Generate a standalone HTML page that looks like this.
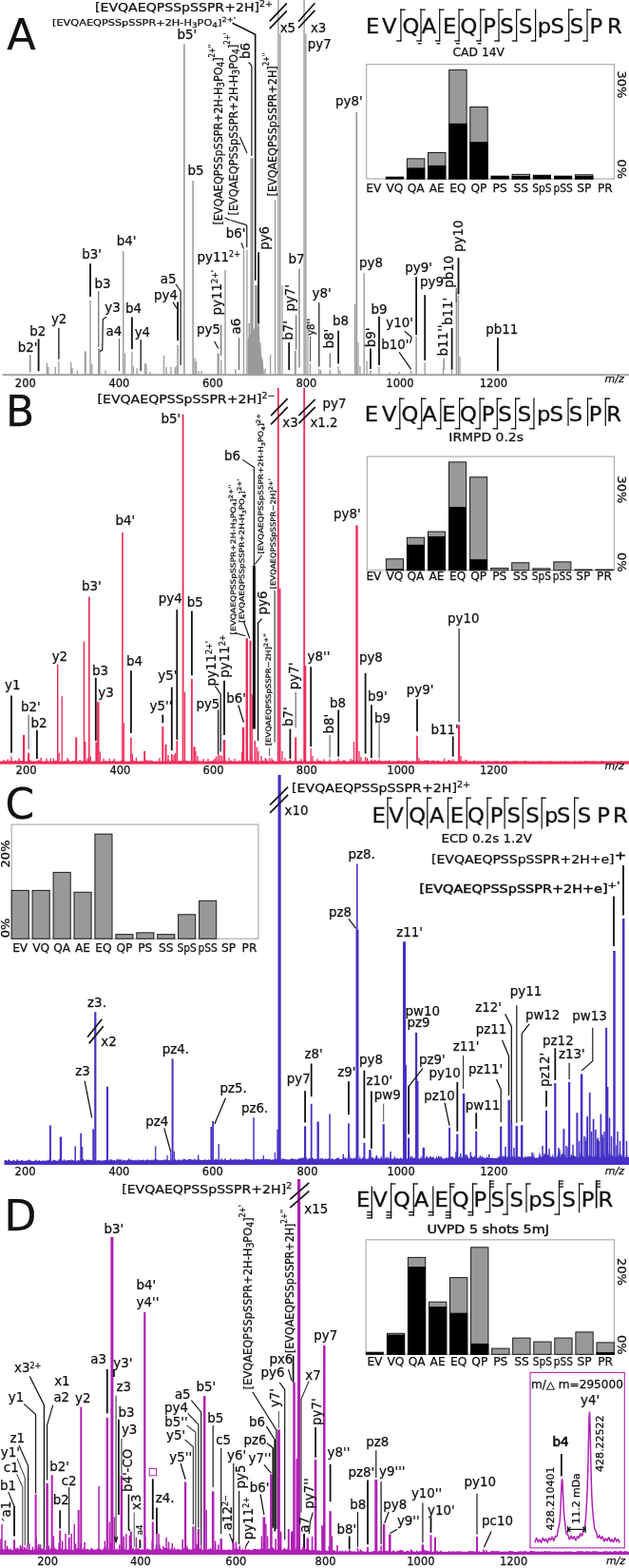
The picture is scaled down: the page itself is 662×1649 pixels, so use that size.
<!DOCTYPE html>
<html><head><meta charset="utf-8"><title>Figure</title>
<style>
html,body{margin:0;padding:0;background:#fff;}
svg{display:block;font-family:"DejaVu Sans","Liberation Sans",sans-serif;}
</style></head><body>
<svg width="662" height="1649" viewBox="0 0 662 1649">
<rect x="0" y="0" width="662" height="1649" fill="#fff"/>
<line x1="49.4" y1="394.2" x2="49.4" y2="381.6" stroke="#9a9a9a" stroke-width="1.3"/>
<line x1="50.9" y1="394.2" x2="50.9" y2="386" stroke="#9a9a9a" stroke-width="1.3"/>
<line x1="58.4" y1="394.2" x2="58.4" y2="385.8" stroke="#9a9a9a" stroke-width="1.3"/>
<line x1="61.9" y1="394.2" x2="61.9" y2="380.3" stroke="#9a9a9a" stroke-width="1.3"/>
<line x1="74.7" y1="394.2" x2="74.7" y2="381" stroke="#9a9a9a" stroke-width="1.3"/>
<line x1="76" y1="394.2" x2="76" y2="387" stroke="#9a9a9a" stroke-width="1.3"/>
<line x1="81.5" y1="394.2" x2="81.5" y2="389.5" stroke="#9a9a9a" stroke-width="1.3"/>
<line x1="96.8" y1="394.2" x2="96.8" y2="382.8" stroke="#9a9a9a" stroke-width="1.3"/>
<line x1="111" y1="394.2" x2="111" y2="389.5" stroke="#9a9a9a" stroke-width="1.3"/>
<line x1="131.4" y1="394.2" x2="131.4" y2="371.5" stroke="#9a9a9a" stroke-width="1.3"/>
<line x1="138.9" y1="394.2" x2="138.9" y2="369.8" stroke="#9a9a9a" stroke-width="1.3"/>
<line x1="140.4" y1="394.2" x2="140.4" y2="385" stroke="#9a9a9a" stroke-width="1.3"/>
<line x1="144.2" y1="394.2" x2="144.2" y2="387.3" stroke="#9a9a9a" stroke-width="1.3"/>
<line x1="152.7" y1="394.2" x2="152.7" y2="382" stroke="#9a9a9a" stroke-width="1.3"/>
<line x1="154" y1="394.2" x2="154" y2="383" stroke="#9a9a9a" stroke-width="1.3"/>
<line x1="158" y1="394.2" x2="158" y2="391" stroke="#9a9a9a" stroke-width="1.3"/>
<line x1="89.8" y1="394.2" x2="89.8" y2="369.5" stroke="#9a9a9a" stroke-width="2.0"/>
<line x1="95" y1="394.2" x2="95" y2="315.9" stroke="#9a9a9a" stroke-width="1.4"/>
<line x1="104.3" y1="394.2" x2="104.3" y2="366.5" stroke="#9a9a9a" stroke-width="2.6"/>
<line x1="129.7" y1="394.2" x2="129.7" y2="263.9" stroke="#9a9a9a" stroke-width="1.4"/>
<line x1="172.5" y1="394.2" x2="172.5" y2="374" stroke="#9a9a9a" stroke-width="1.3"/>
<line x1="175" y1="394.2" x2="175" y2="386" stroke="#9a9a9a" stroke-width="1.3"/>
<line x1="180" y1="394.2" x2="180" y2="386" stroke="#9a9a9a" stroke-width="1.3"/>
<line x1="184.3" y1="394.2" x2="184.3" y2="386" stroke="#9a9a9a" stroke-width="1.3"/>
<line x1="186" y1="394.2" x2="186" y2="384.5" stroke="#9a9a9a" stroke-width="1.3"/>
<line x1="205" y1="394.2" x2="205" y2="376.5" stroke="#9a9a9a" stroke-width="1.3"/>
<line x1="206.5" y1="394.2" x2="206.5" y2="380" stroke="#9a9a9a" stroke-width="1.3"/>
<line x1="209" y1="394.2" x2="209" y2="390" stroke="#9a9a9a" stroke-width="1.3"/>
<line x1="212" y1="394.2" x2="212" y2="390" stroke="#9a9a9a" stroke-width="1.3"/>
<line x1="232.7" y1="394.2" x2="232.7" y2="379" stroke="#9a9a9a" stroke-width="1.3"/>
<line x1="247.8" y1="394.2" x2="247.8" y2="388" stroke="#9a9a9a" stroke-width="1.3"/>
<line x1="279" y1="394.2" x2="279" y2="388" stroke="#9a9a9a" stroke-width="1.3"/>
<line x1="284.6" y1="394.2" x2="284.6" y2="372.8" stroke="#9a9a9a" stroke-width="1.3"/>
<line x1="187.1" y1="394.2" x2="187.1" y2="362.7" stroke="#9a9a9a" stroke-width="1.6"/>
<line x1="193.9" y1="394.2" x2="193.9" y2="46.2" stroke="#9a9a9a" stroke-width="1.6"/>
<line x1="203.1" y1="394.2" x2="203.1" y2="190.1" stroke="#9a9a9a" stroke-width="1.5"/>
<line x1="229.7" y1="394.2" x2="229.7" y2="371.5" stroke="#9a9a9a" stroke-width="2.2"/>
<line x1="237" y1="394.2" x2="237" y2="284" stroke="#9a9a9a" stroke-width="1.4"/>
<line x1="256.5" y1="394.2" x2="256.5" y2="262.8" stroke="#9a9a9a" stroke-width="1.3"/>
<line x1="259.9" y1="394.2" x2="259.9" y2="262.8" stroke="#9a9a9a" stroke-width="1.3"/>
<line x1="262.3" y1="394.2" x2="262.3" y2="340" stroke="#9a9a9a" stroke-width="1.6"/>
<line x1="265.1" y1="394.2" x2="265.1" y2="166.3" stroke="#9a9a9a" stroke-width="3.3"/>
<line x1="268.9" y1="394.2" x2="268.9" y2="300" stroke="#9a9a9a" stroke-width="1.8"/>
<line x1="270.3" y1="394.2" x2="270.3" y2="300" stroke="#9a9a9a" stroke-width="1.3"/>
<line x1="272.1" y1="394.2" x2="272.1" y2="340.2" stroke="#9a9a9a" stroke-width="1.6"/>
<line x1="274" y1="394.2" x2="274" y2="360" stroke="#9a9a9a" stroke-width="1.3"/>
<line x1="276" y1="394.2" x2="276" y2="378" stroke="#9a9a9a" stroke-width="1.3"/>
<path d="M260.6,394 L260.6,358 L262.5,352 L263.6,352 L266.3,348 L267.8,345 L270.5,343 L272.8,343 L273.6,362 L275,372 L276.5,380 L277.5,388 L278,394 Z" fill="#9a9a9a"/>
<line x1="289.6" y1="394.2" x2="289.6" y2="210" stroke="#9a9a9a" stroke-width="1.2"/>
<line x1="292.9" y1="394.2" x2="292.9" y2="0" stroke="#9a9a9a" stroke-width="1.4"/>
<line x1="294.8" y1="394.2" x2="294.8" y2="35.5" stroke="#9a9a9a" stroke-width="1.4"/>
<line x1="297" y1="394.2" x2="297" y2="300" stroke="#9a9a9a" stroke-width="1.2"/>
<line x1="310.8" y1="394.2" x2="310.8" y2="369" stroke="#9a9a9a" stroke-width="2.0"/>
<line x1="320.1" y1="394.2" x2="320.1" y2="0" stroke="#9a9a9a" stroke-width="1.4"/>
<line x1="321.9" y1="394.2" x2="321.9" y2="35.5" stroke="#9a9a9a" stroke-width="1.4"/>
<line x1="324" y1="394.2" x2="324" y2="340" stroke="#9a9a9a" stroke-width="1.2"/>
<line x1="326.5" y1="394.2" x2="326.5" y2="382.4" stroke="#9a9a9a" stroke-width="1.3"/>
<line x1="335.8" y1="394.2" x2="335.8" y2="388" stroke="#9a9a9a" stroke-width="1.3"/>
<line x1="337.5" y1="394.2" x2="337.5" y2="389" stroke="#9a9a9a" stroke-width="1.3"/>
<line x1="347.3" y1="394.2" x2="347.3" y2="389" stroke="#9a9a9a" stroke-width="1.3"/>
<line x1="356.1" y1="394.2" x2="356.1" y2="385.4" stroke="#9a9a9a" stroke-width="1.3"/>
<line x1="358" y1="394.2" x2="358" y2="390" stroke="#9a9a9a" stroke-width="1.3"/>
<line x1="390" y1="394.2" x2="390" y2="389.5" stroke="#9a9a9a" stroke-width="1.3"/>
<line x1="399" y1="394.2" x2="399" y2="386" stroke="#9a9a9a" stroke-width="1.3"/>
<line x1="432.6" y1="394.2" x2="432.6" y2="390" stroke="#9a9a9a" stroke-width="1.3"/>
<line x1="447.2" y1="394.2" x2="447.2" y2="381.6" stroke="#9a9a9a" stroke-width="1.3"/>
<line x1="466.5" y1="394.2" x2="466.5" y2="388" stroke="#9a9a9a" stroke-width="1.3"/>
<line x1="475.5" y1="394.2" x2="475.5" y2="389.5" stroke="#9a9a9a" stroke-width="1.3"/>
<line x1="386" y1="394.2" x2="386" y2="380" stroke="#9a9a9a" stroke-width="1.3"/>
<line x1="379" y1="394.2" x2="379" y2="385" stroke="#9a9a9a" stroke-width="1.3"/>
<line x1="420" y1="394.2" x2="420" y2="391" stroke="#9a9a9a" stroke-width="1.3"/>
<line x1="410" y1="394.2" x2="410" y2="391.5" stroke="#9a9a9a" stroke-width="1.3"/>
<line x1="373.6" y1="394.2" x2="373.6" y2="320" stroke="#9a9a9a" stroke-width="1.3"/>
<line x1="375.3" y1="394.2" x2="375.3" y2="118" stroke="#9a9a9a" stroke-width="1.8"/>
<line x1="377" y1="394.2" x2="377" y2="360" stroke="#9a9a9a" stroke-width="1.2"/>
<line x1="383.2" y1="394.2" x2="383.2" y2="287" stroke="#9a9a9a" stroke-width="1.4"/>
<line x1="438.1" y1="394.2" x2="438.1" y2="354" stroke="#9a9a9a" stroke-width="1.6"/>
<line x1="480.4" y1="394.2" x2="480.4" y2="307" stroke="#9a9a9a" stroke-width="1.5"/>
<line x1="482.4" y1="394.2" x2="482.4" y2="311" stroke="#9a9a9a" stroke-width="1.4"/>
<line x1="484" y1="394.2" x2="484" y2="375" stroke="#9a9a9a" stroke-width="1.2"/>
<line x1="2.5" y1="394.2" x2="662" y2="394.2" stroke="#a0a0a0" stroke-width="2.0"/>
<text x="26.8" y="407.0" font-size="11.5" text-anchor="middle" font-weight="normal" font-style="normal" fill="#111" stroke="#111" stroke-width="0.25">200</text>
<text x="125.4" y="407.0" font-size="11.5" text-anchor="middle" font-weight="normal" font-style="normal" fill="#111" stroke="#111" stroke-width="0.25">400</text>
<text x="223.9" y="407.0" font-size="11.5" text-anchor="middle" font-weight="normal" font-style="normal" fill="#111" stroke="#111" stroke-width="0.25">600</text>
<text x="322.4" y="407.0" font-size="11.5" text-anchor="middle" font-weight="normal" font-style="normal" fill="#111" stroke="#111" stroke-width="0.25">800</text>
<text x="421" y="407.0" font-size="11.5" text-anchor="middle" font-weight="normal" font-style="normal" fill="#111" stroke="#111" stroke-width="0.25">1000</text>
<text x="519.4" y="407.0" font-size="11.5" text-anchor="middle" font-weight="normal" font-style="normal" fill="#111" stroke="#111" stroke-width="0.25">1200</text>
<text x="636.5" y="402.0" font-size="11" text-anchor="start" font-weight="normal" font-style="italic" fill="#111" stroke="#111" stroke-width="0.25">m/z</text>
<line x1="31.8" y1="373.3" x2="31.8" y2="391.6" stroke="#555" stroke-width="1.05"/>
<line x1="40.6" y1="356.5" x2="40.6" y2="390.3" stroke="#111" stroke-width="1.8"/>
<line x1="61.9" y1="344.7" x2="61.9" y2="377.8" stroke="#111" stroke-width="1.3"/>
<line x1="95" y1="277.2" x2="95" y2="312" stroke="#111" stroke-width="1.8"/>
<line x1="103.8" y1="306.3" x2="103.8" y2="365" stroke="#555" stroke-width="1.05"/>
<polyline points="112.1,333.2 108.3,335.7 107.8,367.8 105.3,369.8" fill="none" stroke="#111" stroke-width="1.15"/>
<line x1="125.6" y1="356" x2="125.6" y2="390.3" stroke="#555" stroke-width="1.05"/>
<line x1="138.9" y1="333.4" x2="138.9" y2="367.3" stroke="#111" stroke-width="1.8"/>
<line x1="148.2" y1="357.2" x2="148.2" y2="390.3" stroke="#111" stroke-width="1.3"/>
<polyline points="185,298.8 190.1,306.3 190.1,384" fill="none" stroke="#111" stroke-width="1.15"/>
<line x1="182" y1="317.6" x2="186.3" y2="324.6" stroke="#111" stroke-width="1.15"/>
<line x1="187.1" y1="317.6" x2="187.1" y2="358.2" stroke="#111" stroke-width="1.8"/>
<line x1="225.7" y1="359" x2="229.7" y2="366.5" stroke="#111" stroke-width="1.15"/>
<line x1="232.7" y1="341.4" x2="232.7" y2="374" stroke="#555" stroke-width="1.05"/>
<line x1="251.5" y1="355.2" x2="251.5" y2="389" stroke="#555" stroke-width="1.05"/>
<line x1="272.1" y1="265.3" x2="272.1" y2="340.2" stroke="#111" stroke-width="1.8"/>
<line x1="304.2" y1="360.2" x2="304.2" y2="389" stroke="#111" stroke-width="1.8"/>
<line x1="311.7" y1="331.4" x2="311.7" y2="367.8" stroke="#555" stroke-width="1.05"/>
<line x1="315" y1="282.5" x2="315" y2="386.6" stroke="#555" stroke-width="1.05"/>
<line x1="326.5" y1="354" x2="326.5" y2="380.4" stroke="#555" stroke-width="1.05"/>
<line x1="335.8" y1="318.2" x2="335.8" y2="385.4" stroke="#111" stroke-width="1.15"/>
<line x1="347.3" y1="371.6" x2="347.3" y2="386.6" stroke="#555" stroke-width="1.05"/>
<line x1="356.1" y1="347.8" x2="356.1" y2="382.4" stroke="#111" stroke-width="1.8"/>
<line x1="390" y1="366.6" x2="390" y2="387.9" stroke="#111" stroke-width="1.8"/>
<line x1="399" y1="332.7" x2="399" y2="384" stroke="#111" stroke-width="1.8"/>
<line x1="420.1" y1="370.3" x2="432.6" y2="388.4" stroke="#111" stroke-width="1.15"/>
<line x1="425.8" y1="348.3" x2="433.4" y2="354.8" stroke="#111" stroke-width="1.15"/>
<line x1="433.4" y1="354.8" x2="431.5" y2="361" stroke="#111" stroke-width="1.15"/>
<line x1="438.1" y1="291.3" x2="438.1" y2="352.3" stroke="#111" stroke-width="1.8"/>
<line x1="447.2" y1="310.2" x2="447.2" y2="379.1" stroke="#111" stroke-width="1.8"/>
<line x1="467.1" y1="376.7" x2="467.1" y2="388.8" stroke="#555" stroke-width="1.05"/>
<line x1="475.6" y1="345" x2="475.6" y2="388.8" stroke="#111" stroke-width="1.8"/>
<line x1="480.2" y1="303" x2="480.2" y2="318" stroke="#555" stroke-width="1.05"/>
<line x1="482.5" y1="271" x2="482.5" y2="309.4" stroke="#111" stroke-width="1.8"/>
<line x1="523.9" y1="355" x2="523.9" y2="390.3" stroke="#111" stroke-width="1.8"/>
<polyline points="244.5,24.2 268.7,36.3 268.7,295" fill="none" stroke="#111" stroke-width="1.6"/>
<polyline points="261.5,65.8 263.6,67.2 264.9,70.2 264.9,164" fill="none" stroke="#111" stroke-width="1.15"/>
<line x1="252.5" y1="144" x2="260" y2="161" stroke="#111" stroke-width="1.15"/>
<line x1="236.5" y1="229" x2="242" y2="231.5" stroke="#111" stroke-width="1.15"/>
<polyline points="242.7,231.5 259,236.5 259.8,238 259.8,260.3" fill="none" stroke="#111" stroke-width="1.15"/>
<line x1="254" y1="255.3" x2="256.5" y2="261.6" stroke="#111" stroke-width="1.15"/>
<line x1="283.8" y1="22.4" x2="301.9" y2="3.3" stroke="#111" stroke-width="1.7"/>
<line x1="283.8" y1="30.2" x2="301.9" y2="11.3" stroke="#111" stroke-width="1.7"/>
<line x1="314" y1="22.7" x2="331.4" y2="3.3" stroke="#111" stroke-width="1.7"/>
<line x1="314" y1="29.5" x2="331.4" y2="10.9" stroke="#111" stroke-width="1.7"/>
<text x="7.3" y="52" font-size="44.5" text-anchor="start" font-weight="normal" font-style="normal" fill="#111" stroke="#111" stroke-width="0.25">A</text>
<text x="18.8" y="369.8" font-size="13.4" text-anchor="start" font-weight="normal" font-style="normal" fill="#111" stroke="#111" stroke-width="0.25">b2'</text>
<text x="31.3" y="352.7" font-size="13.4" text-anchor="start" font-weight="normal" font-style="normal" fill="#111" stroke="#111" stroke-width="0.25">b2</text>
<text x="53.9" y="340.2" font-size="13.4" text-anchor="start" font-weight="normal" font-style="normal" fill="#111" stroke="#111" stroke-width="0.25">y2</text>
<text x="86.3" y="272.2" font-size="13.4" text-anchor="start" font-weight="normal" font-style="normal" fill="#111" stroke="#111" stroke-width="0.25">b3'</text>
<text x="99.5" y="303" font-size="13.4" text-anchor="start" font-weight="normal" font-style="normal" fill="#111" stroke="#111" stroke-width="0.25">b3</text>
<text x="110.3" y="328.1" font-size="13.4" text-anchor="start" font-weight="normal" font-style="normal" fill="#111" stroke="#111" stroke-width="0.25">y3</text>
<text x="111.6" y="352.7" font-size="13.4" text-anchor="start" font-weight="normal" font-style="normal" fill="#111" stroke="#111" stroke-width="0.25">a4</text>
<text x="132.1" y="328.9" font-size="13.4" text-anchor="start" font-weight="normal" font-style="normal" fill="#111" stroke="#111" stroke-width="0.25">b4</text>
<text x="141.7" y="354" font-size="13.4" text-anchor="start" font-weight="normal" font-style="normal" fill="#111" stroke="#111" stroke-width="0.25">y4</text>
<text x="122.7" y="257.7" font-size="13.4" text-anchor="start" font-weight="normal" font-style="normal" fill="#111" stroke="#111" stroke-width="0.25">b4'</text>
<text x="168.8" y="297.6" font-size="13.4" text-anchor="start" font-weight="normal" font-style="normal" fill="#111" stroke="#111" stroke-width="0.25">a5</text>
<text x="162" y="315.1" font-size="13.4" text-anchor="start" font-weight="normal" font-style="normal" fill="#111" stroke="#111" stroke-width="0.25">py4</text>
<text x="207.1" y="351" font-size="13.4" text-anchor="start" font-weight="normal" font-style="normal" fill="#111" stroke="#111" stroke-width="0.25">py5</text>
<text x="197.6" y="183.9" font-size="13.4" text-anchor="start" font-weight="normal" font-style="normal" fill="#111" stroke="#111" stroke-width="0.25">b5</text>
<text x="186.4" y="41.4" font-size="13.4" text-anchor="start" font-weight="normal" font-style="normal" fill="#111" stroke="#111" stroke-width="0.25">b5'</text>
<text x="207.6" y="275.4" font-size="13.4" text-anchor="start" font-weight="normal" font-style="normal" fill="#111" stroke="#111" stroke-width="0.25">py11<tspan font-size="8" dy="-5">2+</tspan></text>
<text x="237.7" y="249.8" font-size="13.4" text-anchor="start" font-weight="normal" font-style="normal" fill="#111" stroke="#111" stroke-width="0.25">b6'</text>
<text x="303.4" y="276.6" font-size="13.4" text-anchor="start" font-weight="normal" font-style="normal" fill="#111" stroke="#111" stroke-width="0.25">b7</text>
<text x="233.5" y="331.4" font-size="13.4" text-anchor="start" font-weight="normal" font-style="normal" fill="#111" stroke="#111" stroke-width="0.25" transform="rotate(-90 233.5 331.4)">py11<tspan font-size="8" dy="-4">2+'</tspan></text>
<text x="252.8" y="351.5" font-size="13.4" text-anchor="start" font-weight="normal" font-style="normal" fill="#111" stroke="#111" stroke-width="0.25" transform="rotate(-90 252.8 351.5)">a6</text>
<text x="308" y="357.7" font-size="13.4" text-anchor="start" font-weight="normal" font-style="normal" fill="#111" stroke="#111" stroke-width="0.25" transform="rotate(-90 308 357.7)">b7'</text>
<text x="310.3" y="327.6" font-size="13.4" text-anchor="start" font-weight="normal" font-style="normal" fill="#111" stroke="#111" stroke-width="0.25" transform="rotate(-90 310.3 327.6)">py7'</text>
<text x="282.9" y="262.8" font-size="13.4" text-anchor="start" font-weight="normal" font-style="normal" fill="#111" stroke="#111" stroke-width="0.25" transform="rotate(-90 282.9 262.8)">py6</text>
<text x="263.4" y="62" font-size="13.4" text-anchor="start" font-weight="normal" font-style="normal" fill="#111" stroke="#111" stroke-width="0.25" transform="rotate(-90 263.4 62)">b6</text>
<text x="294.7" y="33.5" font-size="13.4" text-anchor="start" font-weight="normal" font-style="normal" fill="#111" stroke="#111" stroke-width="0.25">x5</text>
<text x="326.9" y="33.5" font-size="13.4" text-anchor="start" font-weight="normal" font-style="normal" fill="#111" stroke="#111" stroke-width="0.25">x3</text>
<text x="323.8" y="50.6" font-size="13.4" text-anchor="start" font-weight="normal" font-style="normal" fill="#111" stroke="#111" stroke-width="0.25">py7</text>
<text x="100" y="12" font-size="12.6" text-anchor="start" font-weight="normal" font-style="normal" fill="#111" stroke="#111" stroke-width="0.25" textLength="187" lengthAdjust="spacingAndGlyphs">[EVQAEQPSSpSSPR+2H]<tspan font-size="8.5" dy="-5">2+</tspan></text>
<text x="55" y="26.6" font-size="9.5" text-anchor="start" font-weight="normal" font-style="normal" fill="#111" stroke="#111" stroke-width="0.25" textLength="193" lengthAdjust="spacingAndGlyphs">[EVQAEQPSSpSSPR+2H-H<tspan font-size="7.5" dy="2">3</tspan><tspan dy="-2">PO</tspan><tspan font-size="7.5" dy="2">4</tspan><tspan dy="-2">]</tspan><tspan font-size="7" dy="-4">2+'</tspan></text>
<text x="233.6" y="236.5" font-size="13" text-anchor="start" font-weight="normal" font-style="normal" fill="#111" stroke="#111" stroke-width="0.25" transform="rotate(-90 233.6 236.5)" textLength="190" lengthAdjust="spacingAndGlyphs">[EVQAEQPSSpSSPR+2H-H<tspan font-size="10.5" dy="2">3</tspan><tspan dy="-2">PO</tspan><tspan font-size="10.5" dy="2">4</tspan><tspan dy="-2">]</tspan><tspan font-size="8" dy="-8">2+''</tspan></text>
<text x="250.2" y="226.5" font-size="13" text-anchor="start" font-weight="normal" font-style="normal" fill="#111" stroke="#111" stroke-width="0.25" transform="rotate(-90 250.2 226.5)" textLength="192" lengthAdjust="spacingAndGlyphs">[EVQAEQPSSpSSPR+2H-H<tspan font-size="10.5" dy="2">3</tspan><tspan dy="-2">PO</tspan><tspan font-size="10.5" dy="2">4</tspan><tspan dy="-2">]</tspan><tspan font-size="8" dy="-8">2+'</tspan></text>
<text x="290.6" y="206.4" font-size="13" text-anchor="start" font-weight="normal" font-style="normal" fill="#111" stroke="#111" stroke-width="0.25" transform="rotate(-90 290.6 206.4)" textLength="151" lengthAdjust="spacingAndGlyphs">[EVQAEQPSSpSSPR+2H]<tspan font-size="8" dy="-8">2+''</tspan></text>
<text x="378" y="281.3" font-size="13.4" text-anchor="start" font-weight="normal" font-style="normal" fill="#111" stroke="#111" stroke-width="0.25">py8</text>
<text x="328.5" y="313.2" font-size="13.4" text-anchor="start" font-weight="normal" font-style="normal" fill="#111" stroke="#111" stroke-width="0.25">y8'</text>
<text x="331.5" y="352.8" font-size="10" text-anchor="start" font-weight="normal" font-style="normal" fill="#111" stroke="#111" stroke-width="0.25" transform="rotate(-90 331.5 352.8)">y8''</text>
<text x="351.1" y="366.6" font-size="13.4" text-anchor="start" font-weight="normal" font-style="normal" fill="#111" stroke="#111" stroke-width="0.25" transform="rotate(-90 351.1 366.6)">b8'</text>
<text x="349.9" y="341.5" font-size="13.4" text-anchor="start" font-weight="normal" font-style="normal" fill="#111" stroke="#111" stroke-width="0.25">b8</text>
<text x="390.5" y="330.2" font-size="13.4" text-anchor="start" font-weight="normal" font-style="normal" fill="#111" stroke="#111" stroke-width="0.25">b9</text>
<text x="395" y="365.3" font-size="13.4" text-anchor="start" font-weight="normal" font-style="normal" fill="#111" stroke="#111" stroke-width="0.25" transform="rotate(-90 395 365.3)">b9'</text>
<text x="406.3" y="344" font-size="13.4" text-anchor="start" font-weight="normal" font-style="normal" fill="#111" stroke="#111" stroke-width="0.25">y10'</text>
<text x="401.3" y="366.6" font-size="13.4" text-anchor="start" font-weight="normal" font-style="normal" fill="#111" stroke="#111" stroke-width="0.25">b10'</text>
<text x="426.3" y="286.3" font-size="13.4" text-anchor="start" font-weight="normal" font-style="normal" fill="#111" stroke="#111" stroke-width="0.25">py9'</text>
<text x="442.1" y="301.4" font-size="13.4" text-anchor="start" font-weight="normal" font-style="normal" fill="#111" stroke="#111" stroke-width="0.25">py9</text>
<text x="471" y="374.5" font-size="13.4" text-anchor="start" font-weight="normal" font-style="normal" fill="#111" stroke="#111" stroke-width="0.25" transform="rotate(-90 471 374.5)">b11''</text>
<text x="476.4" y="342" font-size="13.4" text-anchor="start" font-weight="normal" font-style="normal" fill="#111" stroke="#111" stroke-width="0.25" transform="rotate(-90 476.4 342)">b11'</text>
<text x="477.1" y="302.7" font-size="13.4" text-anchor="start" font-weight="normal" font-style="normal" fill="#111" stroke="#111" stroke-width="0.25" transform="rotate(-90 477.1 302.7)">pb10</text>
<text x="486.8" y="265" font-size="13.4" text-anchor="start" font-weight="normal" font-style="normal" fill="#111" stroke="#111" stroke-width="0.25" transform="rotate(-90 486.8 265)">py10</text>
<text x="511.2" y="351" font-size="13.4" text-anchor="start" font-weight="normal" font-style="normal" fill="#111" stroke="#111" stroke-width="0.25">pb11</text>
<text x="353" y="110.6" font-size="13.4" text-anchor="start" font-weight="normal" font-style="normal" fill="#111" stroke="#111" stroke-width="0.25">py8'</text>
<text transform="translate(384.9,35.2) scale(1.08,1)" font-size="21" fill="#111" stroke="#111" stroke-width="0.3">E</text>
<text transform="translate(401.9,35.2) scale(1.08,1)" font-size="21" fill="#111" stroke="#111" stroke-width="0.3">V</text>
<text transform="translate(423.4,35.2) scale(1.08,1)" font-size="21" fill="#111" stroke="#111" stroke-width="0.3">Q</text>
<text transform="translate(443.8,35.2) scale(1.08,1)" font-size="21" fill="#111" stroke="#111" stroke-width="0.3">A</text>
<text transform="translate(466.0,35.2) scale(1.08,1)" font-size="21" fill="#111" stroke="#111" stroke-width="0.3">E</text>
<text transform="translate(484.6,35.2) scale(1.08,1)" font-size="21" fill="#111" stroke="#111" stroke-width="0.3">Q</text>
<text transform="translate(508.3,35.2) scale(1.08,1)" font-size="21" fill="#111" stroke="#111" stroke-width="0.3">P</text>
<text transform="translate(526.2,35.2) scale(1.08,1)" font-size="21" fill="#111" stroke="#111" stroke-width="0.3">S</text>
<text transform="translate(546.0,35.2) scale(1.08,1)" font-size="21" fill="#111" stroke="#111" stroke-width="0.3">S</text>
<text transform="translate(565.8,35.2) scale(1.08,1)" font-size="21" fill="#111" stroke="#111" stroke-width="0.3">p</text>
<text transform="translate(579.4,35.2) scale(1.08,1)" font-size="21" fill="#111" stroke="#111" stroke-width="0.3">S</text>
<text transform="translate(599.7,35.2) scale(1.08,1)" font-size="21" fill="#111" stroke="#111" stroke-width="0.3">S</text>
<text transform="translate(620.5,35.2) scale(1.08,1)" font-size="21" fill="#111" stroke="#111" stroke-width="0.3">P</text>
<text transform="translate(639.1,35.2) scale(1.08,1)" font-size="21" fill="#111" stroke="#111" stroke-width="0.3">R</text>
<line x1="421.9" y1="9.6" x2="421.9" y2="43.6" stroke="#111" stroke-width="1.25"/>
<line x1="421.29999999999995" y1="10.2" x2="426.7" y2="10.2" stroke="#111" stroke-width="1.35"/>
<line x1="422.5" y1="43" x2="417.09999999999997" y2="43" stroke="#111" stroke-width="1.35"/>
<line x1="443" y1="9.6" x2="443" y2="43.6" stroke="#111" stroke-width="1.25"/>
<line x1="442.4" y1="10.2" x2="447.8" y2="10.2" stroke="#111" stroke-width="1.35"/>
<line x1="443.6" y1="43" x2="438.2" y2="43" stroke="#111" stroke-width="1.35"/>
<line x1="443.6" y1="45.8" x2="439.8" y2="45.8" stroke="#111" stroke-width="1.35"/>
<line x1="462.7" y1="9.6" x2="462.7" y2="43.6" stroke="#111" stroke-width="1.25"/>
<line x1="462.09999999999997" y1="10.2" x2="467.5" y2="10.2" stroke="#111" stroke-width="1.35"/>
<line x1="463.3" y1="43" x2="457.9" y2="43" stroke="#111" stroke-width="1.35"/>
<line x1="463.3" y1="45.8" x2="459.5" y2="45.8" stroke="#111" stroke-width="1.35"/>
<line x1="483.1" y1="9.6" x2="483.1" y2="43.6" stroke="#111" stroke-width="1.25"/>
<line x1="482.5" y1="10.2" x2="487.90000000000003" y2="10.2" stroke="#111" stroke-width="1.35"/>
<line x1="483.70000000000005" y1="43" x2="478.3" y2="43" stroke="#111" stroke-width="1.35"/>
<line x1="483.70000000000005" y1="45.8" x2="479.90000000000003" y2="45.8" stroke="#111" stroke-width="1.35"/>
<line x1="505.8" y1="9.6" x2="505.8" y2="43.6" stroke="#111" stroke-width="1.25"/>
<line x1="505.2" y1="10.2" x2="510.6" y2="10.2" stroke="#111" stroke-width="1.35"/>
<line x1="506.40000000000003" y1="43" x2="501.0" y2="43" stroke="#111" stroke-width="1.35"/>
<line x1="506.40000000000003" y1="45.8" x2="502.6" y2="45.8" stroke="#111" stroke-width="1.35"/>
<line x1="525" y1="9.6" x2="525" y2="43.6" stroke="#111" stroke-width="1.25"/>
<line x1="524.4" y1="10.2" x2="529.8" y2="10.2" stroke="#111" stroke-width="1.35"/>
<line x1="525.6" y1="43" x2="520.2" y2="43" stroke="#111" stroke-width="1.35"/>
<line x1="543.6" y1="9.6" x2="543.6" y2="43.6" stroke="#111" stroke-width="1.25"/>
<line x1="543.0" y1="10.2" x2="548.4" y2="10.2" stroke="#111" stroke-width="1.35"/>
<line x1="544.2" y1="43" x2="538.8000000000001" y2="43" stroke="#111" stroke-width="1.35"/>
<line x1="563.6" y1="9.6" x2="563.6" y2="43.6" stroke="#111" stroke-width="1.25"/>
<line x1="564.2" y1="43" x2="558.8000000000001" y2="43" stroke="#111" stroke-width="1.35"/>
<line x1="598.7" y1="9.6" x2="598.7" y2="43.6" stroke="#111" stroke-width="1.25"/>
<line x1="598.1" y1="10.2" x2="603.5" y2="10.2" stroke="#111" stroke-width="1.35"/>
<line x1="599.3000000000001" y1="43" x2="593.9000000000001" y2="43" stroke="#111" stroke-width="1.35"/>
<line x1="618" y1="9.6" x2="618" y2="43.6" stroke="#111" stroke-width="1.25"/>
<line x1="617.4" y1="10.2" x2="622.8" y2="10.2" stroke="#111" stroke-width="1.35"/>
<line x1="618.6" y1="43" x2="613.2" y2="43" stroke="#111" stroke-width="1.35"/>
<text x="476.5" y="58.6" font-size="12.3" text-anchor="start" font-weight="normal" font-style="normal" fill="#111" stroke="#111" stroke-width="0.25">CAD 14V</text>
<rect x="385.7" y="67.7" width="260.8" height="120.39999999999999" fill="#fff" stroke="#adadad" stroke-width="1.2"/>
<rect x="406.2" y="186.1" width="18.4" height="2" fill="#000" stroke="#000" stroke-width="0.8"/>
<rect x="428.4" y="166.9" width="18.4" height="21.2" fill="#999" stroke="#1a1a1a" stroke-width="1.0"/>
<rect x="428.4" y="176.9" width="18.4" height="11.2" fill="#000" stroke="#000" stroke-width="0.8"/>
<rect x="450.5" y="160.5" width="18.4" height="27.6" fill="#999" stroke="#1a1a1a" stroke-width="1.0"/>
<rect x="450.5" y="174.3" width="18.4" height="13.8" fill="#000" stroke="#000" stroke-width="0.8"/>
<rect x="472.7" y="73.6" width="18.4" height="114.5" fill="#999" stroke="#1a1a1a" stroke-width="1.0"/>
<rect x="472.7" y="130.2" width="18.4" height="57.9" fill="#000" stroke="#000" stroke-width="0.8"/>
<rect x="494.8" y="112.5" width="18.4" height="75.6" fill="#999" stroke="#1a1a1a" stroke-width="1.0"/>
<rect x="494.8" y="149.7" width="18.4" height="38.4" fill="#000" stroke="#000" stroke-width="0.8"/>
<rect x="516.9" y="185.1" width="18.4" height="3" fill="#000" stroke="#000" stroke-width="0.8"/>
<rect x="539.1" y="183.4" width="18.4" height="4.7" fill="#999" stroke="#1a1a1a" stroke-width="1.0"/>
<rect x="539.1" y="185.5" width="18.4" height="2.6" fill="#000" stroke="#000" stroke-width="0.8"/>
<rect x="561.2" y="184.2" width="18.4" height="3.9" fill="#000" stroke="#000" stroke-width="0.8"/>
<rect x="583.4" y="185.1" width="18.4" height="3" fill="#000" stroke="#000" stroke-width="0.8"/>
<rect x="605.5" y="183.8" width="18.4" height="4.3" fill="#999" stroke="#1a1a1a" stroke-width="1.0"/>
<rect x="605.5" y="185.5" width="18.4" height="2.6" fill="#000" stroke="#000" stroke-width="0.8"/>
<text x="393.3" y="201.9" font-size="12.2" text-anchor="middle" font-weight="normal" font-style="normal" fill="#111" stroke="#111" stroke-width="0.25">EV</text>
<text x="415.4" y="201.9" font-size="12.2" text-anchor="middle" font-weight="normal" font-style="normal" fill="#111" stroke="#111" stroke-width="0.25">VQ</text>
<text x="437.6" y="201.9" font-size="12.2" text-anchor="middle" font-weight="normal" font-style="normal" fill="#111" stroke="#111" stroke-width="0.25">QA</text>
<text x="459.7" y="201.9" font-size="12.2" text-anchor="middle" font-weight="normal" font-style="normal" fill="#111" stroke="#111" stroke-width="0.25">AE</text>
<text x="481.9" y="201.9" font-size="12.2" text-anchor="middle" font-weight="normal" font-style="normal" fill="#111" stroke="#111" stroke-width="0.25">EQ</text>
<text x="504.0" y="201.9" font-size="12.2" text-anchor="middle" font-weight="normal" font-style="normal" fill="#111" stroke="#111" stroke-width="0.25">QP</text>
<text x="526.1" y="201.9" font-size="12.2" text-anchor="middle" font-weight="normal" font-style="normal" fill="#111" stroke="#111" stroke-width="0.25">PS</text>
<text x="548.3" y="201.9" font-size="12.2" text-anchor="middle" font-weight="normal" font-style="normal" fill="#111" stroke="#111" stroke-width="0.25">SS</text>
<text x="570.4" y="201.9" font-size="12.2" text-anchor="middle" font-weight="normal" font-style="normal" fill="#111" stroke="#111" stroke-width="0.25" textLength="20.3" lengthAdjust="spacingAndGlyphs">SpS</text>
<text x="592.6" y="201.9" font-size="12.2" text-anchor="middle" font-weight="normal" font-style="normal" fill="#111" stroke="#111" stroke-width="0.25" textLength="20.3" lengthAdjust="spacingAndGlyphs">pSS</text>
<text x="614.7" y="201.9" font-size="12.2" text-anchor="middle" font-weight="normal" font-style="normal" fill="#111" stroke="#111" stroke-width="0.25">SP</text>
<text x="636.8" y="201.9" font-size="12.2" text-anchor="middle" font-weight="normal" font-style="normal" fill="#111" stroke="#111" stroke-width="0.25">PR</text>
<text x="649.5" y="74.5" font-size="13" text-anchor="start" font-weight="normal" font-style="normal" fill="#111" stroke="#111" stroke-width="0.25" transform="rotate(90 649.5 74.5)">30%</text>
<text x="649.5" y="167.5" font-size="13" text-anchor="start" font-weight="normal" font-style="normal" fill="#111" stroke="#111" stroke-width="0.25" transform="rotate(90 649.5 167.5)">0%</text>
<path d="M0,803.35 L0,800.9 L0,800.8 L0.9,800.8 L2.3,800.8 L3.2,800.8 L4.6,800.8 L5.9,800.4 L6.9,800.6 L8.0,800.7 L9.6,800.8 L10.4,799.5 L11.6,800.8 L12.7,800.8 L14.2,800.8 L15.2,800.5 L16.4,799.5 L17.9,800.8 L18.8,799.9 L20.4,800.8 L21.8,799.8 L23.1,800.8 L24.5,800.2 L25.5,800.4 L26.5,800.8 L27.5,800.8 L28.7,800.4 L30.1,799.4 L31.7,799.3 L33.1,800.8 L34.0,800.5 L35.3,800.4 L36.2,800.8 L37.7,800.5 L39.0,800.8 L40.1,799.6 L41.5,799.3 L42.4,800.7 L43.8,800.7 L45.3,800.6 L46.2,800.8 L47.7,800.8 L48.7,800.8 L50.1,799.9 L51.2,800.7 L52.7,800.8 L53.8,800.5 L55.1,800.8 L56.0,800.8 L57.3,800.3 L58.9,800.1 L59.9,800.1 L61.5,800.8 L62.3,800.8 L63.3,800.8 L64.2,800.8 L65.7,800.8 L67.0,800.8 L67.9,800.0 L69.0,800.8 L70.2,800.3 L71.4,799.8 L72.5,800.6 L73.9,800.7 L75.2,800.7 L76.2,800.8 L77.6,800.2 L79.1,800.3 L80.3,800.8 L81.8,800.8 L82.9,800.8 L84.1,800.8 L85.2,800.3 L86.4,800.8 L87.8,800.2 L89.3,800.8 L90.6,799.7 L91.6,800.8 L93.0,800.8 L94.1,800.0 L95.2,800.8 L96.2,800.8 L97.6,800.8 L99.0,800.8 L100.0,800.5 L101.2,800.7 L102.7,800.8 L103.7,800.8 L104.9,800.8 L106.0,800.8 L106.9,800.8 L108.3,800.8 L109.8,800.5 L110.9,800.1 L111.9,800.5 L113.3,800.6 L114.4,800.8 L115.7,800.8 L116.8,800.6 L118.3,800.4 L119.5,799.8 L120.6,800.8 L121.9,800.6 L122.9,800.7 L124.3,800.8 L125.7,800.8 L127.2,800.3 L128.3,799.3 L129.7,800.8 L130.7,800.7 L132.3,800.8 L133.1,800.8 L134.0,800.7 L135.2,800.7 L136.2,800.8 L137.6,800.7 L138.8,800.7 L140.1,799.7 L141.6,800.2 L142.6,800.8 L143.6,799.8 L144.4,800.6 L145.9,800.8 L147.0,800.7 L148.6,800.3 L150.0,800.8 L151.4,800.7 L152.5,800.0 L153.9,799.6 L155.2,799.6 L156.4,800.6 L157.8,800.7 L158.7,800.5 L160.2,799.8 L161.1,800.8 L162.1,800.8 L163.7,800.7 L164.7,800.8 L165.9,800.4 L167.0,800.8 L168.0,800.8 L169.5,800.8 L170.9,800.8 L172.3,800.8 L173.7,800.7 L174.6,800.8 L176.0,800.6 L177.2,800.8 L178.5,800.7 L179.4,800.5 L180.5,799.9 L181.7,800.1 L182.6,800.3 L183.9,799.9 L185.4,800.6 L186.6,800.1 L187.7,800.6 L189.1,800.5 L190.3,799.8 L191.9,800.8 L192.7,800.5 L193.7,799.4 L194.9,800.6 L196.3,799.8 L197.2,800.7 L198.2,800.7 L199.2,799.8 L200.2,800.8 L201.7,800.0 L202.8,800.7 L204.1,800.8 L205.1,799.8 L206.0,800.3 L207.4,800.5 L208.5,799.8 L209.9,800.8 L211.4,800.4 L212.4,800.8 L213.3,800.0 L214.8,800.8 L215.8,800.8 L216.9,800.8 L217.8,800.8 L219.2,800.8 L220.3,800.6 L221.3,800.8 L222.2,800.8 L223.7,799.8 L225.1,799.7 L226.1,800.8 L227.6,800.5 L229.1,800.8 L230.3,800.3 L231.7,800.8 L232.8,800.8 L234.0,799.6 L235.3,800.8 L236.6,800.4 L237.5,799.6 L238.8,800.7 L239.9,800.8 L241.1,800.8 L242.1,800.4 L243.4,799.5 L244.9,800.7 L246.3,800.8 L247.5,800.6 L249.0,800.8 L250.2,800.8 L251.6,799.5 L252.8,800.8 L254.0,800.5 L255.4,800.1 L256.5,800.6 L257.9,800.8 L259.0,800.3 L260.5,799.5 L261.5,799.4 L262.6,800.7 L263.5,800.5 L264.7,800.3 L266.2,800.8 L267.5,800.5 L268.5,800.8 L270.1,800.3 L271.3,800.8 L272.8,800.7 L274.0,800.6 L275.2,799.5 L276.3,800.4 L277.7,799.6 L278.7,800.8 L280.2,800.5 L281.3,799.8 L282.3,800.8 L283.2,800.4 L284.3,800.8 L285.5,800.8 L286.8,800.1 L288.0,799.8 L288.8,800.6 L289.8,800.8 L291.0,800.8 L291.9,800.8 L293.0,799.9 L294.1,800.8 L295.5,800.0 L297.0,800.8 L298.0,800.7 L299.5,800.6 L301.0,800.8 L302.2,800.3 L303.2,800.6 L304.6,800.0 L306.0,799.9 L307.5,800.5 L308.6,800.8 L309.4,799.6 L310.7,800.5 L312.2,800.3 L313.3,800.5 L314.2,800.8 L315.3,800.0 L316.6,800.5 L317.7,800.8 L318.8,800.8 L319.9,799.6 L321.3,800.8 L322.5,800.2 L323.5,800.8 L324.8,800.8 L326.3,800.8 L327.8,800.4 L328.9,800.8 L330.4,800.3 L331.3,800.8 L332.3,800.5 L333.4,800.8 L334.7,800.8 L335.7,800.0 L337.2,800.0 L338.4,800.3 L339.9,800.8 L340.9,800.8 L342.3,800.8 L343.7,800.8 L345.2,800.7 L346.5,800.5 L347.9,800.6 L348.9,800.7 L350.1,800.8 L351.6,800.8 L353.1,800.8 L354.6,800.2 L355.7,800.3 L356.6,800.8 L357.8,800.8 L359.0,800.3 L360.1,800.5 L361.5,799.9 L362.4,799.9 L363.8,800.8 L364.7,800.8 L365.6,800.6 L367.2,800.7 L368.2,800.8 L369.7,800.6 L370.8,799.6 L371.9,799.3 L373.1,800.8 L374.1,800.8 L375.5,800.8 L376.9,799.9 L378.0,800.6 L379.4,800.4 L380.5,800.8 L381.5,800.8 L382.8,800.4 L384.2,800.7 L385.6,800.6 L387.0,800.6 L388.3,800.5 L389.3,800.8 L390.8,800.3 L392.0,799.6 L392.9,800.2 L394.1,800.8 L395.1,800.8 L396.1,800.1 L397.2,800.8 L398.4,799.4 L399.8,800.8 L401.0,800.8 L402.0,800.4 L402.9,800.7 L404.4,800.2 L405.7,799.9 L407.2,800.8 L408.8,799.7 L410.0,800.8 L411.2,800.7 L412.7,800.8 L414.1,800.2 L415.4,800.8 L416.9,800.8 L418.3,799.7 L419.5,800.8 L420.6,800.8 L421.5,800.8 L422.8,800.0 L423.7,800.2 L424.6,800.3 L425.4,800.8 L426.9,799.8 L427.8,800.8 L429.3,800.8 L430.5,800.8 L431.5,800.7 L432.5,800.8 L434.0,800.1 L435.3,800.8 L436.2,800.5 L437.5,800.8 L439.1,800.8 L440.1,800.4 L441.6,800.8 L442.8,800.8 L444.0,799.7 L445.5,800.8 L446.9,799.3 L448.0,799.8 L449.0,799.4 L450.5,799.4 L451.7,800.3 L453.0,800.5 L453.9,800.4 L455.3,800.4 L456.8,799.4 L458.1,800.8 L459.3,800.8 L460.3,799.3 L461.5,800.7 L462.9,800.0 L463.8,800.7 L465.0,800.8 L466.4,800.5 L467.9,800.8 L468.9,800.8 L470.1,800.8 L471.3,800.8 L472.2,799.9 L473.4,799.7 L474.6,799.8 L475.9,800.7 L477.4,800.8 L478.9,800.5 L480.5,800.8 L481.7,800.8 L483.1,799.6 L484.6,800.8 L485.5,799.4 L486.5,799.9 L487.7,800.2 L489.1,800.8 L490.2,800.8 L491.5,800.3 L493.1,800.6 L494.2,800.8 L495.3,800.5 L496.7,800.8 L497.7,800.4 L499.1,799.5 L500.0,800.5 L501.2,800.7 L502.5,800.8 L503.8,800.1 L504.6,800.7 L506.2,800.3 L507.2,800.5 L508.7,800.8 L510.0,800.8 L511.5,800.8 L512.9,800.1 L514.4,800.4 L515.6,800.2 L517.0,800.8 L518.1,800.8 L519.2,800.7 L520.3,800.1 L521.2,800.7 L522.3,800.1 L523.9,800.6 L525.2,800.8 L526.6,800.8 L528.0,800.7 L529.0,800.8 L530.1,800.8 L531.5,800.8 L532.3,800.8 L533.5,800.1 L535.0,800.7 L536.5,800.8 L537.5,800.8 L538.5,800.8 L539.8,800.3 L540.9,800.8 L542.0,800.2 L543.3,800.1 L544.3,800.7 L545.6,800.6 L547.0,800.8 L548.0,800.8 L549.4,800.8 L550.6,800.8 L552.0,800.1 L552.9,800.1 L554.1,800.8 L554.9,800.6 L556.4,800.8 L557.8,800.8 L559.3,800.8 L560.3,800.8 L561.3,800.3 L562.5,800.8 L564.0,800.8 L565.0,800.8 L566.3,800.2 L567.8,800.8 L568.9,800.6 L570.1,800.5 L571.6,800.8 L573.0,800.8 L574.3,800.8 L575.2,800.4 L576.5,800.6 L577.7,800.8 L578.6,800.2 L580.0,800.5 L580.9,800.8 L582.0,800.8 L583.3,800.8 L584.7,800.8 L585.9,800.8 L586.9,800.8 L587.9,800.8 L589.1,800.8 L590.4,800.3 L591.6,800.8 L592.8,800.8 L594.2,800.8 L595.3,800.2 L596.5,800.8 L597.4,800.8 L598.8,800.8 L600.2,800.8 L601.6,800.8 L602.5,800.8 L604.0,800.8 L605.2,800.3 L606.5,800.8 L607.9,800.8 L608.9,800.8 L609.8,800.7 L611.2,800.3 L612.5,800.8 L614.0,800.8 L615.5,800.1 L616.7,800.5 L618.0,800.6 L619.3,800.6 L620.6,800.8 L621.6,800.8 L622.7,800.6 L623.6,800.6 L624.8,800.2 L625.9,800.5 L626.9,800.8 L628.3,800.4 L629.4,800.8 L630.8,800.8 L632.1,800.6 L633.6,800.1 L635.0,800.8 L636.4,800.8 L637.5,800.4 L638.7,800.8 L640.1,800.4 L641.2,800.4 L642.8,800.6 L643.8,800.7 L645.0,800.8 L646.4,800.8 L647.3,800.2 L648.4,800.8 L649.8,800.4 L651.0,800.8 L651.8,800.8 L653.3,800.2 L654.7,800.6 L655.8,800.8 L657.2,800.5 L658.1,800.8 L659.0,800.6 L660.1,800.8 L661.3,800.2 L662,800.9 L662,803.35Z" fill="#ee2b58" stroke="none"/>
<path d="M2,802.1V800.7M8.2,802.1V798.6M12.5,802.1V800.1M20.0,802.1V797.4M23.9,802.1V800.1M30.0,802.1V801.1M37.9,802.1V801.0M43.1,802.1V796.9M53.8,802.1V801.1M57.1,802.1V800.5M71.0,802.1V797.2M76.8,802.1V799.9M92.3,802.1V797.6M129.5,802.1V799.3M152.0,802.1V800.1M157.3,802.1V801.2M162.1,802.1V800.9M172.4,802.1V801.2M177.3,802.1V798.9M180.8,802.1V797.9M183.9,802.1V800.9M196.5,802.1V799.7M200.4,802.1V801.1M209.9,802.1V800.5M216.5,802.1V801.3M221.6,802.1V801.1M225.9,802.1V797.8M233.7,802.1V801.2M253.9,802.1V800.4M258.4,802.1V800.3M265.2,802.1V796.6M279.4,802.1V797.2M286.7,802.1V799.3M292.7,802.1V801.1M299.9,802.1V800.3M315.9,802.1V800.7M335.3,802.1V800.3M341.1,802.1V798.6M362.8,802.1V800.1M369.6,802.1V800.3M387.1,802.1V800.5M394.5,802.1V798.9M401.2,802.1V799.9M411.6,802.1V801.1M441.6,802.1V800.1M482.4,802.1V800.6M490.3,802.1V798.8" fill="none" stroke="#ee2b58" stroke-width="1.5"/>
<line x1="12" y1="802.1" x2="12" y2="795.4" stroke="#ee2b58" stroke-width="1.3"/>
<line x1="48.9" y1="802.1" x2="48.9" y2="797.5" stroke="#ee2b58" stroke-width="1.3"/>
<line x1="53.4" y1="802.1" x2="53.4" y2="797.5" stroke="#ee2b58" stroke-width="1.3"/>
<line x1="56.4" y1="802.1" x2="56.4" y2="797.5" stroke="#ee2b58" stroke-width="1.3"/>
<line x1="62.2" y1="802.1" x2="62.2" y2="791.7" stroke="#ee2b58" stroke-width="1.3"/>
<line x1="65.2" y1="802.1" x2="65.2" y2="732.2" stroke="#ee2b58" stroke-width="1.3"/>
<line x1="89.8" y1="802.1" x2="89.8" y2="780" stroke="#ee2b58" stroke-width="1.3"/>
<line x1="95.3" y1="802.1" x2="95.3" y2="795.4" stroke="#ee2b58" stroke-width="1.3"/>
<line x1="105.3" y1="802.1" x2="105.3" y2="790.4" stroke="#ee2b58" stroke-width="1.3"/>
<line x1="109" y1="802.1" x2="109" y2="797.8" stroke="#ee2b58" stroke-width="1.3"/>
<line x1="115.3" y1="802.1" x2="115.3" y2="797.8" stroke="#ee2b58" stroke-width="1.3"/>
<line x1="120.4" y1="802.1" x2="120.4" y2="797.8" stroke="#ee2b58" stroke-width="1.3"/>
<line x1="130.4" y1="802.1" x2="130.4" y2="760.3" stroke="#ee2b58" stroke-width="1.3"/>
<line x1="139.4" y1="802.1" x2="139.4" y2="792.9" stroke="#ee2b58" stroke-width="1.3"/>
<line x1="143.4" y1="802.1" x2="143.4" y2="796.6" stroke="#ee2b58" stroke-width="1.3"/>
<line x1="158" y1="802.1" x2="158" y2="799" stroke="#ee2b58" stroke-width="1.3"/>
<line x1="4" y1="802.1" x2="4" y2="799" stroke="#ee2b58" stroke-width="1.3"/>
<line x1="72" y1="802.1" x2="72" y2="799" stroke="#ee2b58" stroke-width="1.3"/>
<line x1="84" y1="802.1" x2="84" y2="799" stroke="#ee2b58" stroke-width="1.3"/>
<line x1="25.1" y1="802.1" x2="25.1" y2="772.9" stroke="#ee2b58" stroke-width="2.2"/>
<line x1="30.1" y1="802.1" x2="30.1" y2="791.7" stroke="#ee2b58" stroke-width="2.0"/>
<line x1="60.7" y1="802.1" x2="60.7" y2="698.9" stroke="#ee2b58" stroke-width="1.5"/>
<line x1="80.2" y1="802.1" x2="80.2" y2="775.4" stroke="#ee2b58" stroke-width="2.0"/>
<line x1="88.5" y1="802.1" x2="88.5" y2="674.6" stroke="#ee2b58" stroke-width="1.5"/>
<line x1="93.8" y1="802.1" x2="93.8" y2="627.5" stroke="#ee2b58" stroke-width="1.6"/>
<line x1="101.3" y1="802.1" x2="101.3" y2="780.4" stroke="#ee2b58" stroke-width="1.8"/>
<line x1="103.3" y1="802.1" x2="103.3" y2="738.3" stroke="#ee2b58" stroke-width="2.4"/>
<line x1="128.9" y1="802.1" x2="128.9" y2="560" stroke="#ee2b58" stroke-width="1.6"/>
<line x1="137.9" y1="802.1" x2="137.9" y2="775.4" stroke="#ee2b58" stroke-width="1.6"/>
<line x1="152.2" y1="802.1" x2="152.2" y2="789.9" stroke="#ee2b58" stroke-width="2.0"/>
<line x1="168" y1="802.1" x2="168" y2="797" stroke="#ee2b58" stroke-width="1.3"/>
<line x1="177" y1="802.1" x2="177" y2="794" stroke="#ee2b58" stroke-width="1.3"/>
<line x1="183" y1="802.1" x2="183" y2="794" stroke="#ee2b58" stroke-width="1.3"/>
<line x1="184.5" y1="802.1" x2="184.5" y2="792" stroke="#ee2b58" stroke-width="1.3"/>
<line x1="194.5" y1="802.1" x2="194.5" y2="727.7" stroke="#ee2b58" stroke-width="1.3"/>
<line x1="206" y1="802.1" x2="206" y2="790" stroke="#ee2b58" stroke-width="1.3"/>
<line x1="208" y1="802.1" x2="208" y2="795" stroke="#ee2b58" stroke-width="1.3"/>
<line x1="214" y1="802.1" x2="214" y2="798" stroke="#ee2b58" stroke-width="1.3"/>
<line x1="219" y1="802.1" x2="219" y2="798" stroke="#ee2b58" stroke-width="1.3"/>
<line x1="227.7" y1="802.1" x2="227.7" y2="795.4" stroke="#ee2b58" stroke-width="1.3"/>
<line x1="229.7" y1="802.1" x2="229.7" y2="793" stroke="#ee2b58" stroke-width="1.3"/>
<line x1="231.5" y1="802.1" x2="231.5" y2="794" stroke="#ee2b58" stroke-width="1.3"/>
<line x1="233.5" y1="802.1" x2="233.5" y2="795" stroke="#ee2b58" stroke-width="1.3"/>
<line x1="241" y1="802.1" x2="241" y2="797" stroke="#ee2b58" stroke-width="1.3"/>
<line x1="247" y1="802.1" x2="247" y2="798" stroke="#ee2b58" stroke-width="1.3"/>
<line x1="254.8" y1="802.1" x2="254.8" y2="790.4" stroke="#ee2b58" stroke-width="1.3"/>
<line x1="265.3" y1="802.1" x2="265.3" y2="730.2" stroke="#ee2b58" stroke-width="1.3"/>
<line x1="270.3" y1="802.1" x2="270.3" y2="785.4" stroke="#ee2b58" stroke-width="1.3"/>
<line x1="272" y1="802.1" x2="272" y2="790" stroke="#ee2b58" stroke-width="1.3"/>
<line x1="275" y1="802.1" x2="275" y2="795" stroke="#ee2b58" stroke-width="1.3"/>
<line x1="280" y1="802.1" x2="280" y2="798" stroke="#ee2b58" stroke-width="1.3"/>
<line x1="283.6" y1="802.1" x2="283.6" y2="797" stroke="#ee2b58" stroke-width="1.3"/>
<line x1="286" y1="802.1" x2="286" y2="797.5" stroke="#ee2b58" stroke-width="1.3"/>
<line x1="297" y1="802.1" x2="297" y2="790" stroke="#ee2b58" stroke-width="1.3"/>
<line x1="300" y1="802.1" x2="300" y2="797" stroke="#ee2b58" stroke-width="1.3"/>
<line x1="305.4" y1="802.1" x2="305.4" y2="799" stroke="#ee2b58" stroke-width="1.3"/>
<line x1="317" y1="802.1" x2="317" y2="798" stroke="#ee2b58" stroke-width="1.3"/>
<line x1="171.3" y1="802.1" x2="171.3" y2="764.1" stroke="#ee2b58" stroke-width="2.0"/>
<line x1="174.5" y1="802.1" x2="174.5" y2="782.9" stroke="#ee2b58" stroke-width="2.0"/>
<line x1="180.8" y1="802.1" x2="180.8" y2="793" stroke="#ee2b58" stroke-width="1.6"/>
<line x1="186.3" y1="802.1" x2="186.3" y2="779" stroke="#ee2b58" stroke-width="1.8"/>
<line x1="192.6" y1="802.1" x2="192.6" y2="435.8" stroke="#ee2b58" stroke-width="1.8"/>
<line x1="201.9" y1="802.1" x2="201.9" y2="713.9" stroke="#ee2b58" stroke-width="1.8"/>
<line x1="204.5" y1="802.1" x2="204.5" y2="785.4" stroke="#ee2b58" stroke-width="2.2"/>
<line x1="236" y1="802.1" x2="236" y2="777.9" stroke="#ee2b58" stroke-width="2.4"/>
<line x1="256" y1="802.1" x2="256" y2="764.8" stroke="#ee2b58" stroke-width="2.4"/>
<line x1="259.8" y1="802.1" x2="259.8" y2="671.3" stroke="#ee2b58" stroke-width="2.4"/>
<line x1="263.6" y1="802.1" x2="263.6" y2="673.8" stroke="#ee2b58" stroke-width="2.0"/>
<line x1="268.3" y1="802.1" x2="268.3" y2="779.1" stroke="#ee2b58" stroke-width="1.6"/>
<line x1="292.8" y1="802.1" x2="292.8" y2="408" stroke="#ee2b58" stroke-width="1.8"/>
<line x1="294.6" y1="802.1" x2="294.6" y2="619" stroke="#ee2b58" stroke-width="1.8"/>
<line x1="311.2" y1="802.1" x2="311.2" y2="775.4" stroke="#ee2b58" stroke-width="2.0"/>
<line x1="320.2" y1="802.1" x2="320.2" y2="408" stroke="#ee2b58" stroke-width="1.8"/>
<line x1="321.5" y1="802.1" x2="321.5" y2="700" stroke="#ee2b58" stroke-width="1.6"/>
<line x1="327.2" y1="802.1" x2="327.2" y2="787.1" stroke="#ee2b58" stroke-width="1.3"/>
<line x1="329" y1="802.1" x2="329" y2="795" stroke="#ee2b58" stroke-width="1.3"/>
<line x1="334" y1="802.1" x2="334" y2="798" stroke="#ee2b58" stroke-width="1.3"/>
<line x1="347.1" y1="802.1" x2="347.1" y2="798.5" stroke="#ee2b58" stroke-width="1.3"/>
<line x1="356.2" y1="802.1" x2="356.2" y2="797.5" stroke="#ee2b58" stroke-width="1.3"/>
<line x1="362" y1="802.1" x2="362" y2="799" stroke="#ee2b58" stroke-width="1.3"/>
<line x1="369" y1="802.1" x2="369" y2="798" stroke="#ee2b58" stroke-width="1.3"/>
<line x1="372.5" y1="802.1" x2="372.5" y2="780" stroke="#ee2b58" stroke-width="1.3"/>
<line x1="378" y1="802.1" x2="378" y2="790" stroke="#ee2b58" stroke-width="1.3"/>
<line x1="380" y1="802.1" x2="380" y2="796" stroke="#ee2b58" stroke-width="1.3"/>
<line x1="384.6" y1="802.1" x2="384.6" y2="796" stroke="#ee2b58" stroke-width="1.3"/>
<line x1="386.5" y1="802.1" x2="386.5" y2="797" stroke="#ee2b58" stroke-width="1.3"/>
<line x1="390.9" y1="802.1" x2="390.9" y2="798.5" stroke="#ee2b58" stroke-width="1.3"/>
<line x1="399.1" y1="802.1" x2="399.1" y2="798.5" stroke="#ee2b58" stroke-width="1.3"/>
<line x1="410" y1="802.1" x2="410" y2="799.5" stroke="#ee2b58" stroke-width="1.3"/>
<line x1="420" y1="802.1" x2="420" y2="799.5" stroke="#ee2b58" stroke-width="1.3"/>
<line x1="428" y1="802.1" x2="428" y2="799.5" stroke="#ee2b58" stroke-width="1.3"/>
<line x1="441" y1="802.1" x2="441" y2="797" stroke="#ee2b58" stroke-width="1.3"/>
<line x1="455" y1="802.1" x2="455" y2="799.5" stroke="#ee2b58" stroke-width="1.3"/>
<line x1="467.7" y1="802.1" x2="467.7" y2="797.5" stroke="#ee2b58" stroke-width="1.3"/>
<line x1="472" y1="802.1" x2="472" y2="799" stroke="#ee2b58" stroke-width="1.3"/>
<line x1="476.7" y1="802.1" x2="476.7" y2="798.5" stroke="#ee2b58" stroke-width="1.3"/>
<line x1="485" y1="802.1" x2="485" y2="795" stroke="#ee2b58" stroke-width="1.3"/>
<line x1="375.5" y1="802.1" x2="375.5" y2="552.5" stroke="#ee2b58" stroke-width="2.4"/>
<line x1="439" y1="802.1" x2="439" y2="773.8" stroke="#ee2b58" stroke-width="1.8"/>
<line x1="483.1" y1="802.1" x2="483.1" y2="762.4" stroke="#ee2b58" stroke-width="2.2"/>
<line x1="0" y1="802.1" x2="662" y2="802.1" stroke="#ee2b58" stroke-width="2.6"/>
<text x="27.6" y="814.4" font-size="11.5" text-anchor="middle" font-weight="normal" font-style="normal" fill="#111" stroke="#111" stroke-width="0.25">200</text>
<text x="126.4" y="814.4" font-size="11.5" text-anchor="middle" font-weight="normal" font-style="normal" fill="#111" stroke="#111" stroke-width="0.25">400</text>
<text x="224.6" y="814.4" font-size="11.5" text-anchor="middle" font-weight="normal" font-style="normal" fill="#111" stroke="#111" stroke-width="0.25">600</text>
<text x="322.8" y="814.4" font-size="11.5" text-anchor="middle" font-weight="normal" font-style="normal" fill="#111" stroke="#111" stroke-width="0.25">800</text>
<text x="422" y="814.4" font-size="11.5" text-anchor="middle" font-weight="normal" font-style="normal" fill="#111" stroke="#111" stroke-width="0.25">1000</text>
<text x="519.6" y="814.4" font-size="11.5" text-anchor="middle" font-weight="normal" font-style="normal" fill="#111" stroke="#111" stroke-width="0.25">1200</text>
<text x="636.5" y="809.4" font-size="11" text-anchor="start" font-weight="normal" font-style="italic" fill="#111" stroke="#111" stroke-width="0.25">m/z</text>
<line x1="12" y1="731.5" x2="12" y2="791.7" stroke="#111" stroke-width="1.8"/>
<line x1="30.1" y1="751.6" x2="30.1" y2="787.9" stroke="#555" stroke-width="1.05"/>
<line x1="38.9" y1="767.9" x2="38.9" y2="797.9" stroke="#111" stroke-width="1.8"/>
<line x1="100.8" y1="712.7" x2="100.8" y2="779.1" stroke="#111" stroke-width="1.8"/>
<line x1="137.9" y1="705.2" x2="137.9" y2="770.9" stroke="#111" stroke-width="1.8"/>
<line x1="171.3" y1="751.6" x2="171.3" y2="760.3" stroke="#111" stroke-width="1.8"/>
<line x1="180.8" y1="722.7" x2="180.8" y2="789.2" stroke="#111" stroke-width="1.8"/>
<line x1="186.3" y1="641.1" x2="186.3" y2="777.9" stroke="#111" stroke-width="1.8"/>
<line x1="201.9" y1="642.5" x2="201.9" y2="710.2" stroke="#111" stroke-width="1.8"/>
<line x1="229.7" y1="746.5" x2="229.7" y2="793" stroke="#111" stroke-width="1.25"/>
<polyline points="226.4,721.5 232.2,730.2 232.2,790.4" fill="none" stroke="#111" stroke-width="1.25"/>
<line x1="236" y1="715.7" x2="236" y2="772.9" stroke="#111" stroke-width="1.8"/>
<line x1="250.8" y1="741.5" x2="256.5" y2="759.8" stroke="#111" stroke-width="1.25"/>
<polyline points="255.2,483.4 267.4,491.6 267.4,596" fill="none" stroke="#111" stroke-width="1.1"/>
<line x1="267.4" y1="594.9" x2="267.4" y2="766.6" stroke="#111" stroke-width="3.0"/>
<polyline points="275.6,650.6 271.6,655 271.6,779.1" fill="none" stroke="#111" stroke-width="1.3"/>
<line x1="275.6" y1="584" x2="268.2" y2="593.5" stroke="#111" stroke-width="1.15"/>
<line x1="247.3" y1="665.5" x2="258.3" y2="668.8" stroke="#111" stroke-width="1.15"/>
<line x1="256.5" y1="653.8" x2="262.8" y2="671.3" stroke="#111" stroke-width="1.15"/>
<line x1="289.1" y1="620.7" x2="289.1" y2="780.4" stroke="#333" stroke-width="1.1"/>
<line x1="283.6" y1="786.7" x2="283.6" y2="794.9" stroke="#555" stroke-width="1.05"/>
<line x1="305.4" y1="766.6" x2="305.4" y2="797.9" stroke="#111" stroke-width="1.8"/>
<line x1="311.2" y1="727.7" x2="311.2" y2="765.3" stroke="#555" stroke-width="1.05"/>
<line x1="327.2" y1="701.3" x2="327.2" y2="785" stroke="#111" stroke-width="1.8"/>
<line x1="347.1" y1="772.9" x2="347.1" y2="796.5" stroke="#555" stroke-width="1.05"/>
<line x1="356.2" y1="746.6" x2="356.2" y2="795.6" stroke="#111" stroke-width="1.8"/>
<line x1="384.6" y1="708" x2="384.6" y2="792.6" stroke="#111" stroke-width="1.8"/>
<line x1="390.9" y1="741.2" x2="390.9" y2="797" stroke="#111" stroke-width="1.8"/>
<line x1="399.1" y1="760.8" x2="399.1" y2="797" stroke="#555" stroke-width="1.05"/>
<line x1="439" y1="735.2" x2="439" y2="769.3" stroke="#111" stroke-width="1.8"/>
<line x1="476.7" y1="774.4" x2="476.7" y2="795.6" stroke="#111" stroke-width="1.8"/>
<line x1="483.1" y1="661.1" x2="483.1" y2="759.3" stroke="#111" stroke-width="1.15"/>
<line x1="285.1" y1="437.2" x2="302.7" y2="419.1" stroke="#111" stroke-width="1.7"/>
<line x1="285.1" y1="446.3" x2="302.7" y2="428.1" stroke="#111" stroke-width="1.7"/>
<line x1="314.4" y1="437.2" x2="331.7" y2="420" stroke="#111" stroke-width="1.7"/>
<line x1="314.4" y1="445.3" x2="331.7" y2="428.1" stroke="#111" stroke-width="1.7"/>
<text x="6" y="448" font-size="44" text-anchor="start" font-weight="normal" font-style="normal" fill="#111" stroke="#111" stroke-width="0.25">B</text>
<text x="5" y="725.2" font-size="13.4" text-anchor="start" font-weight="normal" font-style="normal" fill="#111" stroke="#111" stroke-width="0.25">y1</text>
<text x="22.1" y="747.8" font-size="13.4" text-anchor="start" font-weight="normal" font-style="normal" fill="#111" stroke="#111" stroke-width="0.25">b2'</text>
<text x="32.6" y="764.8" font-size="13.4" text-anchor="start" font-weight="normal" font-style="normal" fill="#111" stroke="#111" stroke-width="0.25">b2</text>
<text x="54.7" y="695.1" font-size="13.4" text-anchor="start" font-weight="normal" font-style="normal" fill="#111" stroke="#111" stroke-width="0.25">y2</text>
<text x="97" y="709.7" font-size="13.4" text-anchor="start" font-weight="normal" font-style="normal" fill="#111" stroke="#111" stroke-width="0.25">b3</text>
<text x="103.3" y="732.7" font-size="13.4" text-anchor="start" font-weight="normal" font-style="normal" fill="#111" stroke="#111" stroke-width="0.25">y3</text>
<text x="132.9" y="699.6" font-size="13.4" text-anchor="start" font-weight="normal" font-style="normal" fill="#111" stroke="#111" stroke-width="0.25">b4</text>
<text x="121.5" y="551.5" font-size="13.4" text-anchor="start" font-weight="normal" font-style="normal" fill="#111" stroke="#111" stroke-width="0.25">b4'</text>
<text x="86" y="621" font-size="13.4" text-anchor="start" font-weight="normal" font-style="normal" fill="#111" stroke="#111" stroke-width="0.25">b3'</text>
<text x="169.5" y="445.3" font-size="13.4" text-anchor="start" font-weight="normal" font-style="normal" fill="#111" stroke="#111" stroke-width="0.25">b5'</text>
<text x="166.8" y="634.3" font-size="13.4" text-anchor="start" font-weight="normal" font-style="normal" fill="#111" stroke="#111" stroke-width="0.25">py4</text>
<text x="196.7" y="638.4" font-size="13.4" text-anchor="start" font-weight="normal" font-style="normal" fill="#111" stroke="#111" stroke-width="0.25">b5</text>
<text x="166.3" y="714.7" font-size="13.4" text-anchor="start" font-weight="normal" font-style="normal" fill="#111" stroke="#111" stroke-width="0.25">y5'</text>
<text x="157.5" y="746.5" font-size="13.4" text-anchor="start" font-weight="normal" font-style="normal" fill="#111" stroke="#111" stroke-width="0.25">y5''</text>
<text x="206.4" y="745.3" font-size="13.4" text-anchor="start" font-weight="normal" font-style="normal" fill="#111" stroke="#111" stroke-width="0.25">py5</text>
<text x="238.2" y="739" font-size="13.4" text-anchor="start" font-weight="normal" font-style="normal" fill="#111" stroke="#111" stroke-width="0.25">b6'</text>
<text x="236.1" y="484" font-size="13.4" text-anchor="start" font-weight="normal" font-style="normal" fill="#111" stroke="#111" stroke-width="0.25">b6</text>
<text x="227.2" y="721.5" font-size="13.4" text-anchor="start" font-weight="normal" font-style="normal" fill="#111" stroke="#111" stroke-width="0.25" transform="rotate(-90 227.2 721.5)">py11<tspan font-size="8" dy="-4">2+'</tspan></text>
<text x="240.7" y="712.7" font-size="13.4" text-anchor="start" font-weight="normal" font-style="normal" fill="#111" stroke="#111" stroke-width="0.25" transform="rotate(-90 240.7 712.7)">py11<tspan font-size="8" dy="-4">2+</tspan></text>
<text x="308" y="764.1" font-size="13.4" text-anchor="start" font-weight="normal" font-style="normal" fill="#111" stroke="#111" stroke-width="0.25" transform="rotate(-90 308 764.1)">b7'</text>
<text x="314.2" y="725.2" font-size="13.4" text-anchor="start" font-weight="normal" font-style="normal" fill="#111" stroke="#111" stroke-width="0.25" transform="rotate(-90 314.2 725.2)">py7'</text>
<text x="281" y="646.5" font-size="13.4" text-anchor="start" font-weight="normal" font-style="normal" fill="#111" stroke="#111" stroke-width="0.25" transform="rotate(-90 281 646.5)">py6</text>
<text x="102.5" y="423.8" font-size="12.6" text-anchor="start" font-weight="normal" font-style="normal" fill="#111" stroke="#111" stroke-width="0.25" textLength="187" lengthAdjust="spacingAndGlyphs">[EVQAEQPSSpSSPR+2H]<tspan font-size="8.5" dy="-5">2−</tspan></text>
<text x="297.3" y="448.9" font-size="13.4" text-anchor="start" font-weight="normal" font-style="normal" fill="#111" stroke="#111" stroke-width="0.25">x3</text>
<text x="326.4" y="448.9" font-size="13.4" text-anchor="start" font-weight="normal" font-style="normal" fill="#111" stroke="#111" stroke-width="0.25">x1.2</text>
<text x="339.5" y="429" font-size="13.4" text-anchor="start" font-weight="normal" font-style="normal" fill="#111" stroke="#111" stroke-width="0.25">py7</text>
<text x="247.5" y="667.5" font-size="7.3" text-anchor="start" font-weight="normal" font-style="normal" fill="#111" stroke="#111" stroke-width="0.25" transform="rotate(-90 247.5 667.5)" textLength="158" lengthAdjust="spacingAndGlyphs">[EVQAEQPSSpSSPR+2H-H<tspan font-size="5.5" dy="1.5">3</tspan><tspan dy="-1.5">PO</tspan><tspan font-size="5.5" dy="1.5">4</tspan><tspan dy="-1.5">]</tspan><tspan font-size="6" dy="-3">2+''</tspan></text>
<text x="257.3" y="654.7" font-size="7.3" text-anchor="start" font-weight="normal" font-style="normal" fill="#111" stroke="#111" stroke-width="0.25" transform="rotate(-90 257.3 654.7)" textLength="151" lengthAdjust="spacingAndGlyphs">[EVQAEQPSSpSSPR+2H-H<tspan font-size="5.5" dy="1.5">3</tspan><tspan dy="-1.5">PO</tspan><tspan font-size="5.5" dy="1.5">4</tspan><tspan dy="-1.5">]</tspan><tspan font-size="6" dy="-3">2+'</tspan></text>
<text x="277.5" y="582.6" font-size="7.3" text-anchor="start" font-weight="normal" font-style="normal" fill="#111" stroke="#111" stroke-width="0.25" transform="rotate(-90 277.5 582.6)" textLength="148" lengthAdjust="spacingAndGlyphs">[EVQAEQPSSpSSPR+2H-H<tspan font-size="5.5" dy="1.5">3</tspan><tspan dy="-1.5">PO</tspan><tspan font-size="5.5" dy="1.5">4</tspan><tspan dy="-1.5">]</tspan><tspan font-size="6" dy="-3">2+</tspan></text>
<text x="290" y="619.4" font-size="7.3" text-anchor="start" font-weight="normal" font-style="normal" fill="#111" stroke="#111" stroke-width="0.25" transform="rotate(-90 290 619.4)" textLength="116" lengthAdjust="spacingAndGlyphs">[EVQAEQPSSpSSPR−2H]<tspan font-size="6" dy="-3">2+'</tspan></text>
<text x="285.4" y="784.2" font-size="7.3" text-anchor="start" font-weight="normal" font-style="normal" fill="#111" stroke="#111" stroke-width="0.25" transform="rotate(-90 285.4 784.2)" textLength="118" lengthAdjust="spacingAndGlyphs">[EVQAEQPSSpSSPR−2H]<tspan font-size="6" dy="-3">2+''</tspan></text>
<text x="323.6" y="695.3" font-size="13.4" text-anchor="start" font-weight="normal" font-style="normal" fill="#111" stroke="#111" stroke-width="0.25">y8''</text>
<text x="350.7" y="771.4" font-size="13.4" text-anchor="start" font-weight="normal" font-style="normal" fill="#111" stroke="#111" stroke-width="0.25" transform="rotate(-90 350.7 771.4)">b8'</text>
<text x="347.1" y="743.6" font-size="13.4" text-anchor="start" font-weight="normal" font-style="normal" fill="#111" stroke="#111" stroke-width="0.25">b8</text>
<text x="377.9" y="695.9" font-size="13.4" text-anchor="start" font-weight="normal" font-style="normal" fill="#111" stroke="#111" stroke-width="0.25">py8</text>
<text x="387" y="736.7" font-size="13.4" text-anchor="start" font-weight="normal" font-style="normal" fill="#111" stroke="#111" stroke-width="0.25">b9'</text>
<text x="393.9" y="759.9" font-size="13.4" text-anchor="start" font-weight="normal" font-style="normal" fill="#111" stroke="#111" stroke-width="0.25">b9</text>
<text x="427.8" y="729.7" font-size="13.4" text-anchor="start" font-weight="normal" font-style="normal" fill="#111" stroke="#111" stroke-width="0.25">py9'</text>
<text x="453.5" y="772.3" font-size="13.4" text-anchor="start" font-weight="normal" font-style="normal" fill="#111" stroke="#111" stroke-width="0.25">b11'</text>
<text x="471" y="655.1" font-size="13.4" text-anchor="start" font-weight="normal" font-style="normal" fill="#111" stroke="#111" stroke-width="0.25">py10</text>
<text x="351" y="545" font-size="13.4" text-anchor="start" font-weight="normal" font-style="normal" fill="#111" stroke="#111" stroke-width="0.25">py8'</text>
<text transform="translate(383.8,443.1) scale(1.08,1)" font-size="21" fill="#111" stroke="#111" stroke-width="0.3">E</text>
<text transform="translate(401.9,443.1) scale(1.08,1)" font-size="21" fill="#111" stroke="#111" stroke-width="0.3">V</text>
<text transform="translate(422.5,443.1) scale(1.08,1)" font-size="21" fill="#111" stroke="#111" stroke-width="0.3">Q</text>
<text transform="translate(444.2,443.1) scale(1.08,1)" font-size="21" fill="#111" stroke="#111" stroke-width="0.3">A</text>
<text transform="translate(465.3,443.1) scale(1.08,1)" font-size="21" fill="#111" stroke="#111" stroke-width="0.3">E</text>
<text transform="translate(484.1,443.1) scale(1.08,1)" font-size="21" fill="#111" stroke="#111" stroke-width="0.3">Q</text>
<text transform="translate(506.7,443.1) scale(1.08,1)" font-size="21" fill="#111" stroke="#111" stroke-width="0.3">P</text>
<text transform="translate(524.3,443.1) scale(1.08,1)" font-size="21" fill="#111" stroke="#111" stroke-width="0.3">S</text>
<text transform="translate(544.8,443.1) scale(1.08,1)" font-size="21" fill="#111" stroke="#111" stroke-width="0.3">S</text>
<text transform="translate(564.9,443.1) scale(1.08,1)" font-size="21" fill="#111" stroke="#111" stroke-width="0.3">p</text>
<text transform="translate(578.6,443.1) scale(1.08,1)" font-size="21" fill="#111" stroke="#111" stroke-width="0.3">S</text>
<text transform="translate(598.7,443.1) scale(1.08,1)" font-size="21" fill="#111" stroke="#111" stroke-width="0.3">S</text>
<text transform="translate(619.7,443.1) scale(1.08,1)" font-size="21" fill="#111" stroke="#111" stroke-width="0.3">P</text>
<text transform="translate(638.3,443.1) scale(1.08,1)" font-size="21" fill="#111" stroke="#111" stroke-width="0.3">R</text>
<line x1="420.8" y1="418.59999999999997" x2="420.8" y2="451.40000000000003" stroke="#111" stroke-width="1.25"/>
<line x1="420.2" y1="419.2" x2="425.6" y2="419.2" stroke="#111" stroke-width="1.35"/>
<line x1="421.40000000000003" y1="450.8" x2="416.0" y2="450.8" stroke="#111" stroke-width="1.35"/>
<line x1="443.7" y1="418.59999999999997" x2="443.7" y2="451.40000000000003" stroke="#111" stroke-width="1.25"/>
<line x1="443.09999999999997" y1="419.2" x2="448.5" y2="419.2" stroke="#111" stroke-width="1.35"/>
<line x1="444.3" y1="450.8" x2="438.9" y2="450.8" stroke="#111" stroke-width="1.35"/>
<line x1="463.8" y1="418.59999999999997" x2="463.8" y2="451.40000000000003" stroke="#111" stroke-width="1.25"/>
<line x1="463.2" y1="419.2" x2="468.6" y2="419.2" stroke="#111" stroke-width="1.35"/>
<line x1="464.40000000000003" y1="450.8" x2="459.0" y2="450.8" stroke="#111" stroke-width="1.35"/>
<line x1="483.6" y1="418.59999999999997" x2="483.6" y2="451.40000000000003" stroke="#111" stroke-width="1.25"/>
<line x1="483.0" y1="419.2" x2="488.40000000000003" y2="419.2" stroke="#111" stroke-width="1.35"/>
<line x1="484.20000000000005" y1="450.8" x2="478.8" y2="450.8" stroke="#111" stroke-width="1.35"/>
<line x1="505.1" y1="418.59999999999997" x2="505.1" y2="451.40000000000003" stroke="#111" stroke-width="1.25"/>
<line x1="504.5" y1="419.2" x2="509.90000000000003" y2="419.2" stroke="#111" stroke-width="1.35"/>
<line x1="505.70000000000005" y1="450.8" x2="500.3" y2="450.8" stroke="#111" stroke-width="1.35"/>
<line x1="523.3" y1="418.59999999999997" x2="523.3" y2="451.40000000000003" stroke="#111" stroke-width="1.25"/>
<line x1="522.6999999999999" y1="419.2" x2="528.0999999999999" y2="419.2" stroke="#111" stroke-width="1.35"/>
<line x1="523.9" y1="450.8" x2="518.5" y2="450.8" stroke="#111" stroke-width="1.35"/>
<line x1="542.6" y1="418.59999999999997" x2="542.6" y2="451.40000000000003" stroke="#111" stroke-width="1.25"/>
<line x1="542.0" y1="419.2" x2="547.4" y2="419.2" stroke="#111" stroke-width="1.35"/>
<line x1="543.2" y1="450.8" x2="537.8000000000001" y2="450.8" stroke="#111" stroke-width="1.35"/>
<line x1="561.9" y1="418.59999999999997" x2="561.9" y2="451.40000000000003" stroke="#111" stroke-width="1.25"/>
<line x1="562.5" y1="450.8" x2="557.1" y2="450.8" stroke="#111" stroke-width="1.35"/>
<line x1="598" y1="418.59999999999997" x2="598" y2="448.1" stroke="#111" stroke-width="1.25"/>
<line x1="597.4" y1="419.2" x2="602.8" y2="419.2" stroke="#111" stroke-width="1.35"/>
<line x1="618.5" y1="418.59999999999997" x2="618.5" y2="448.1" stroke="#111" stroke-width="1.25"/>
<line x1="617.9" y1="419.2" x2="623.3" y2="419.2" stroke="#111" stroke-width="1.35"/>
<line x1="637.3" y1="418.59999999999997" x2="637.3" y2="448.1" stroke="#111" stroke-width="1.25"/>
<line x1="636.6999999999999" y1="419.2" x2="642.0999999999999" y2="419.2" stroke="#111" stroke-width="1.35"/>
<text x="472.3" y="464" font-size="12.6" text-anchor="start" font-weight="normal" font-style="normal" fill="#111" stroke="#111" stroke-width="0.25" textLength="78.6" lengthAdjust="spacingAndGlyphs">IRMPD 0.2s</text>
<rect x="386.3" y="480.1" width="260.2" height="119.60000000000002" fill="#fff" stroke="#adadad" stroke-width="1.2"/>
<rect x="406.4" y="587.8" width="18.1" height="11.9" fill="#999" stroke="#1a1a1a" stroke-width="1.0"/>
<rect x="406.4" y="598.7" width="18.1" height="1" fill="#000" stroke="#000" stroke-width="0.8"/>
<rect x="428.4" y="565.3" width="18.1" height="34.4" fill="#999" stroke="#1a1a1a" stroke-width="1.0"/>
<rect x="428.4" y="573.2" width="18.1" height="26.5" fill="#000" stroke="#000" stroke-width="0.8"/>
<rect x="450.5" y="559.1" width="18.1" height="40.6" fill="#999" stroke="#1a1a1a" stroke-width="1.0"/>
<rect x="450.5" y="564.4" width="18.1" height="35.3" fill="#000" stroke="#000" stroke-width="0.8"/>
<rect x="472.5" y="485.9" width="18.1" height="113.8" fill="#999" stroke="#1a1a1a" stroke-width="1.0"/>
<rect x="472.5" y="533.5" width="18.1" height="66.2" fill="#000" stroke="#000" stroke-width="0.8"/>
<rect x="494.6" y="501.8" width="18.1" height="97.9" fill="#999" stroke="#1a1a1a" stroke-width="1.0"/>
<rect x="494.6" y="588.7" width="18.1" height="11" fill="#000" stroke="#000" stroke-width="0.8"/>
<rect x="516.7" y="597.5" width="18.1" height="2.2" fill="#999" stroke="#1a1a1a" stroke-width="1.0"/>
<rect x="538.7" y="591.8" width="18.1" height="7.9" fill="#999" stroke="#1a1a1a" stroke-width="1.0"/>
<rect x="560.8" y="597.9" width="18.1" height="1.8" fill="#999" stroke="#1a1a1a" stroke-width="1.0"/>
<rect x="582.8" y="590.9" width="18.1" height="8.8" fill="#999" stroke="#1a1a1a" stroke-width="1.0"/>
<rect x="604.9" y="599.0" width="18.1" height="0.7" fill="#999" stroke="#1a1a1a" stroke-width="1.0"/>
<rect x="627.0" y="599.0" width="18.1" height="0.7" fill="#999" stroke="#1a1a1a" stroke-width="1.0"/>
<text x="393.4" y="610.2" font-size="12.2" text-anchor="middle" font-weight="normal" font-style="normal" fill="#111" stroke="#111" stroke-width="0.25">EV</text>
<text x="415.4" y="610.2" font-size="12.2" text-anchor="middle" font-weight="normal" font-style="normal" fill="#111" stroke="#111" stroke-width="0.25">VQ</text>
<text x="437.5" y="610.2" font-size="12.2" text-anchor="middle" font-weight="normal" font-style="normal" fill="#111" stroke="#111" stroke-width="0.25">QA</text>
<text x="459.5" y="610.2" font-size="12.2" text-anchor="middle" font-weight="normal" font-style="normal" fill="#111" stroke="#111" stroke-width="0.25">AE</text>
<text x="481.6" y="610.2" font-size="12.2" text-anchor="middle" font-weight="normal" font-style="normal" fill="#111" stroke="#111" stroke-width="0.25">EQ</text>
<text x="503.7" y="610.2" font-size="12.2" text-anchor="middle" font-weight="normal" font-style="normal" fill="#111" stroke="#111" stroke-width="0.25">QP</text>
<text x="525.7" y="610.2" font-size="12.2" text-anchor="middle" font-weight="normal" font-style="normal" fill="#111" stroke="#111" stroke-width="0.25">PS</text>
<text x="547.8" y="610.2" font-size="12.2" text-anchor="middle" font-weight="normal" font-style="normal" fill="#111" stroke="#111" stroke-width="0.25">SS</text>
<text x="569.8" y="610.2" font-size="12.2" text-anchor="middle" font-weight="normal" font-style="normal" fill="#111" stroke="#111" stroke-width="0.25" textLength="20.3" lengthAdjust="spacingAndGlyphs">SpS</text>
<text x="591.9" y="610.2" font-size="12.2" text-anchor="middle" font-weight="normal" font-style="normal" fill="#111" stroke="#111" stroke-width="0.25" textLength="20.3" lengthAdjust="spacingAndGlyphs">pSS</text>
<text x="613.9" y="610.2" font-size="12.2" text-anchor="middle" font-weight="normal" font-style="normal" fill="#111" stroke="#111" stroke-width="0.25">SP</text>
<text x="636.0" y="610.2" font-size="12.2" text-anchor="middle" font-weight="normal" font-style="normal" fill="#111" stroke="#111" stroke-width="0.25">PR</text>
<text x="649.5" y="500.5" font-size="13" text-anchor="start" font-weight="normal" font-style="normal" fill="#111" stroke="#111" stroke-width="0.25" transform="rotate(90 649.5 500.5)">30%</text>
<text x="649.5" y="581" font-size="13" text-anchor="start" font-weight="normal" font-style="normal" fill="#111" stroke="#111" stroke-width="0.25" transform="rotate(90 649.5 581)">0%</text>
<path d="M4.5,1224.9 L4.5,1221.0 L4.5,1220.4 L5.5,1219.9 L6.7,1220.0 L7.8,1221.0 L8.7,1219.3 L9.7,1219.4 L10.4,1220.7 L11.1,1220.5 L12.1,1221.0 L12.8,1220.9 L13.9,1219.9 L14.6,1219.8 L15.3,1220.4 L16.0,1221.0 L17.1,1220.9 L17.9,1219.1 L19.0,1220.9 L20.1,1220.5 L21.1,1220.9 L22.3,1220.2 L23.4,1219.4 L24.2,1220.8 L24.9,1220.9 L25.6,1220.8 L26.6,1220.9 L27.6,1220.8 L28.4,1219.7 L29.2,1220.8 L30.1,1220.1 L30.8,1219.0 L31.4,1220.0 L32.5,1220.9 L33.6,1220.8 L34.5,1220.9 L35.2,1220.9 L36.3,1220.9 L37.4,1219.2 L38.5,1220.8 L39.3,1220.5 L40.4,1220.9 L41.4,1219.8 L42.5,1220.9 L43.6,1220.9 L44.5,1220.3 L45.6,1220.7 L46.7,1220.4 L47.5,1220.8 L48.2,1220.9 L48.9,1220.1 L50.1,1220.8 L50.8,1218.9 L51.7,1220.6 L52.4,1220.3 L53.5,1220.6 L54.4,1220.8 L55.5,1220.8 L56.4,1219.5 L57.1,1219.9 L58.2,1220.2 L59.3,1220.8 L60.2,1220.8 L61.2,1220.7 L62.1,1218.8 L63.2,1218.9 L64.1,1220.5 L65.1,1220.5 L65.9,1220.6 L66.6,1220.6 L67.8,1219.0 L68.7,1220.4 L69.6,1220.8 L70.3,1219.7 L71.4,1220.6 L72.5,1219.7 L73.5,1220.1 L74.5,1220.6 L75.5,1220.7 L76.4,1219.7 L77.4,1220.7 L78.6,1220.1 L79.5,1220.7 L80.4,1220.7 L81.4,1220.4 L82.5,1220.1 L83.6,1220.6 L84.5,1219.8 L85.6,1220.6 L86.7,1219.3 L87.7,1218.8 L88.9,1220.3 L89.8,1220.7 L90.9,1219.0 L91.7,1219.9 L92.8,1219.8 L93.5,1219.6 L94.4,1220.0 L95.3,1220.1 L96.3,1220.0 L97.4,1220.7 L98.1,1220.4 L99.0,1220.6 L100.0,1220.0 L100.7,1220.3 L101.5,1220.6 L102.2,1220.5 L102.9,1220.6 L103.5,1220.3 L104.4,1220.1 L105.3,1220.6 L106.4,1220.6 L107.3,1220.5 L108.1,1220.6 L109.2,1220.4 L109.9,1220.0 L110.5,1220.2 L111.4,1220.1 L112.5,1219.4 L113.4,1219.4 L114.3,1220.4 L115.0,1220.0 L116.0,1218.8 L117.1,1220.0 L118.0,1219.1 L118.6,1220.6 L119.5,1220.0 L120.2,1219.9 L121.3,1220.4 L122.2,1220.5 L123.0,1218.7 L123.8,1218.7 L124.9,1220.0 L125.7,1218.6 L126.6,1220.3 L127.4,1218.6 L128.3,1220.4 L129.2,1220.5 L130.2,1220.3 L131.0,1219.4 L132.0,1220.5 L132.9,1220.4 L134.1,1219.4 L134.8,1220.4 L135.6,1218.5 L136.3,1219.9 L137.2,1219.8 L138.2,1219.5 L138.9,1219.5 L139.7,1220.1 L140.5,1220.4 L141.4,1220.2 L142.2,1219.5 L143.2,1220.5 L143.9,1220.2 L145.1,1219.0 L146.0,1220.4 L147.0,1220.2 L148.0,1219.6 L149.0,1220.1 L150.1,1220.2 L150.9,1219.1 L151.7,1220.3 L152.7,1220.4 L153.8,1219.6 L154.7,1220.3 L155.7,1218.8 L156.4,1220.1 L157.4,1220.0 L158.2,1220.4 L159.1,1219.2 L159.8,1220.3 L160.9,1219.2 L161.8,1220.4 L162.9,1218.5 L164.0,1219.5 L164.7,1219.0 L165.4,1219.7 L166.6,1219.5 L167.3,1220.2 L168.4,1220.3 L169.4,1220.1 L170.1,1219.7 L170.7,1220.3 L171.6,1220.3 L172.2,1219.8 L173.3,1218.9 L174.0,1220.1 L174.8,1219.7 L175.7,1218.6 L176.5,1220.3 L177.5,1220.3 L178.5,1219.9 L179.6,1219.8 L180.6,1220.2 L181.5,1220.2 L182.5,1219.9 L183.2,1220.2 L184.1,1219.3 L184.8,1219.4 L185.8,1220.2 L186.8,1220.2 L187.5,1219.7 L188.2,1218.8 L189.1,1220.1 L190.2,1220.2 L191.2,1220.2 L191.9,1218.4 L192.9,1220.1 L193.6,1218.3 L194.6,1219.0 L195.3,1219.6 L196.1,1220.1 L196.9,1219.6 L197.7,1220.0 L198.4,1218.9 L199.4,1219.0 L200.3,1218.8 L201.2,1219.6 L202.1,1219.2 L203.0,1220.1 L203.6,1220.1 L204.3,1218.6 L205.2,1219.1 L205.8,1219.8 L206.9,1219.5 L207.8,1219.8 L208.4,1220.1 L209.2,1219.9 L210.0,1218.6 L210.7,1220.0 L211.5,1220.1 L212.3,1220.0 L213.2,1220.1 L214.3,1219.9 L215.4,1219.3 L216.4,1219.8 L217.6,1220.0 L218.6,1220.0 L219.6,1219.1 L220.3,1220.0 L220.9,1220.0 L221.6,1219.8 L222.7,1219.9 L223.5,1219.7 L224.3,1219.1 L225.3,1220.0 L226.1,1219.3 L227.2,1219.3 L228.1,1218.1 L228.7,1220.0 L229.8,1219.8 L230.4,1219.5 L231.6,1219.6 L232.4,1220.0 L233.1,1218.4 L234.0,1218.3 L234.6,1219.9 L235.3,1219.8 L236.0,1219.9 L236.8,1219.8 L237.5,1219.9 L238.6,1219.9 L239.5,1219.7 L240.5,1219.9 L241.3,1219.9 L242.2,1218.3 L243.1,1218.6 L243.9,1219.9 L244.8,1219.6 L245.7,1219.7 L246.7,1219.0 L247.8,1219.8 L248.7,1218.6 L249.4,1219.9 L250.2,1219.9 L251.3,1218.6 L252.1,1219.8 L252.8,1219.8 L253.4,1219.6 L254.4,1219.8 L255.0,1219.0 L255.7,1219.8 L256.5,1219.7 L257.2,1219.6 L258.0,1218.8 L258.9,1218.3 L259.9,1218.8 L260.8,1219.5 L261.9,1219.1 L263.0,1218.9 L264.0,1219.7 L265.1,1219.6 L265.8,1219.8 L266.5,1219.7 L267.5,1219.7 L268.2,1218.7 L269.1,1219.8 L269.8,1219.7 L270.6,1218.4 L271.8,1219.2 L272.5,1219.5 L273.3,1219.6 L274.0,1219.2 L275.0,1218.8 L275.7,1219.3 L276.4,1218.9 L277.3,1218.0 L278.4,1219.7 L279.2,1218.1 L280.1,1219.4 L280.9,1218.7 L282.1,1219.3 L283.2,1219.1 L283.9,1218.5 L284.8,1219.7 L285.9,1219.7 L286.9,1219.3 L288.0,1219.5 L288.7,1219.6 L289.5,1219.2 L290.3,1218.7 L291.0,1219.5 L291.8,1217.7 L292.9,1218.3 L293.8,1219.4 L294.6,1218.3 L295.4,1219.6 L296.2,1219.6 L297.2,1218.1 L297.9,1218.4 L298.7,1218.8 L299.8,1219.0 L300.9,1219.3 L301.5,1219.1 L302.5,1219.5 L303.3,1219.4 L304.0,1219.4 L304.8,1219.1 L305.8,1219.3 L307.0,1218.0 L308.1,1218.5 L309.1,1219.0 L310.1,1219.3 L311.1,1218.5 L312.0,1219.4 L312.7,1219.5 L313.5,1218.8 L314.5,1218.4 L315.3,1217.4 L316.1,1218.4 L316.8,1218.2 L317.8,1217.2 L318.9,1218.5 L320.0,1218.3 L320.9,1219.4 L321.8,1217.5 L322.6,1217.1 L323.5,1219.2 L324.2,1219.2 L324.9,1218.6 L326.0,1217.4 L327.0,1219.2 L327.6,1218.4 L328.6,1218.3 L329.4,1217.5 L330.2,1219.3 L330.9,1218.6 L332.0,1219.3 L333.0,1218.1 L333.8,1219.4 L334.7,1217.8 L335.8,1218.2 L336.7,1219.0 L337.6,1217.4 L338.4,1219.2 L339.3,1217.0 L340.1,1219.3 L340.7,1218.7 L341.7,1219.3 L342.4,1218.6 L343.4,1218.3 L344.4,1219.3 L345.3,1217.7 L346.5,1219.1 L347.6,1218.4 L348.7,1219.2 L349.7,1217.6 L350.6,1219.2 L351.3,1219.2 L352.0,1219.2 L353.0,1219.2 L354.0,1218.1 L355.1,1217.8 L356.1,1217.2 L357.2,1218.4 L358.4,1219.2 L359.1,1219.2 L359.8,1219.0 L360.7,1217.7 L361.7,1219.2 L362.6,1218.3 L363.4,1219.1 L364.4,1218.8 L365.4,1218.5 L366.5,1215.7 L367.2,1217.1 L368.2,1218.9 L368.9,1218.5 L369.7,1217.3 L370.8,1218.8 L371.6,1218.4 L372.6,1216.9 L373.6,1218.9 L374.4,1216.4 L375.3,1219.1 L376.2,1219.0 L377.1,1219.1 L377.9,1219.1 L378.8,1215.2 L379.7,1218.7 L380.9,1219.0 L381.7,1216.7 L382.3,1217.0 L383.1,1219.0 L383.9,1218.5 L384.7,1218.3 L385.4,1218.9 L386.6,1218.5 L387.4,1219.0 L388.2,1215.4 L389.2,1218.3 L389.9,1218.6 L390.9,1218.5 L391.9,1215.9 L392.9,1217.7 L393.5,1219.0 L394.6,1218.5 L395.7,1216.5 L396.8,1218.6 L398.0,1216.9 L399.1,1218.9 L400.1,1218.5 L401.3,1215.0 L402.0,1218.4 L402.8,1218.3 L403.6,1217.4 L404.3,1218.8 L405.2,1218.9 L406.0,1215.8 L407.1,1218.8 L407.7,1216.4 L408.9,1217.8 L409.6,1218.7 L410.7,1215.4 L411.4,1218.8 L412.2,1218.7 L413.3,1218.5 L414.3,1218.8 L415.2,1215.1 L416.2,1218.8 L416.9,1217.5 L417.8,1218.5 L418.6,1217.8 L419.8,1218.7 L420.7,1218.6 L421.7,1216.9 L422.4,1218.1 L423.4,1218.8 L424.4,1218.3 L425.3,1217.6 L426.4,1218.7 L427.3,1218.7 L428.1,1218.4 L428.8,1218.5 L429.6,1217.3 L430.8,1218.4 L431.7,1217.0 L432.8,1215.2 L434.0,1218.5 L434.7,1215.3 L435.4,1218.1 L436.4,1217.9 L437.2,1215.4 L438.0,1217.8 L439.1,1218.6 L439.9,1218.0 L440.9,1218.6 L441.7,1218.6 L442.4,1218.4 L443.1,1214.9 L443.9,1218.5 L444.9,1216.7 L445.7,1216.1 L446.7,1218.2 L447.7,1218.5 L448.4,1215.7 L449.3,1215.5 L450.0,1218.6 L450.7,1216.7 L451.6,1218.6 L452.3,1216.1 L453.2,1215.7 L453.8,1217.5 L454.5,1216.8 L455.5,1217.4 L456.2,1215.0 L456.9,1218.5 L457.9,1218.5 L458.6,1217.9 L459.5,1215.5 L460.6,1218.5 L461.5,1215.9 L462.2,1216.5 L463.0,1218.3 L463.6,1216.5 L464.5,1215.4 L465.4,1218.4 L466.2,1218.3 L467.3,1218.4 L468.0,1218.2 L468.7,1218.0 L469.6,1217.1 L470.4,1218.4 L471.3,1216.9 L472.1,1217.4 L473.2,1218.4 L474.0,1217.7 L474.9,1215.3 L475.9,1217.0 L476.7,1216.2 L477.8,1218.2 L478.5,1218.2 L479.3,1215.4 L480.1,1217.1 L481.1,1214.8 L481.8,1216.3 L482.6,1218.3 L483.5,1215.7 L484.5,1218.3 L485.6,1218.0 L486.6,1216.5 L487.4,1217.9 L488.2,1218.3 L488.9,1216.6 L489.7,1215.5 L490.4,1218.1 L491.1,1214.8 L492.2,1215.2 L493.1,1218.3 L493.9,1218.2 L494.6,1217.3 L495.4,1218.2 L496.3,1214.9 L497.4,1217.6 L498.1,1216.2 L498.8,1217.4 L499.5,1214.4 L500.4,1217.7 L501.2,1217.3 L502.3,1217.7 L503.1,1217.4 L504.2,1217.8 L505.1,1214.9 L506.0,1215.8 L506.9,1218.1 L507.5,1214.8 L508.4,1217.6 L509.5,1217.2 L510.4,1218.0 L511.5,1218.0 L512.4,1216.1 L513.3,1218.1 L514.0,1216.5 L515.1,1218.1 L516.2,1218.1 L517.0,1218.1 L517.8,1216.9 L518.9,1218.0 L519.9,1218.1 L520.9,1217.9 L521.7,1218.1 L522.7,1218.0 L523.8,1217.8 L524.7,1216.7 L525.6,1215.2 L526.7,1217.9 L527.5,1215.1 L528.2,1217.6 L529.1,1214.2 L529.8,1216.6 L530.8,1216.2 L531.5,1214.5 L532.3,1215.3 L533.3,1217.5 L534.3,1216.5 L535.1,1216.1 L536.0,1216.3 L537.0,1215.7 L537.7,1217.3 L538.4,1215.7 L539.4,1215.4 L540.1,1217.1 L540.9,1217.9 L541.7,1214.2 L542.8,1217.8 L543.9,1216.5 L544.7,1216.6 L545.4,1217.7 L546.1,1216.5 L547.0,1216.0 L547.9,1217.4 L548.7,1216.0 L549.6,1216.8 L550.6,1217.3 L551.6,1217.8 L552.4,1215.2 L553.1,1217.8 L553.7,1215.8 L554.4,1217.3 L555.3,1215.5 L556.2,1217.0 L556.8,1215.5 L557.8,1216.6 L558.9,1216.6 L559.9,1215.1 L560.9,1217.8 L562.0,1210.9 L562.7,1217.8 L563.6,1217.7 L564.4,1217.7 L565.1,1217.7 L566.0,1217.4 L567.0,1217.1 L567.7,1211.5 L568.9,1215.0 L569.6,1217.0 L570.5,1217.0 L571.1,1216.7 L572.2,1214.9 L573.3,1215.0 L574.3,1212.7 L575.4,1213.7 L576.3,1215.2 L577.3,1212.5 L578.3,1216.7 L579.0,1217.2 L579.8,1214.9 L580.8,1217.5 L581.7,1213.1 L582.6,1217.6 L583.5,1217.1 L584.2,1217.3 L584.9,1217.5 L585.7,1217.6 L586.4,1216.0 L587.5,1213.1 L588.3,1211.8 L589.0,1217.5 L589.6,1217.6 L590.6,1214.1 L591.5,1213.5 L592.3,1211.9 L593.3,1216.1 L594.0,1216.7 L594.9,1213.2 L595.6,1217.2 L596.7,1217.5 L597.6,1217.3 L598.6,1215.6 L599.3,1214.3 L600.2,1217.1 L601.2,1213.7 L602.0,1214.8 L602.7,1216.1 L603.4,1215.2 L604.5,1215.2 L605.2,1216.1 L606.1,1216.5 L606.8,1217.1 L607.7,1217.4 L608.7,1217.2 L609.4,1217.4 L610.2,1211.5 L611.0,1217.4 L611.8,1211.3 L612.5,1216.9 L613.3,1214.7 L614.1,1217.4 L615.2,1216.9 L616.2,1216.4 L617.3,1217.3 L618.1,1217.0 L618.9,1213.0 L619.8,1216.8 L620.7,1212.7 L621.6,1216.4 L622.6,1215.2 L623.4,1216.5 L624.1,1216.4 L625.2,1216.9 L626.1,1215.3 L627.0,1217.2 L627.9,1214.0 L628.5,1217.2 L629.6,1211.8 L630.2,1217.2 L631.2,1216.9 L632.2,1217.2 L633.1,1217.2 L633.9,1214.4 L634.8,1212.5 L635.9,1215.1 L637.0,1217.1 L637.8,1216.8 L638.8,1217.2 L639.9,1216.6 L641.0,1211.1 L642.1,1216.5 L643.2,1210.2 L643.9,1213.8 L644.9,1216.1 L645.7,1217.0 L646.6,1211.3 L647.4,1216.9 L648.4,1216.2 L649.3,1216.1 L650.1,1217.1 L651.2,1214.6 L652.0,1215.8 L652.9,1215.8 L654.0,1213.3 L654.8,1216.6 L655.8,1217.0 L656.9,1217.0 L657.8,1216.8 L658.7,1217.0 L659.5,1210.2 L660.5,1216.9 L661.4,1217.0 L662,1217.0 L662,1224.9Z" fill="#4631c6" stroke="none"/>
<path d="M18.4,1222.5V1219.5M20.8,1222.5V1221.6M28.5,1222.5V1220.9M32.2,1222.5V1220.8M42.7,1222.5V1221.5M55.3,1222.5V1221.1M75.3,1222.5V1219.6M85.1,1222.5V1219.4M87.7,1222.5V1221.5M90.3,1222.5V1221.5M112.9,1222.5V1221.3M115.4,1222.5V1221.5M118.1,1222.5V1221.4M127.5,1222.5V1221.4M135.7,1222.5V1218.5M138.3,1222.5V1220.9M151.3,1222.5V1221.1M155.4,1222.5V1220.4M162.9,1222.5V1221.5M172.1,1222.5V1221.6M174.4,1222.5V1220.3M197.7,1222.5V1220.2M201.5,1222.5V1220.9M204.5,1222.5V1220.7M216.9,1222.5V1219.8M220.3,1222.5V1221.1M223.1,1222.5V1219.9M236.9,1222.5V1218.6M247.0,1222.5V1221.4M255.0,1222.5V1221.6M261.7,1222.5V1220.9M268.7,1222.5V1220.5M272.1,1222.5V1219.6M274.9,1222.5V1220.8M279.6,1222.5V1219.6M288.6,1222.5V1221.3M291.1,1222.5V1220.4M303.6,1222.5V1221.5M308.9,1222.5V1221.1M319.7,1222.5V1217.3M323.7,1222.5V1221.2M327.7,1222.5V1217.0M330.1,1222.5V1220.3M338.7,1222.5V1219.5M341.2,1222.5V1219.7M344.9,1222.5V1221.4M363.4,1222.5V1217.2M367.7,1222.5V1214.0M370.0,1222.5V1219.4M374.2,1222.5V1218.1M380.6,1222.5V1219.2M386.8,1222.5V1220.8M405.6,1222.5V1219.5M411.1,1222.5V1210.9M429.7,1222.5V1212.3M435.1,1222.5V1221.6M439.7,1222.5V1220.8M443.6,1222.5V1221.6M451.0,1222.5V1220.3M453.8,1222.5V1221.1M461.7,1222.5V1215.8M469.1,1222.5V1219.2M480.0,1222.5V1211.2M484.8,1222.5V1213.3M490.0,1222.5V1214.0M495.3,1222.5V1211.5M500.8,1222.5V1219.3M509.6,1222.5V1221.4M516.2,1222.5V1219.2M520.3,1222.5V1221.1M523.1,1222.5V1221.4M534.9,1222.5V1218.4M537.6,1222.5V1219.0M540.9,1222.5V1221.0M545.1,1222.5V1216.6M550.2,1222.5V1217.1M553.1,1222.5V1220.1M560.4,1222.5V1219.4M565.5,1222.5V1221.3M570.4,1222.5V1218.6M573.0,1222.5V1213.2M576.1,1222.5V1218.2M589.0,1222.5V1209.2M594.5,1222.5V1215.3M598.0,1222.5V1206.3M606.3,1222.5V1219.9M609.4,1222.5V1220.5M617.1,1222.5V1196.2M629.4,1222.5V1196.4M633.9,1222.5V1192.9M638.5,1222.5V1221.2M641.2,1222.5V1217.7M645.7,1222.5V1221.6M649.0,1222.5V1204.6M652.3,1222.5V1212.4M656.3,1222.5V1191.1" fill="none" stroke="#4631c6" stroke-width="1.5"/>
<line x1="52.9" y1="1222.5" x2="52.9" y2="1183.5" stroke="#4631c6" stroke-width="2"/>
<line x1="64" y1="1222.5" x2="64" y2="1195.6" stroke="#4631c6" stroke-width="2.4"/>
<line x1="79.2" y1="1222.5" x2="79.2" y2="1205.6" stroke="#4631c6" stroke-width="1.5"/>
<line x1="85.2" y1="1222.5" x2="85.2" y2="1191.7" stroke="#4631c6" stroke-width="1.8"/>
<line x1="86.7" y1="1222.5" x2="86.7" y2="1206" stroke="#4631c6" stroke-width="1.2"/>
<line x1="98.2" y1="1222.5" x2="98.2" y2="1187.4" stroke="#4631c6" stroke-width="1.8"/>
<line x1="100.3" y1="1222.5" x2="100.3" y2="1064.2" stroke="#4631c6" stroke-width="2.2"/>
<line x1="113" y1="1222.5" x2="113" y2="1142.7" stroke="#4631c6" stroke-width="2"/>
<line x1="163.7" y1="1222.5" x2="163.7" y2="1205.6" stroke="#4631c6" stroke-width="1.3"/>
<line x1="176.1" y1="1222.5" x2="176.1" y2="1215" stroke="#4631c6" stroke-width="1.2"/>
<line x1="179.8" y1="1222.5" x2="179.8" y2="1212" stroke="#4631c6" stroke-width="1.3"/>
<line x1="181.6" y1="1222.5" x2="181.6" y2="1113.4" stroke="#4631c6" stroke-width="2"/>
<line x1="183.4" y1="1222.5" x2="183.4" y2="1210.7" stroke="#4631c6" stroke-width="1.3"/>
<line x1="208.7" y1="1222.5" x2="208.7" y2="1214.5" stroke="#4631c6" stroke-width="1.3"/>
<line x1="222.3" y1="1222.5" x2="222.3" y2="1185" stroke="#4631c6" stroke-width="1.8"/>
<line x1="224.1" y1="1222.5" x2="224.1" y2="1179" stroke="#4631c6" stroke-width="1.8"/>
<line x1="230.2" y1="1222.5" x2="230.2" y2="1203.1" stroke="#4631c6" stroke-width="1.4"/>
<line x1="267" y1="1222.5" x2="267" y2="1175.3" stroke="#4631c6" stroke-width="1.5"/>
<line x1="277.3" y1="1222.5" x2="277.3" y2="1215" stroke="#4631c6" stroke-width="1.2"/>
<line x1="289.4" y1="1222.5" x2="289.4" y2="1212" stroke="#4631c6" stroke-width="1.3"/>
<line x1="292.1" y1="1222.5" x2="292.1" y2="1188" stroke="#4631c6" stroke-width="1.5"/>
<line x1="294.1" y1="1222.5" x2="294.1" y2="815" stroke="#4631c6" stroke-width="3.2"/>
<line x1="321.1" y1="1222.5" x2="321.1" y2="1184.4" stroke="#4631c6" stroke-width="2.2"/>
<line x1="327.7" y1="1222.5" x2="327.7" y2="1160.8" stroke="#4631c6" stroke-width="1.8"/>
<line x1="334.7" y1="1222.5" x2="334.7" y2="1179.6" stroke="#4631c6" stroke-width="2.4"/>
<line x1="347.1" y1="1222.5" x2="347.1" y2="1171.4" stroke="#4631c6" stroke-width="1.5"/>
<line x1="361.3" y1="1222.5" x2="361.3" y2="1213.7" stroke="#4631c6" stroke-width="1.5"/>
<line x1="367" y1="1222.5" x2="367" y2="1181.4" stroke="#4631c6" stroke-width="1.8"/>
<line x1="375.8" y1="1222.5" x2="375.8" y2="908.4" stroke="#4631c6" stroke-width="1.6"/>
<line x1="376" y1="1222.5" x2="376" y2="978" stroke="#4631c6" stroke-width="3.0"/>
<line x1="383.4" y1="1222.5" x2="383.4" y2="1201.9" stroke="#4631c6" stroke-width="2"/>
<line x1="389.5" y1="1222.5" x2="389.5" y2="1209.2" stroke="#4631c6" stroke-width="2.5"/>
<line x1="396.3" y1="1222.5" x2="396.3" y2="1215" stroke="#4631c6" stroke-width="1.5"/>
<line x1="403.7" y1="1222.5" x2="403.7" y2="1182.1" stroke="#4631c6" stroke-width="2.2"/>
<line x1="425.5" y1="1222.5" x2="425.5" y2="990.3" stroke="#4631c6" stroke-width="3.0"/>
<line x1="427.2" y1="1222.5" x2="427.2" y2="1119.8" stroke="#4631c6" stroke-width="1.5"/>
<line x1="430.1" y1="1222.5" x2="430.1" y2="1196.6" stroke="#4631c6" stroke-width="2.2"/>
<line x1="438.1" y1="1222.5" x2="438.1" y2="1085.9" stroke="#4631c6" stroke-width="2.2"/>
<line x1="439.8" y1="1222.5" x2="439.8" y2="1136.7" stroke="#4631c6" stroke-width="1.5"/>
<line x1="445.8" y1="1222.5" x2="445.8" y2="1206.8" stroke="#4631c6" stroke-width="2.5"/>
<line x1="473.1" y1="1222.5" x2="473.1" y2="1185.7" stroke="#4631c6" stroke-width="2"/>
<line x1="481.3" y1="1222.5" x2="481.3" y2="1192.7" stroke="#4631c6" stroke-width="2.2"/>
<line x1="488.1" y1="1222.5" x2="488.1" y2="1150" stroke="#4631c6" stroke-width="2.5"/>
<line x1="501.2" y1="1222.5" x2="501.2" y2="1189.8" stroke="#4631c6" stroke-width="2"/>
<line x1="514.7" y1="1222.5" x2="514.7" y2="1214" stroke="#4631c6" stroke-width="1.5"/>
<line x1="527.2" y1="1222.5" x2="527.2" y2="1184.6" stroke="#4631c6" stroke-width="2.2"/>
<line x1="535.7" y1="1222.5" x2="535.7" y2="1156.8" stroke="#4631c6" stroke-width="2.5"/>
<line x1="538.3" y1="1222.5" x2="538.3" y2="1179.4" stroke="#4631c6" stroke-width="1.8"/>
<line x1="543.8" y1="1222.5" x2="543.8" y2="1184.1" stroke="#4631c6" stroke-width="2.5"/>
<line x1="549.2" y1="1222.5" x2="549.2" y2="1183.3" stroke="#4631c6" stroke-width="2.5"/>
<line x1="575" y1="1222.5" x2="575" y2="1167.7" stroke="#4631c6" stroke-width="2"/>
<line x1="584.3" y1="1222.5" x2="584.3" y2="1139.1" stroke="#4631c6" stroke-width="2.2"/>
<line x1="593.4" y1="1222.5" x2="593.4" y2="1187.2" stroke="#4631c6" stroke-width="2"/>
<line x1="599.1" y1="1222.5" x2="599.1" y2="1137.8" stroke="#4631c6" stroke-width="2.2"/>
<line x1="607.4" y1="1222.5" x2="607.4" y2="1170.3" stroke="#4631c6" stroke-width="2"/>
<line x1="612.1" y1="1222.5" x2="612.1" y2="1129.5" stroke="#4631c6" stroke-width="2.5"/>
<line x1="618.1" y1="1222.5" x2="618.1" y2="1174.2" stroke="#4631c6" stroke-width="1.8"/>
<line x1="620.7" y1="1222.5" x2="620.7" y2="1149" stroke="#4631c6" stroke-width="1.8"/>
<line x1="624.6" y1="1222.5" x2="624.6" y2="1176.8" stroke="#4631c6" stroke-width="1.8"/>
<line x1="626.9" y1="1222.5" x2="626.9" y2="1188" stroke="#4631c6" stroke-width="1.6"/>
<line x1="632.4" y1="1222.5" x2="632.4" y2="1171.6" stroke="#4631c6" stroke-width="1.8"/>
<line x1="638.1" y1="1222.5" x2="638.1" y2="1080.7" stroke="#4631c6" stroke-width="2"/>
<line x1="639.6" y1="1222.5" x2="639.6" y2="1143" stroke="#4631c6" stroke-width="1.5"/>
<line x1="641.5" y1="1222.5" x2="641.5" y2="1175.5" stroke="#4631c6" stroke-width="1.6"/>
<line x1="646.5" y1="1222.5" x2="646.5" y2="1000" stroke="#4631c6" stroke-width="2.5"/>
<line x1="656.2" y1="1222.5" x2="656.2" y2="966" stroke="#4631c6" stroke-width="2.5"/>
<line x1="615" y1="1222.5" x2="615" y2="1195" stroke="#4631c6" stroke-width="1.5"/>
<line x1="616.5" y1="1222.5" x2="616.5" y2="1200" stroke="#4631c6" stroke-width="1.5"/>
<line x1="622.5" y1="1222.5" x2="622.5" y2="1190" stroke="#4631c6" stroke-width="1.5"/>
<line x1="628.5" y1="1222.5" x2="628.5" y2="1198" stroke="#4631c6" stroke-width="1.5"/>
<line x1="630.3" y1="1222.5" x2="630.3" y2="1200" stroke="#4631c6" stroke-width="1.5"/>
<line x1="634.5" y1="1222.5" x2="634.5" y2="1196" stroke="#4631c6" stroke-width="1.5"/>
<line x1="636" y1="1222.5" x2="636" y2="1190" stroke="#4631c6" stroke-width="1.5"/>
<line x1="643.5" y1="1222.5" x2="643.5" y2="1195" stroke="#4631c6" stroke-width="1.5"/>
<line x1="650" y1="1222.5" x2="650" y2="1190" stroke="#4631c6" stroke-width="1.5"/>
<line x1="652.5" y1="1222.5" x2="652.5" y2="1200" stroke="#4631c6" stroke-width="1.5"/>
<line x1="659.5" y1="1222.5" x2="659.5" y2="1200" stroke="#4631c6" stroke-width="1.5"/>
<line x1="571" y1="1222.5" x2="571" y2="1205" stroke="#4631c6" stroke-width="1.5"/>
<line x1="578" y1="1222.5" x2="578" y2="1208" stroke="#4631c6" stroke-width="1.5"/>
<line x1="588" y1="1222.5" x2="588" y2="1207" stroke="#4631c6" stroke-width="1.5"/>
<line x1="596" y1="1222.5" x2="596" y2="1205" stroke="#4631c6" stroke-width="1.5"/>
<line x1="603" y1="1222.5" x2="603" y2="1204" stroke="#4631c6" stroke-width="1.5"/>
<line x1="609.5" y1="1222.5" x2="609.5" y2="1200" stroke="#4631c6" stroke-width="1.5"/>
<line x1="560" y1="1222.5" x2="560" y2="1212" stroke="#4631c6" stroke-width="1.5"/>
<line x1="532" y1="1222.5" x2="532" y2="1206" stroke="#4631c6" stroke-width="1.5"/>
<line x1="541" y1="1222.5" x2="541" y2="1207" stroke="#4631c6" stroke-width="1.5"/>
<text x="26.6" y="1235.8" font-size="11.5" text-anchor="middle" font-weight="normal" font-style="normal" fill="#111" stroke="#111" stroke-width="0.25">200</text>
<text x="125.4" y="1235.8" font-size="11.5" text-anchor="middle" font-weight="normal" font-style="normal" fill="#111" stroke="#111" stroke-width="0.25">400</text>
<text x="223.8" y="1235.8" font-size="11.5" text-anchor="middle" font-weight="normal" font-style="normal" fill="#111" stroke="#111" stroke-width="0.25">600</text>
<text x="323.5" y="1235.8" font-size="11.5" text-anchor="middle" font-weight="normal" font-style="normal" fill="#111" stroke="#111" stroke-width="0.25">800</text>
<text x="422.1" y="1235.8" font-size="11.5" text-anchor="middle" font-weight="normal" font-style="normal" fill="#111" stroke="#111" stroke-width="0.25">1000</text>
<text x="519.9" y="1235.8" font-size="11.5" text-anchor="middle" font-weight="normal" font-style="normal" fill="#111" stroke="#111" stroke-width="0.25">1200</text>
<text x="636.8" y="1235.2" font-size="11" text-anchor="start" font-weight="normal" font-style="italic" fill="#111" stroke="#111" stroke-width="0.25">m/z</text>
<line x1="89.1" y1="1136.7" x2="96.7" y2="1175.3" stroke="#111" stroke-width="1.25"/>
<line x1="172.8" y1="1186.5" x2="179.8" y2="1211.6" stroke="#111" stroke-width="1.25"/>
<line x1="237.4" y1="1154.8" x2="225.9" y2="1182" stroke="#111" stroke-width="1.25"/>
<line x1="321.1" y1="1147.3" x2="321.1" y2="1180.5" stroke="#111" stroke-width="1.8"/>
<line x1="327.7" y1="1118.5" x2="327.7" y2="1153.3" stroke="#111" stroke-width="1.8"/>
<line x1="367" y1="1137.3" x2="367" y2="1172.3" stroke="#111" stroke-width="1.8"/>
<line x1="383.4" y1="1125.8" x2="383.4" y2="1197.1" stroke="#111" stroke-width="1.8"/>
<line x1="390.9" y1="1147.6" x2="390.9" y2="1208" stroke="#111" stroke-width="1.8"/>
<line x1="403.7" y1="1160.8" x2="403.7" y2="1179.7" stroke="#555" stroke-width="1.05"/>
<polyline points="445.1,1123.4 430.1,1142.7" fill="none" stroke="#111" stroke-width="1.25"/>
<line x1="430.1" y1="1142" x2="430.1" y2="1192.7" stroke="#111" stroke-width="1.8"/>
<line x1="468" y1="1159.6" x2="473.1" y2="1183.8" stroke="#111" stroke-width="1.25"/>
<line x1="481.3" y1="1137.9" x2="481.3" y2="1189.8" stroke="#111" stroke-width="1.8"/>
<line x1="487.6" y1="1110.1" x2="487.6" y2="1145.1" stroke="#333" stroke-width="1.15"/>
<line x1="501.2" y1="1170.3" x2="501.2" y2="1187.2" stroke="#111" stroke-width="1.8"/>
<polyline points="522.5,1135.2 527.2,1145.6 527.2,1180.2" fill="none" stroke="#111" stroke-width="1.25"/>
<polyline points="528.5,1093.7 535.5,1110.5 535.5,1152.1" fill="none" stroke="#111" stroke-width="1.25"/>
<polyline points="531.6,1066.4 538.3,1079.4 538.3,1180.2" fill="none" stroke="#111" stroke-width="1.25"/>
<line x1="543.8" y1="1057.3" x2="543.8" y2="1180.7" stroke="#111" stroke-width="1.15"/>
<polyline points="557,1076.8 549.2,1087.2 549.2,1179.4" fill="none" stroke="#111" stroke-width="1.25"/>
<line x1="575" y1="1146.9" x2="575" y2="1163.8" stroke="#111" stroke-width="1.8"/>
<line x1="584.3" y1="1102.2" x2="584.3" y2="1136" stroke="#111" stroke-width="1.8"/>
<line x1="599.1" y1="1117.8" x2="599.1" y2="1135.2" stroke="#111" stroke-width="1.15"/>
<polyline points="623.8,1080.7 623.8,1115.7 612.1,1126.1" fill="none" stroke="#111" stroke-width="1.1"/>
<line x1="646" y1="942.5" x2="646" y2="995" stroke="#111" stroke-width="1.8"/>
<line x1="656" y1="910" x2="656" y2="962.5" stroke="#111" stroke-width="1.8"/>
<line x1="367" y1="966.3" x2="374.6" y2="976.4" stroke="#111" stroke-width="1.25"/>
<line x1="92.1" y1="1090.8" x2="107.3" y2="1071.7" stroke="#111" stroke-width="1.7"/>
<line x1="93.7" y1="1097.4" x2="108.8" y2="1079.3" stroke="#111" stroke-width="1.7"/>
<line x1="284.1" y1="846.7" x2="303.1" y2="827.7" stroke="#111" stroke-width="1.7"/>
<line x1="284.1" y1="854.9" x2="303.1" y2="835.8" stroke="#111" stroke-width="1.7"/>
<text x="5.6" y="861" font-size="44" text-anchor="start" font-weight="normal" font-style="normal" fill="#111" stroke="#111" stroke-width="0.25">C</text>
<text x="92.1" y="1058.7" font-size="13.4" text-anchor="start" font-weight="normal" font-style="normal" fill="#111" stroke="#111" stroke-width="0.25">z3.</text>
<text x="106.3" y="1099.8" font-size="13.4" text-anchor="start" font-weight="normal" font-style="normal" fill="#111" stroke="#111" stroke-width="0.25">x2</text>
<text x="79.2" y="1130.6" font-size="13.4" text-anchor="start" font-weight="normal" font-style="normal" fill="#111" stroke="#111" stroke-width="0.25">z3</text>
<text x="170.7" y="1108" font-size="13.4" text-anchor="start" font-weight="normal" font-style="normal" fill="#111" stroke="#111" stroke-width="0.25">pz4.</text>
<text x="153.2" y="1183.5" font-size="13.4" text-anchor="start" font-weight="normal" font-style="normal" fill="#111" stroke="#111" stroke-width="0.25">pz4</text>
<text x="231.4" y="1149.4" font-size="13.4" text-anchor="start" font-weight="normal" font-style="normal" fill="#111" stroke="#111" stroke-width="0.25">pz5.</text>
<text x="254" y="1169.9" font-size="13.4" text-anchor="start" font-weight="normal" font-style="normal" fill="#111" stroke="#111" stroke-width="0.25">pz6.</text>
<text x="301.8" y="1139.1" font-size="13.4" text-anchor="start" font-weight="normal" font-style="normal" fill="#111" stroke="#111" stroke-width="0.25">py7</text>
<text x="320.5" y="1112.5" font-size="13.4" text-anchor="start" font-weight="normal" font-style="normal" fill="#111" stroke="#111" stroke-width="0.25">z8'</text>
<text x="355.2" y="1132.1" font-size="13.4" text-anchor="start" font-weight="normal" font-style="normal" fill="#111" stroke="#111" stroke-width="0.25">z9'</text>
<text x="378.1" y="1119.3" font-size="13.4" text-anchor="start" font-weight="normal" font-style="normal" fill="#111" stroke="#111" stroke-width="0.25">py8</text>
<text x="385.4" y="1141" font-size="13.4" text-anchor="start" font-weight="normal" font-style="normal" fill="#111" stroke="#111" stroke-width="0.25">z10'</text>
<text x="393.8" y="1156" font-size="13.4" text-anchor="start" font-weight="normal" font-style="normal" fill="#111" stroke="#111" stroke-width="0.25">pw9</text>
<text x="426.5" y="1067.8" font-size="13.4" text-anchor="start" font-weight="normal" font-style="normal" fill="#111" stroke="#111" stroke-width="0.25">pw10</text>
<text x="428.4" y="1079.9" font-size="13.4" text-anchor="start" font-weight="normal" font-style="normal" fill="#111" stroke="#111" stroke-width="0.25">pz9</text>
<text x="441" y="1118.5" font-size="13.4" text-anchor="start" font-weight="normal" font-style="normal" fill="#111" stroke="#111" stroke-width="0.25">pz9'</text>
<text x="451.4" y="1133" font-size="13.4" text-anchor="start" font-weight="normal" font-style="normal" fill="#111" stroke="#111" stroke-width="0.25">py10</text>
<text x="446.3" y="1156.7" font-size="13.4" text-anchor="start" font-weight="normal" font-style="normal" fill="#111" stroke="#111" stroke-width="0.25">pz10</text>
<text x="476.7" y="1104.8" font-size="13.4" text-anchor="start" font-weight="normal" font-style="normal" fill="#111" stroke="#111" stroke-width="0.25">z11'</text>
<text x="492.9" y="1129.4" font-size="13.4" text-anchor="start" font-weight="normal" font-style="normal" fill="#111" stroke="#111" stroke-width="0.25">pz11'</text>
<text x="489.8" y="1166.9" font-size="13.4" text-anchor="start" font-weight="normal" font-style="normal" fill="#111" stroke="#111" stroke-width="0.25">pw11</text>
<text x="500.2" y="1063.5" font-size="13.4" text-anchor="start" font-weight="normal" font-style="normal" fill="#111" stroke="#111" stroke-width="0.25">z12'</text>
<text x="500.7" y="1086.5" font-size="13.4" text-anchor="start" font-weight="normal" font-style="normal" fill="#111" stroke="#111" stroke-width="0.25">pz11</text>
<text x="536.8" y="1046.9" font-size="13.4" text-anchor="start" font-weight="normal" font-style="normal" fill="#111" stroke="#111" stroke-width="0.25">py11</text>
<text x="552.9" y="1071.6" font-size="13.4" text-anchor="start" font-weight="normal" font-style="normal" fill="#111" stroke="#111" stroke-width="0.25">pw12</text>
<text x="602.2" y="1072.9" font-size="13.4" text-anchor="start" font-weight="normal" font-style="normal" fill="#111" stroke="#111" stroke-width="0.25">pw13</text>
<text x="571.1" y="1098.8" font-size="13.4" text-anchor="start" font-weight="normal" font-style="normal" fill="#111" stroke="#111" stroke-width="0.25">pz12</text>
<text x="587.9" y="1113.1" font-size="13.4" text-anchor="start" font-weight="normal" font-style="normal" fill="#111" stroke="#111" stroke-width="0.25">z13'</text>
<text x="578.3" y="1143" font-size="13.4" text-anchor="start" font-weight="normal" font-style="normal" fill="#111" stroke="#111" stroke-width="0.25" transform="rotate(-90 578.3 1143)">pz12'</text>
<text x="366.5" y="903" font-size="13.4" text-anchor="start" font-weight="normal" font-style="normal" fill="#111" stroke="#111" stroke-width="0.25">pz8.</text>
<text x="346.1" y="963.6" font-size="13.4" text-anchor="start" font-weight="normal" font-style="normal" fill="#111" stroke="#111" stroke-width="0.25">pz8</text>
<text x="417.3" y="985.4" font-size="13.4" text-anchor="start" font-weight="normal" font-style="normal" fill="#111" stroke="#111" stroke-width="0.25">z11'</text>
<text x="307" y="832.5" font-size="12.6" text-anchor="start" font-weight="normal" font-style="normal" fill="#111" stroke="#111" stroke-width="0.25" textLength="188" lengthAdjust="spacingAndGlyphs">[EVQAEQPSSpSSPR+2H]<tspan font-size="8.5" dy="-5">2+</tspan></text>
<text x="299.6" y="857.4" font-size="13.4" text-anchor="start" font-weight="normal" font-style="normal" fill="#111" stroke="#111" stroke-width="0.25">x10</text>
<text x="454" y="908.3" font-size="11.8" text-anchor="start" font-weight="normal" font-style="normal" fill="#111" stroke="#111" stroke-width="0.25" textLength="205.5" lengthAdjust="spacingAndGlyphs">[EVQAEQPSSpSSPR+2H+e]<tspan font-size="13" font-weight="bold" dy="-4">+</tspan></text>
<text x="441.5" y="938.5" font-size="11.8" text-anchor="start" font-weight="normal" font-style="normal" fill="#111" stroke="#111" stroke-width="0.45" textLength="211" lengthAdjust="spacingAndGlyphs">[EVQAEQPSSpSSPR+2H+e]<tspan font-size="9.5" dy="-5">+'</tspan></text>
<text x="464.5" y="886.3" font-size="12.5" text-anchor="start" font-weight="normal" font-style="normal" fill="#111" stroke="#111" stroke-width="0.25" textLength="95.5" lengthAdjust="spacingAndGlyphs">ECD 0.2s 1.2V</text>
<text transform="translate(391.6,865) scale(1.08,1)" font-size="21" fill="#111" stroke="#111" stroke-width="0.3">E</text>
<text transform="translate(409.2,865) scale(1.08,1)" font-size="21" fill="#111" stroke="#111" stroke-width="0.3">V</text>
<text transform="translate(430.2,865) scale(1.08,1)" font-size="21" fill="#111" stroke="#111" stroke-width="0.3">Q</text>
<text transform="translate(452.0,865) scale(1.08,1)" font-size="21" fill="#111" stroke="#111" stroke-width="0.3">A</text>
<text transform="translate(473.7,865) scale(1.08,1)" font-size="21" fill="#111" stroke="#111" stroke-width="0.3">E</text>
<text transform="translate(491.9,865) scale(1.08,1)" font-size="21" fill="#111" stroke="#111" stroke-width="0.3">Q</text>
<text transform="translate(515.7,865) scale(1.08,1)" font-size="21" fill="#111" stroke="#111" stroke-width="0.3">P</text>
<text transform="translate(533.5,865) scale(1.08,1)" font-size="21" fill="#111" stroke="#111" stroke-width="0.3">S</text>
<text transform="translate(553.3,865) scale(1.08,1)" font-size="21" fill="#111" stroke="#111" stroke-width="0.3">S</text>
<text transform="translate(573.1,865) scale(1.08,1)" font-size="21" fill="#111" stroke="#111" stroke-width="0.3">p</text>
<text transform="translate(585.9,865) scale(1.08,1)" font-size="21" fill="#111" stroke="#111" stroke-width="0.3">S</text>
<text transform="translate(607.7,865) scale(1.08,1)" font-size="21" fill="#111" stroke="#111" stroke-width="0.3">S</text>
<text transform="translate(628.2,865) scale(1.08,1)" font-size="21" fill="#111" stroke="#111" stroke-width="0.3">P</text>
<text transform="translate(645.1,865) scale(1.08,1)" font-size="21" fill="#111" stroke="#111" stroke-width="0.3">R</text>
<line x1="408" y1="838.6" x2="408" y2="871.7" stroke="#111" stroke-width="1.25"/>
<line x1="407.4" y1="839.2" x2="412.6" y2="839.2" stroke="#111" stroke-width="1.35"/>
<line x1="428.5" y1="838.6" x2="428.5" y2="871.7" stroke="#111" stroke-width="1.25"/>
<line x1="427.9" y1="839.2" x2="433.1" y2="839.2" stroke="#111" stroke-width="1.35"/>
<line x1="449.8" y1="838.6" x2="449.8" y2="871.7" stroke="#111" stroke-width="1.25"/>
<line x1="449.2" y1="839.2" x2="454.40000000000003" y2="839.2" stroke="#111" stroke-width="1.35"/>
<line x1="471.5" y1="838.6" x2="471.5" y2="871.7" stroke="#111" stroke-width="1.25"/>
<line x1="470.9" y1="839.2" x2="476.1" y2="839.2" stroke="#111" stroke-width="1.35"/>
<line x1="491.3" y1="838.6" x2="491.3" y2="871.7" stroke="#111" stroke-width="1.25"/>
<line x1="490.7" y1="839.2" x2="495.90000000000003" y2="839.2" stroke="#111" stroke-width="1.35"/>
<line x1="513" y1="838.6" x2="513" y2="871.7" stroke="#111" stroke-width="1.25"/>
<line x1="512.4" y1="839.2" x2="517.6" y2="839.2" stroke="#111" stroke-width="1.35"/>
<line x1="531.1" y1="838.6" x2="531.1" y2="871.7" stroke="#111" stroke-width="1.25"/>
<line x1="530.5" y1="839.2" x2="535.7" y2="839.2" stroke="#111" stroke-width="1.35"/>
<line x1="550.3" y1="838.6" x2="550.3" y2="871.7" stroke="#111" stroke-width="1.25"/>
<line x1="549.6999999999999" y1="839.2" x2="554.9" y2="839.2" stroke="#111" stroke-width="1.35"/>
<line x1="570.2" y1="838.6" x2="570.2" y2="871.7" stroke="#111" stroke-width="1.25"/>
<line x1="569.6" y1="839.2" x2="574.8000000000001" y2="839.2" stroke="#111" stroke-width="1.35"/>
<line x1="604.7" y1="838.6" x2="604.7" y2="871.7" stroke="#111" stroke-width="1.25"/>
<line x1="604.1" y1="839.2" x2="609.3000000000001" y2="839.2" stroke="#111" stroke-width="1.35"/>
<rect x="12.2" y="867.1" width="259.7" height="120.10000000000002" fill="#fff" stroke="#adadad" stroke-width="1.2"/>
<rect x="12.2" y="936.4" width="18.1" height="50.8" fill="#999" stroke="#1a1a1a" stroke-width="1.0"/>
<rect x="34.1" y="936.4" width="18.1" height="50.8" fill="#999" stroke="#1a1a1a" stroke-width="1.0"/>
<rect x="56.1" y="917.4" width="18.1" height="69.8" fill="#999" stroke="#1a1a1a" stroke-width="1.0"/>
<rect x="78.0" y="938.3" width="18.1" height="48.9" fill="#999" stroke="#1a1a1a" stroke-width="1.0"/>
<rect x="99.9" y="877.1" width="18.1" height="110.1" fill="#999" stroke="#1a1a1a" stroke-width="1.0"/>
<rect x="121.9" y="982.7" width="18.1" height="4.5" fill="#999" stroke="#1a1a1a" stroke-width="1.0"/>
<rect x="143.8" y="980.9" width="18.1" height="6.3" fill="#999" stroke="#1a1a1a" stroke-width="1.0"/>
<rect x="165.7" y="982.7" width="18.1" height="4.5" fill="#999" stroke="#1a1a1a" stroke-width="1.0"/>
<rect x="187.6" y="961.8" width="18.1" height="25.4" fill="#999" stroke="#1a1a1a" stroke-width="1.0"/>
<rect x="209.6" y="947.3" width="18.1" height="39.9" fill="#999" stroke="#1a1a1a" stroke-width="1.0"/>
<text x="21.2" y="1001.3000000000001" font-size="12.2" text-anchor="middle" font-weight="normal" font-style="normal" fill="#111" stroke="#111" stroke-width="0.25">EV</text>
<text x="43.2" y="1001.3000000000001" font-size="12.2" text-anchor="middle" font-weight="normal" font-style="normal" fill="#111" stroke="#111" stroke-width="0.25">VQ</text>
<text x="65.1" y="1001.3000000000001" font-size="12.2" text-anchor="middle" font-weight="normal" font-style="normal" fill="#111" stroke="#111" stroke-width="0.25">QA</text>
<text x="87.0" y="1001.3000000000001" font-size="12.2" text-anchor="middle" font-weight="normal" font-style="normal" fill="#111" stroke="#111" stroke-width="0.25">AE</text>
<text x="109.0" y="1001.3000000000001" font-size="12.2" text-anchor="middle" font-weight="normal" font-style="normal" fill="#111" stroke="#111" stroke-width="0.25">EQ</text>
<text x="130.9" y="1001.3000000000001" font-size="12.2" text-anchor="middle" font-weight="normal" font-style="normal" fill="#111" stroke="#111" stroke-width="0.25">QP</text>
<text x="152.8" y="1001.3000000000001" font-size="12.2" text-anchor="middle" font-weight="normal" font-style="normal" fill="#111" stroke="#111" stroke-width="0.25">PS</text>
<text x="174.8" y="1001.3000000000001" font-size="12.2" text-anchor="middle" font-weight="normal" font-style="normal" fill="#111" stroke="#111" stroke-width="0.25">SS</text>
<text x="196.7" y="1001.3000000000001" font-size="12.2" text-anchor="middle" font-weight="normal" font-style="normal" fill="#111" stroke="#111" stroke-width="0.25" textLength="20.3" lengthAdjust="spacingAndGlyphs">SpS</text>
<text x="218.6" y="1001.3000000000001" font-size="12.2" text-anchor="middle" font-weight="normal" font-style="normal" fill="#111" stroke="#111" stroke-width="0.25" textLength="20.3" lengthAdjust="spacingAndGlyphs">pSS</text>
<text x="240.6" y="1001.3000000000001" font-size="12.2" text-anchor="middle" font-weight="normal" font-style="normal" fill="#111" stroke="#111" stroke-width="0.25">SP</text>
<text x="262.5" y="1001.3000000000001" font-size="12.2" text-anchor="middle" font-weight="normal" font-style="normal" fill="#111" stroke="#111" stroke-width="0.25">PR</text>
<text x="10" y="912.4" font-size="13" text-anchor="start" font-weight="normal" font-style="normal" fill="#111" stroke="#111" stroke-width="0.25" transform="rotate(-90 10 912.4)">20%</text>
<text x="10" y="986.3" font-size="13" text-anchor="start" font-weight="normal" font-style="normal" fill="#111" stroke="#111" stroke-width="0.25" transform="rotate(-90 10 986.3)">0%</text>
<path d="M0,1634.9 L0,1630.1 L0,1630.1 L1.0,1629.1 L1.9,1630.0 L2.9,1628.3 L3.9,1629.6 L4.6,1630.1 L5.4,1629.3 L6.1,1628.4 L6.9,1630.0 L7.5,1627.1 L8.5,1628.0 L9.5,1630.1 L10.3,1629.6 L11.0,1627.4 L11.8,1630.1 L12.9,1630.1 L14.0,1629.7 L15.0,1629.9 L15.9,1630.1 L16.5,1628.0 L17.3,1628.5 L18.0,1627.3 L19.1,1628.6 L20.2,1629.3 L21.2,1630.1 L22.1,1628.2 L22.8,1627.6 L23.9,1629.8 L24.8,1629.7 L25.6,1627.1 L26.4,1630.1 L27.1,1628.8 L28.3,1629.6 L29.2,1629.4 L30.2,1630.0 L31.2,1629.4 L32.1,1630.1 L32.9,1629.9 L34.0,1629.9 L34.9,1629.9 L35.6,1630.1 L36.7,1628.5 L37.5,1628.9 L38.5,1627.8 L39.7,1629.8 L40.8,1627.4 L41.8,1627.9 L42.7,1629.8 L43.4,1627.9 L44.2,1630.1 L45.2,1628.5 L46.1,1628.2 L46.8,1630.0 L47.6,1629.8 L48.3,1630.1 L49.1,1627.8 L50.3,1628.7 L51.1,1630.0 L52.3,1629.5 L53.3,1630.1 L54.1,1628.2 L55.1,1627.9 L56.1,1629.7 L57.0,1628.1 L57.8,1629.5 L58.6,1628.5 L59.2,1628.9 L60.4,1630.1 L61.3,1629.1 L62.4,1629.3 L63.2,1629.8 L64.3,1627.8 L65.0,1630.1 L65.7,1630.1 L66.6,1630.1 L67.7,1629.1 L68.4,1629.5 L69.2,1629.6 L69.9,1630.1 L70.7,1629.8 L71.7,1629.4 L72.3,1628.8 L73.4,1628.5 L74.5,1630.1 L75.4,1630.1 L76.4,1630.1 L77.4,1630.0 L78.4,1629.9 L79.1,1629.8 L79.9,1627.8 L80.7,1629.6 L81.6,1627.5 L82.3,1629.3 L83.2,1628.7 L84.3,1629.9 L85.3,1629.5 L86.3,1630.1 L87.3,1627.3 L88.2,1629.9 L89.3,1630.1 L90.0,1630.1 L91.1,1628.6 L91.9,1629.2 L92.6,1629.1 L93.5,1629.5 L94.3,1629.8 L95.1,1630.1 L95.9,1630.0 L96.9,1628.3 L97.9,1629.7 L98.7,1629.8 L99.6,1629.1 L100.7,1630.1 L101.6,1629.6 L102.7,1627.9 L103.7,1629.2 L104.7,1629.0 L105.8,1628.9 L106.8,1630.0 L108.0,1629.8 L108.9,1628.2 L110.1,1627.2 L110.7,1629.9 L111.5,1629.8 L112.2,1629.4 L112.9,1629.9 L114.0,1628.7 L114.9,1630.1 L116.1,1628.9 L116.8,1629.9 L117.8,1628.9 L118.5,1627.5 L119.3,1630.0 L120.4,1630.1 L121.4,1630.0 L122.4,1630.0 L123.2,1627.5 L124.1,1629.7 L125.1,1630.0 L125.8,1629.8 L126.6,1630.1 L127.7,1630.1 L128.8,1627.6 L129.8,1630.1 L130.7,1630.1 L131.6,1628.9 L132.4,1630.1 L133.3,1630.1 L134.1,1629.7 L135.2,1629.9 L135.9,1628.4 L137.0,1629.5 L137.7,1630.1 L138.5,1629.4 L139.3,1628.4 L140.4,1627.6 L141.5,1630.1 L142.4,1630.1 L143.5,1628.7 L144.6,1630.1 L145.2,1628.3 L146.2,1629.2 L147.1,1628.4 L147.9,1630.0 L148.7,1630.0 L149.7,1627.9 L150.3,1630.1 L151.2,1629.0 L152.0,1630.0 L152.6,1630.1 L153.5,1629.0 L154.5,1630.1 L155.2,1627.6 L156.1,1629.8 L157.1,1628.7 L158.0,1630.1 L159.1,1630.0 L159.8,1629.9 L160.7,1629.2 L161.4,1628.8 L162.3,1630.1 L163.4,1628.3 L164.5,1629.0 L165.3,1628.5 L166.4,1629.5 L167.5,1627.3 L168.3,1627.5 L169.5,1628.4 L170.1,1629.9 L171.1,1629.2 L172.1,1629.1 L172.8,1627.6 L173.8,1627.9 L174.5,1627.1 L175.4,1628.5 L176.5,1627.9 L177.3,1630.1 L178.1,1630.1 L179.1,1628.3 L179.9,1630.1 L180.5,1629.8 L181.5,1630.1 L182.5,1630.0 L183.1,1627.6 L184.1,1627.8 L185.0,1630.1 L185.7,1629.7 L186.7,1628.5 L187.7,1629.1 L188.5,1629.7 L189.3,1629.6 L190.1,1629.5 L191.0,1630.1 L192.1,1629.3 L193.1,1628.7 L194.1,1627.1 L195.0,1629.8 L195.6,1629.0 L196.6,1629.3 L197.7,1630.0 L198.5,1628.7 L199.5,1629.6 L200.2,1629.8 L201.3,1629.6 L202.2,1629.8 L203.1,1629.3 L204.1,1628.0 L205.2,1629.8 L205.9,1628.5 L207.0,1627.6 L207.7,1628.1 L208.8,1630.1 L209.6,1629.1 L210.4,1628.2 L211.1,1628.9 L211.9,1630.0 L212.7,1629.6 L213.7,1630.0 L214.7,1629.9 L215.7,1629.9 L216.4,1630.1 L217.0,1628.9 L217.9,1630.1 L219.0,1629.1 L219.6,1628.8 L220.6,1629.7 L221.5,1627.4 L222.3,1629.1 L223.3,1629.9 L224.1,1628.6 L225.1,1629.7 L226.0,1630.0 L227.1,1630.1 L228.0,1629.7 L228.8,1629.3 L229.7,1630.1 L230.6,1630.1 L231.7,1629.9 L232.5,1630.0 L233.1,1630.1 L233.9,1629.2 L234.9,1630.0 L235.6,1629.5 L236.3,1629.8 L237.4,1630.0 L238.4,1629.5 L239.1,1630.0 L240.0,1630.1 L240.7,1629.3 L241.8,1629.5 L242.8,1630.1 L243.6,1629.9 L244.7,1629.9 L245.8,1630.1 L246.7,1627.8 L247.7,1629.3 L248.5,1627.6 L249.1,1627.4 L250.2,1628.8 L251.1,1630.1 L251.9,1629.0 L252.9,1629.8 L254.0,1630.1 L254.7,1630.1 L255.5,1628.4 L256.6,1630.1 L257.4,1630.1 L258.4,1629.7 L259.1,1629.8 L260.2,1629.7 L261.2,1629.2 L262.1,1629.4 L262.9,1630.0 L263.8,1629.9 L264.6,1630.1 L265.8,1629.7 L266.5,1630.1 L267.2,1628.0 L268.1,1629.0 L268.8,1629.1 L269.7,1628.7 L270.6,1629.8 L271.4,1629.3 L272.5,1628.9 L273.3,1629.9 L274.5,1628.1 L275.2,1629.0 L276.2,1629.0 L277.4,1627.9 L278.1,1627.1 L278.9,1629.8 L280.1,1630.1 L280.9,1629.2 L281.7,1630.0 L282.8,1629.2 L283.8,1628.4 L284.9,1627.8 L286.0,1627.3 L286.9,1628.9 L287.8,1627.3 L288.8,1629.7 L289.8,1630.0 L290.5,1629.8 L291.2,1630.1 L291.8,1629.7 L292.9,1630.1 L293.9,1630.1 L294.8,1630.0 L295.6,1628.8 L296.5,1629.8 L297.5,1630.1 L298.3,1628.9 L299.4,1627.3 L300.2,1629.2 L301.0,1628.9 L302.1,1630.1 L302.9,1627.6 L303.7,1629.1 L304.8,1630.0 L305.8,1630.1 L306.6,1630.1 L307.5,1630.0 L308.1,1628.4 L308.8,1629.4 L309.8,1628.1 L310.8,1629.2 L311.6,1628.6 L312.2,1627.6 L313.0,1630.0 L313.8,1629.8 L314.8,1628.1 L315.9,1628.7 L316.6,1629.9 L317.4,1629.7 L318.5,1627.1 L319.2,1627.4 L320.3,1629.7 L321.3,1628.5 L322.1,1629.2 L323.2,1627.9 L324.4,1630.1 L325.4,1629.6 L326.5,1630.2 L327.4,1630.3 L328.5,1629.0 L329.1,1630.2 L329.8,1629.5 L330.8,1630.5 L332.0,1628.8 L332.8,1630.2 L333.6,1630.2 L334.5,1630.5 L335.5,1630.8 L336.3,1629.9 L337.1,1631.0 L338.2,1631.0 L339.0,1631.0 L339.8,1631.0 L340.7,1631.2 L341.7,1631.3 L342.3,1631.3 L343.1,1631.3 L343.9,1630.2 L344.9,1631.2 L345.9,1630.8 L346.7,1631.1 L347.7,1631.3 L348.8,1631.2 L349.9,1631.8 L350.9,1630.0 L351.8,1630.3 L352.5,1631.0 L353.3,1630.9 L354.1,1631.5 L354.9,1631.8 L356.0,1631.2 L357.0,1631.9 L357.7,1630.1 L358.5,1631.5 L359.5,1631.5 L360.4,1630.0 L361.5,1631.8 L362.3,1631.7 L363.3,1631.2 L364.1,1631.1 L365.0,1631.9 L365.8,1631.7 L366.5,1631.2 L367.7,1630.2 L368.6,1630.5 L369.5,1631.4 L370.6,1631.9 L371.5,1631.7 L372.3,1631.7 L372.9,1631.1 L374.1,1631.8 L374.8,1631.8 L375.9,1631.9 L376.9,1631.9 L377.9,1631.0 L378.9,1631.9 L380.0,1630.6 L380.9,1630.5 L381.9,1631.9 L382.7,1630.7 L383.6,1631.9 L384.3,1631.9 L385.2,1631.2 L386.1,1631.7 L387.3,1631.8 L388.3,1631.9 L389.2,1631.9 L389.9,1631.8 L390.6,1631.7 L391.5,1631.5 L392.6,1631.6 L393.3,1631.0 L394.1,1630.9 L395.3,1631.5 L396.0,1631.7 L396.9,1631.8 L397.6,1631.7 L398.6,1630.7 L399.6,1630.4 L400.7,1631.7 L401.7,1631.9 L402.7,1631.1 L403.5,1631.6 L404.3,1630.8 L405.2,1630.8 L406.3,1630.8 L407.1,1631.8 L408.3,1630.3 L409.0,1631.7 L410.1,1630.9 L410.8,1631.6 L412.0,1631.9 L412.8,1631.2 L413.9,1630.2 L414.8,1630.8 L415.9,1631.8 L416.7,1631.8 L417.7,1631.9 L418.7,1630.2 L419.4,1631.3 L420.3,1630.1 L421.2,1631.6 L422.3,1630.9 L423.0,1630.7 L423.9,1630.1 L425.0,1631.6 L425.9,1631.9 L426.7,1631.9 L427.4,1631.0 L428.0,1631.3 L429.0,1631.0 L429.9,1630.2 L430.7,1631.9 L431.7,1631.8 L432.8,1630.3 L433.8,1630.6 L434.6,1631.6 L435.4,1631.8 L436.3,1631.6 L437.2,1631.9 L438.2,1631.9 L439.3,1631.4 L440.3,1631.8 L441.3,1631.1 L442.4,1631.4 L443.2,1631.3 L443.8,1630.9 L444.6,1631.0 L445.3,1631.3 L446.0,1631.9 L446.8,1630.6 L447.7,1631.5 L448.7,1630.0 L449.5,1631.1 L450.5,1630.8 L451.4,1631.6 L452.4,1631.8 L453.3,1631.3 L454.4,1631.8 L455.4,1631.9 L456.1,1631.6 L457.1,1631.2 L458.2,1631.9 L459.1,1631.6 L459.9,1630.3 L460.6,1631.8 L461.3,1631.2 L462.2,1631.9 L463.4,1631.3 L464.1,1630.2 L465.2,1631.8 L466.3,1631.9 L467.1,1631.7 L468.3,1631.8 L469.1,1631.9 L470.2,1631.9 L471.3,1631.8 L472.2,1631.0 L473.0,1631.7 L473.9,1631.6 L474.8,1631.5 L475.6,1631.9 L476.2,1631.6 L477.2,1631.2 L477.9,1631.5 L478.8,1631.7 L479.8,1631.7 L480.7,1631.5 L481.4,1631.0 L482.3,1631.9 L483.2,1630.9 L484.4,1631.8 L485.1,1630.9 L485.9,1631.9 L486.7,1631.7 L487.7,1631.9 L488.5,1631.4 L489.3,1631.9 L490.3,1631.7 L491.3,1631.7 L492.4,1631.7 L493.5,1631.2 L494.6,1631.7 L495.5,1631.8 L496.2,1631.0 L497.3,1631.3 L498.4,1631.6 L499.5,1631.7 L500.7,1631.9 L501.5,1631.6 L502.6,1631.7 L503.6,1631.8 L504.6,1631.2 L505.6,1631.9 L506.6,1631.9 L507.4,1631.9 L508.4,1631.9 L509.4,1631.9 L510.2,1631.4 L511.3,1631.9 L512.3,1631.8 L513.2,1631.9 L513.9,1631.9 L515.0,1631.7 L515.9,1631.9 L516.9,1631.0 L517.7,1631.3 L518.8,1630.7 L519.7,1631.5 L520.5,1631.3 L521.3,1631.5 L522.3,1630.7 L523.3,1631.9 L524.1,1631.8 L524.9,1631.4 L525.7,1631.6 L526.6,1631.8 L527.5,1631.8 L528.7,1631.9 L529.8,1631.5 L530.7,1631.9 L531.7,1631.2 L532.5,1631.4 L533.4,1631.9 L534.5,1631.8 L535.4,1631.3 L536.5,1631.1 L537.3,1631.1 L538.0,1631.6 L538.9,1631.1 L539.9,1631.5 L541.0,1631.8 L541.9,1631.9 L542.7,1631.9 L543.7,1631.9 L544.8,1631.6 L545.7,1631.9 L546.6,1631.6 L547.3,1630.8 L548.1,1631.8 L548.9,1631.8 L549.7,1631.1 L550.3,1631.8 L551.3,1631.7 L552.1,1631.7 L552.7,1631.8 L553.6,1631.3 L554.5,1631.8 L555.5,1631.9 L556.4,1631.9 L557.4,1631.6 L558.3,1631.0 L559.4,1630.7 L560.1,1630.8 L561.0,1631.8 L561.9,1630.9 L563.0,1631.2 L563.8,1631.9 L564.6,1631.5 L565.6,1631.9 L566.2,1630.7 L567.0,1631.9 L567.9,1631.9 L569.0,1631.7 L569.9,1630.9 L570.6,1631.9 L571.7,1631.6 L572.6,1631.8 L573.5,1630.9 L574.7,1630.9 L575.8,1631.9 L576.5,1631.1 L577.2,1631.7 L578.1,1630.8 L579.0,1631.9 L579.7,1631.0 L580.8,1631.9 L581.9,1631.8 L583.0,1631.6 L584.1,1631.7 L584.7,1631.6 L585.8,1631.8 L586.9,1631.7 L587.7,1631.8 L588.4,1631.7 L589.6,1631.6 L590.6,1631.9 L591.5,1631.6 L592.3,1631.9 L593.4,1631.9 L594.4,1630.8 L595.2,1631.9 L596.0,1631.6 L597.1,1631.9 L597.9,1631.0 L598.7,1631.5 L599.7,1631.9 L600.4,1631.3 L601.5,1631.4 L602.4,1631.9 L603.3,1631.9 L604.1,1631.9 L605.0,1631.7 L605.8,1631.9 L606.4,1631.9 L607.1,1630.8 L607.8,1631.4 L608.7,1631.6 L609.5,1630.8 L610.5,1631.8 L611.4,1630.9 L612.1,1631.0 L613.1,1631.6 L614.0,1631.6 L614.7,1631.9 L615.5,1631.9 L616.2,1631.4 L617.0,1631.3 L617.9,1630.9 L618.6,1631.7 L619.5,1631.2 L620.2,1631.6 L621.1,1631.5 L621.8,1631.6 L623.0,1631.9 L624.1,1630.8 L625.0,1631.9 L625.9,1630.8 L626.5,1631.3 L627.6,1631.9 L628.5,1631.9 L629.2,1631.7 L630.0,1631.5 L630.9,1631.9 L632.0,1631.9 L633.1,1631.8 L634.2,1631.6 L635.1,1631.9 L636.2,1631.1 L637.3,1631.6 L638.5,1631.0 L639.5,1631.8 L640.4,1631.8 L641.5,1631.6 L642.6,1631.0 L643.6,1631.9 L644.4,1631.9 L645.2,1631.9 L646.0,1631.2 L646.7,1630.9 L647.9,1631.3 L648.6,1631.8 L649.5,1631.5 L650.6,1631.9 L651.3,1631.2 L651.9,1631.0 L652.7,1630.8 L653.6,1631.6 L654.6,1631.2 L655.5,1631.7 L656.5,1631.9 L657.3,1631.1 L658.4,1631.2 L659.3,1631.8 L660.0,1631.1 L660.6,1631.9 L661.3,1631.7 L662,1631.9 L662,1634.9Z" fill="#b020b4" stroke="none"/>
<path d="M1,1633.4V1618.5M5.5,1633.4V1619.7M7.7,1633.4V1628.3M10.8,1633.4V1629.5M21.7,1633.4V1625.5M24.8,1633.4V1629.8M28.7,1633.4V1631.9M30.8,1633.4V1623.4M34.4,1633.4V1626.8M38.0,1633.4V1616.6M40.9,1633.4V1624.1M43.9,1633.4V1628.7M47.6,1633.4V1632.3M49.8,1633.4V1630.4M53.7,1633.4V1628.3M56.9,1633.4V1627.2M62.2,1633.4V1622.4M69.7,1633.4V1628.7M73.8,1633.4V1632.1M76.7,1633.4V1632.5M79.5,1633.4V1623.6M85.2,1633.4V1623.4M89.1,1633.4V1621.9M91.7,1633.4V1629.2M96.1,1633.4V1628.3M112.3,1633.4V1626.1M116.8,1633.4V1622.7M121.3,1633.4V1629.3M125.8,1633.4V1624.4M128.7,1633.4V1616.5M133.9,1633.4V1629.9M136.4,1633.4V1614.7M143.2,1633.4V1628.6M145.6,1633.4V1628.3M149.7,1633.4V1632.6M152.8,1633.4V1616.3M156.0,1633.4V1631.7M160.3,1633.4V1620.0M164.6,1633.4V1624.4M167.7,1633.4V1624.3M171.9,1633.4V1625.9M174.5,1633.4V1632.2M177.5,1633.4V1621.6M181.0,1633.4V1628.2M188.8,1633.4V1631.8M192.2,1633.4V1619.1M194.9,1633.4V1613.9M197.1,1633.4V1627.9M204.0,1633.4V1629.8M207.1,1633.4V1623.5M209.1,1633.4V1631.3M224.4,1633.4V1630.6M226.6,1633.4V1624.1M229.8,1633.4V1624.4M233.2,1633.4V1628.0M236.6,1633.4V1632.2M245.2,1633.4V1617.9M248.5,1633.4V1621.4M252.3,1633.4V1626.8M255.0,1633.4V1632.0M257.9,1633.4V1632.2M262.4,1633.4V1631.7M265.4,1633.4V1630.7M269.6,1633.4V1629.7M273.0,1633.4V1632.6M278.3,1633.4V1632.5M282.5,1633.4V1629.2M284.8,1633.4V1629.9M287.1,1633.4V1627.8M290.2,1633.4V1618.2M292.9,1633.4V1618.5M295.6,1633.4V1612.3M303.3,1633.4V1632.4M314.3,1633.4V1631.0M318.1,1633.4V1632.2M320.3,1633.4V1615.6M328.6,1633.4V1615.8M338.5,1633.4V1631.5M342.4,1633.4V1630.3M346.4,1633.4V1625.9M349.9,1633.4V1630.0M355.0,1633.4V1625.1M357.6,1633.4V1631.8M360.4,1633.4V1632.1M363.8,1633.4V1630.6M370.6,1633.4V1631.4M379.3,1633.4V1629.6M386.9,1633.4V1631.2M394.0,1633.4V1631.6M398.0,1633.4V1632.5M405.8,1633.4V1630.9M418.2,1633.4V1630.9M421.7,1633.4V1629.7M425.1,1633.4V1632.1M428.2,1633.4V1632.2M432.6,1633.4V1629.6M438.5,1633.4V1630.8M446.6,1633.4V1629.6M450.6,1633.4V1631.6M456.8,1633.4V1632.2M458.9,1633.4V1632.3M462.3,1633.4V1632.5M475.1,1633.4V1632.1M491.9,1633.4V1632.0M494.6,1633.4V1631.1M496.7,1633.4V1632.0M500.2,1633.4V1631.5M502.6,1633.4V1632.4M507.0,1633.4V1632.5M509.3,1633.4V1631.3M520.2,1633.4V1632.0M524.1,1633.4V1631.1M535.0,1633.4V1632.5M543.2,1633.4V1632.2M545.4,1633.4V1631.8M550.0,1633.4V1632.5M552.4,1633.4V1631.0M554.4,1633.4V1631.9M561.8,1633.4V1631.9M584.5,1633.4V1632.4M588.1,1633.4V1631.8M590.6,1633.4V1631.9M616.6,1633.4V1631.9M624.4,1633.4V1631.8M628.2,1633.4V1631.2M643.0,1633.4V1632.1M648.3,1633.4V1631.5" fill="none" stroke="#b020b4" stroke-width="1.6"/>
<line x1="2" y1="1633.4" x2="2" y2="1603" stroke="#b020b4" stroke-width="1.5"/>
<line x1="7.5" y1="1633.4" x2="7.5" y2="1625.6" stroke="#b020b4" stroke-width="1.5"/>
<line x1="15" y1="1633.4" x2="15" y2="1619.3" stroke="#b020b4" stroke-width="2"/>
<line x1="21.3" y1="1633.4" x2="21.3" y2="1625.6" stroke="#b020b4" stroke-width="1.5"/>
<line x1="23.8" y1="1633.4" x2="23.8" y2="1625.6" stroke="#b020b4" stroke-width="1.5"/>
<line x1="26.3" y1="1633.4" x2="26.3" y2="1626.8" stroke="#b020b4" stroke-width="1.5"/>
<line x1="28.8" y1="1633.4" x2="28.8" y2="1624.3" stroke="#b020b4" stroke-width="1.5"/>
<line x1="37.6" y1="1633.4" x2="37.6" y2="1571.6" stroke="#b020b4" stroke-width="2"/>
<line x1="40.1" y1="1633.4" x2="40.1" y2="1625.6" stroke="#b020b4" stroke-width="1.5"/>
<line x1="42.6" y1="1633.4" x2="42.6" y2="1624.3" stroke="#b020b4" stroke-width="1.5"/>
<line x1="46.4" y1="1633.4" x2="46.4" y2="1628" stroke="#b020b4" stroke-width="1.3"/>
<line x1="49.6" y1="1633.4" x2="49.6" y2="1559.9" stroke="#b020b4" stroke-width="2.5"/>
<line x1="51.4" y1="1633.4" x2="51.4" y2="1625.6" stroke="#b020b4" stroke-width="1.5"/>
<line x1="54.7" y1="1633.4" x2="54.7" y2="1551.1" stroke="#b020b4" stroke-width="2"/>
<line x1="56.4" y1="1633.4" x2="56.4" y2="1615.5" stroke="#b020b4" stroke-width="1.5"/>
<line x1="63.2" y1="1633.4" x2="63.2" y2="1609.3" stroke="#b020b4" stroke-width="2"/>
<line x1="65.7" y1="1633.4" x2="65.7" y2="1620.5" stroke="#b020b4" stroke-width="1.5"/>
<line x1="69" y1="1633.4" x2="69" y2="1613" stroke="#b020b4" stroke-width="1.5"/>
<line x1="72.7" y1="1633.4" x2="72.7" y2="1616.8" stroke="#b020b4" stroke-width="2"/>
<line x1="75.2" y1="1633.4" x2="75.2" y2="1613" stroke="#b020b4" stroke-width="1.5"/>
<line x1="78.2" y1="1633.4" x2="78.2" y2="1603" stroke="#b020b4" stroke-width="1.5"/>
<line x1="82.7" y1="1633.4" x2="82.7" y2="1588" stroke="#b020b4" stroke-width="2"/>
<line x1="85.3" y1="1633.4" x2="85.3" y2="1479.6" stroke="#b020b4" stroke-width="2"/>
<line x1="96.5" y1="1633.4" x2="96.5" y2="1628" stroke="#b020b4" stroke-width="1.3"/>
<line x1="104.1" y1="1633.4" x2="104.1" y2="1562.9" stroke="#b020b4" stroke-width="1.5"/>
<line x1="110.3" y1="1633.4" x2="110.3" y2="1620.5" stroke="#b020b4" stroke-width="1.5"/>
<line x1="112.8" y1="1633.4" x2="112.8" y2="1490.9" stroke="#b020b4" stroke-width="2.2"/>
<line x1="115.3" y1="1633.4" x2="115.3" y2="1600.5" stroke="#b020b4" stroke-width="1.5"/>
<line x1="117.9" y1="1633.4" x2="117.9" y2="1301" stroke="#b020b4" stroke-width="3"/>
<line x1="120.4" y1="1633.4" x2="120.4" y2="1595.5" stroke="#b020b4" stroke-width="1.5"/>
<line x1="127.9" y1="1633.4" x2="127.9" y2="1551.6" stroke="#b020b4" stroke-width="2.5"/>
<line x1="130.4" y1="1633.4" x2="130.4" y2="1615.5" stroke="#b020b4" stroke-width="1.5"/>
<line x1="132.9" y1="1633.4" x2="132.9" y2="1613" stroke="#b020b4" stroke-width="1.5"/>
<line x1="137.9" y1="1633.4" x2="137.9" y2="1610.5" stroke="#b020b4" stroke-width="2"/>
<line x1="143.4" y1="1633.4" x2="143.4" y2="1616.8" stroke="#b020b4" stroke-width="1.5"/>
<line x1="152.3" y1="1633.4" x2="152.3" y2="1380" stroke="#b020b4" stroke-width="2.2"/>
<line x1="160.8" y1="1633.4" x2="160.8" y2="1600.5" stroke="#b020b4" stroke-width="2"/>
<line x1="165" y1="1633.4" x2="165" y2="1606" stroke="#b020b4" stroke-width="1.5"/>
<line x1="167.1" y1="1633.4" x2="167.1" y2="1613" stroke="#b020b4" stroke-width="1.5"/>
<line x1="175.1" y1="1633.4" x2="175.1" y2="1616.8" stroke="#b020b4" stroke-width="1.5"/>
<line x1="181.3" y1="1633.4" x2="181.3" y2="1623" stroke="#b020b4" stroke-width="1.5"/>
<line x1="195.1" y1="1633.4" x2="195.1" y2="1558.4" stroke="#b020b4" stroke-width="2.2"/>
<line x1="196.9" y1="1633.4" x2="196.9" y2="1625.6" stroke="#b020b4" stroke-width="1.3"/>
<line x1="203.4" y1="1633.4" x2="203.4" y2="1605.5" stroke="#b020b4" stroke-width="2.2"/>
<line x1="205.9" y1="1633.4" x2="205.9" y2="1613" stroke="#b020b4" stroke-width="1.5"/>
<line x1="208.9" y1="1633.4" x2="208.9" y2="1608" stroke="#b020b4" stroke-width="2.2"/>
<line x1="211.7" y1="1633.4" x2="211.7" y2="1625.6" stroke="#b020b4" stroke-width="1.3"/>
<line x1="215.2" y1="1633.4" x2="215.2" y2="1468.1" stroke="#b020b4" stroke-width="2.5"/>
<line x1="217.2" y1="1633.4" x2="217.2" y2="1588" stroke="#b020b4" stroke-width="1.5"/>
<line x1="224.2" y1="1633.4" x2="224.2" y2="1568.4" stroke="#b020b4" stroke-width="2.5"/>
<line x1="226.5" y1="1633.4" x2="226.5" y2="1620.5" stroke="#b020b4" stroke-width="1.5"/>
<line x1="232.7" y1="1633.4" x2="232.7" y2="1618" stroke="#b020b4" stroke-width="2.5"/>
<line x1="246" y1="1633.4" x2="246" y2="1623" stroke="#b020b4" stroke-width="1.5"/>
<line x1="252.3" y1="1633.4" x2="252.3" y2="1625.6" stroke="#b020b4" stroke-width="1.5"/>
<line x1="258.3" y1="1633.4" x2="258.3" y2="1626.8" stroke="#b020b4" stroke-width="1.3"/>
<line x1="275.4" y1="1633.4" x2="275.4" y2="1615.5" stroke="#b020b4" stroke-width="1.5"/>
<line x1="277.9" y1="1633.4" x2="277.9" y2="1595.5" stroke="#b020b4" stroke-width="2.8"/>
<line x1="279.9" y1="1633.4" x2="279.9" y2="1603" stroke="#b020b4" stroke-width="1.5"/>
<line x1="281.6" y1="1633.4" x2="281.6" y2="1615.5" stroke="#b020b4" stroke-width="1.5"/>
<line x1="285.4" y1="1633.4" x2="285.4" y2="1550.3" stroke="#b020b4" stroke-width="2.5"/>
<line x1="293.4" y1="1633.4" x2="293.4" y2="1503.4" stroke="#b020b4" stroke-width="3"/>
<line x1="295.4" y1="1633.4" x2="295.4" y2="1610.5" stroke="#b020b4" stroke-width="1.5"/>
<line x1="303.8" y1="1633.4" x2="303.8" y2="1608" stroke="#b020b4" stroke-width="2"/>
<line x1="307.5" y1="1633.4" x2="307.5" y2="1610.5" stroke="#b020b4" stroke-width="3"/>
<line x1="309.5" y1="1633.4" x2="309.5" y2="1453.8" stroke="#b020b4" stroke-width="2.5"/>
<line x1="312.5" y1="1633.4" x2="312.5" y2="1534" stroke="#b020b4" stroke-width="2"/>
<line x1="314.6" y1="1633.4" x2="314.6" y2="1240" stroke="#b020b4" stroke-width="3.2"/>
<line x1="323.8" y1="1633.4" x2="323.8" y2="1617.5" stroke="#b020b4" stroke-width="2.5"/>
<line x1="332.1" y1="1633.4" x2="332.1" y2="1534.8" stroke="#b020b4" stroke-width="2.5"/>
<line x1="339.4" y1="1633.4" x2="339.4" y2="1604.2" stroke="#b020b4" stroke-width="2.5"/>
<line x1="341.3" y1="1633.4" x2="341.3" y2="1415" stroke="#b020b4" stroke-width="2.5"/>
<line x1="347.6" y1="1633.4" x2="347.6" y2="1589.2" stroke="#b020b4" stroke-width="2.5"/>
<line x1="349.4" y1="1633.4" x2="349.4" y2="1615.5" stroke="#b020b4" stroke-width="1.5"/>
<line x1="367.7" y1="1633.4" x2="367.7" y2="1630" stroke="#b020b4" stroke-width="1.5"/>
<line x1="376.5" y1="1633.4" x2="376.5" y2="1628" stroke="#b020b4" stroke-width="1.5"/>
<line x1="387" y1="1633.4" x2="387" y2="1626.8" stroke="#b020b4" stroke-width="1.8"/>
<line x1="395.8" y1="1633.4" x2="395.8" y2="1556.1" stroke="#b020b4" stroke-width="3"/>
<line x1="401.1" y1="1633.4" x2="401.1" y2="1625.6" stroke="#b020b4" stroke-width="1.5"/>
<line x1="404.1" y1="1633.4" x2="404.1" y2="1603" stroke="#b020b4" stroke-width="2.5"/>
<line x1="410.3" y1="1633.4" x2="410.3" y2="1613.5" stroke="#b020b4" stroke-width="2.5"/>
<line x1="444.9" y1="1633.4" x2="444.9" y2="1624.3" stroke="#b020b4" stroke-width="2.5"/>
<line x1="453.5" y1="1633.4" x2="453.5" y2="1614.3" stroke="#b020b4" stroke-width="2"/>
<line x1="458" y1="1633.4" x2="458" y2="1616.8" stroke="#b020b4" stroke-width="2"/>
<line x1="502" y1="1633.4" x2="502" y2="1616.1" stroke="#b020b4" stroke-width="2"/>
<line x1="508.7" y1="1633.4" x2="508.7" y2="1629.5" stroke="#b020b4" stroke-width="1.5"/>
<line x1="512" y1="1633.4" x2="512" y2="1630" stroke="#b020b4" stroke-width="1.5"/>
<text x="50.2" y="1645.8" font-size="11.5" text-anchor="middle" font-weight="normal" font-style="normal" fill="#111" stroke="#111" stroke-width="0.25">200</text>
<text x="147.9" y="1645.8" font-size="11.5" text-anchor="middle" font-weight="normal" font-style="normal" fill="#111" stroke="#111" stroke-width="0.25">400</text>
<text x="248.3" y="1645.8" font-size="11.5" text-anchor="middle" font-weight="normal" font-style="normal" fill="#111" stroke="#111" stroke-width="0.25">600</text>
<text x="342.6" y="1645.8" font-size="11.5" text-anchor="middle" font-weight="normal" font-style="normal" fill="#111" stroke="#111" stroke-width="0.25">800</text>
<text x="442.9" y="1645.8" font-size="11.5" text-anchor="middle" font-weight="normal" font-style="normal" fill="#111" stroke="#111" stroke-width="0.25">1000</text>
<text x="540.6" y="1645.8" font-size="11.5" text-anchor="middle" font-weight="normal" font-style="normal" fill="#111" stroke="#111" stroke-width="0.25">1200</text>
<text x="637.9" y="1644.6" font-size="11" text-anchor="start" font-weight="normal" font-style="italic" fill="#111" stroke="#111" stroke-width="0.25">m/z</text>
<polyline points="25.1,1476.4 37.6,1487.6 37.6,1570.4" fill="none" stroke="#111" stroke-width="1.15"/>
<polyline points="31.3,1447.5 46.4,1477.6 46.4,1628" fill="none" stroke="#111" stroke-width="1.25"/>
<polyline points="55.7,1477.6 49.6,1498.9 49.6,1556.6" fill="none" stroke="#111" stroke-width="1.15"/>
<polyline points="20.1,1520.2 29.6,1541.6 29.6,1624.3" fill="none" stroke="#111" stroke-width="1.2"/>
<polyline points="18.1,1534 26.3,1554.1 26.3,1625.6" fill="none" stroke="#444" stroke-width="1.05"/>
<polyline points="17.6,1550.3 23.8,1564.1 23.8,1625.6" fill="none" stroke="#444" stroke-width="1.05"/>
<polyline points="8.8,1569.1 15,1584.2" fill="none" stroke="#111" stroke-width="1.15"/>
<line x1="15" y1="1584" x2="15" y2="1615.5" stroke="#111" stroke-width="1.8"/>
<line x1="2" y1="1597" x2="4" y2="1599.5" stroke="#111" stroke-width="1.15"/>
<line x1="63.2" y1="1588.4" x2="63.2" y2="1607.5" stroke="#111" stroke-width="1.8"/>
<line x1="72.7" y1="1564.1" x2="72.7" y2="1614.3" stroke="#111" stroke-width="1.15"/>
<line x1="112.8" y1="1440" x2="112.8" y2="1486.4" stroke="#111" stroke-width="1.8"/>
<line x1="119.9" y1="1440" x2="119.9" y2="1448" stroke="#111" stroke-width="1.8"/>
<line x1="122.1" y1="1467.6" x2="122.1" y2="1620.5" stroke="#444" stroke-width="1.15"/>
<polyline points="120.6,1616 122.1,1621.5 123.6,1616" fill="none" stroke="#111" stroke-width="1.25"/>
<line x1="124.9" y1="1492.7" x2="124.9" y2="1593" stroke="#111" stroke-width="1.8"/>
<line x1="127.9" y1="1512.7" x2="127.9" y2="1550.3" stroke="#444" stroke-width="1.15"/>
<polyline points="135.4,1571.6 135.4,1608.5 137,1609.5" fill="none" stroke="#111" stroke-width="1.5"/>
<line x1="141.2" y1="1590.5" x2="141.2" y2="1626.8" stroke="#555" stroke-width="1.05"/>
<line x1="147.4" y1="1619.3" x2="147.4" y2="1628" stroke="#111" stroke-width="1.8"/>
<rect x="157.2" y="1544.4" width="7.4" height="7.4" fill="#fff" stroke="#b020b4" stroke-width="1.0"/>
<line x1="160.8" y1="1555.3" x2="160.8" y2="1598" stroke="#111" stroke-width="1.8"/>
<line x1="165" y1="1585.4" x2="165" y2="1613" stroke="#111" stroke-width="1.8"/>
<line x1="190.1" y1="1539" x2="195.1" y2="1555.8" stroke="#111" stroke-width="1.25"/>
<polyline points="194.6,1514 203.4,1521.5 203.4,1603" fill="none" stroke="#333" stroke-width="1.15"/>
<polyline points="196.4,1498.9 205.9,1506.4 205.9,1613" fill="none" stroke="#333" stroke-width="1.15"/>
<polyline points="197.6,1486.4 208.9,1498.2 208.9,1606.7" fill="none" stroke="#111" stroke-width="1.15"/>
<polyline points="201.4,1472.6 211.7,1485.1 211.7,1625.6" fill="none" stroke="#111" stroke-width="1.15"/>
<line x1="224.2" y1="1498.9" x2="224.2" y2="1564.1" stroke="#111" stroke-width="1.15"/>
<line x1="232.7" y1="1522.7" x2="232.7" y2="1613" stroke="#111" stroke-width="1.15"/>
<line x1="245.8" y1="1539" x2="245.8" y2="1620.5" stroke="#111" stroke-width="1.15"/>
<line x1="241.5" y1="1613" x2="245.3" y2="1623" stroke="#111" stroke-width="1.15"/>
<line x1="251.6" y1="1567.9" x2="251.6" y2="1624.3" stroke="#111" stroke-width="1.15"/>
<line x1="262.1" y1="1620.5" x2="258.3" y2="1626.8" stroke="#111" stroke-width="1.25"/>
<line x1="274.1" y1="1571.6" x2="277.9" y2="1593" stroke="#111" stroke-width="1.25"/>
<line x1="277.9" y1="1540.3" x2="285.4" y2="1549.1" stroke="#111" stroke-width="1.25"/>
<polyline points="280.9,1517.7 287.4,1522.7" fill="none" stroke="#111" stroke-width="1.25"/>
<line x1="287.4" y1="1522.5" x2="287.4" y2="1606.7" stroke="#111" stroke-width="1.8"/>
<polyline points="280.4,1500.2 289.2,1514" fill="none" stroke="#111" stroke-width="1.25"/>
<line x1="289.3" y1="1513.8" x2="289.3" y2="1610.5" stroke="#111" stroke-width="1.8"/>
<polyline points="265.8,1463.8 290.9,1503.9 290.9,1608" fill="none" stroke="#111" stroke-width="1.15"/>
<line x1="293.4" y1="1483.9" x2="293.4" y2="1502.2" stroke="#555" stroke-width="1.05"/>
<polyline points="294.2,1453.8 299.7,1461.3 299.7,1619.3" fill="none" stroke="#111" stroke-width="1.15"/>
<line x1="303.5" y1="1440" x2="307" y2="1452" stroke="#111" stroke-width="1.15"/>
<line x1="308.6" y1="1425.6" x2="308.6" y2="1453.8" stroke="#111" stroke-width="1.8"/>
<polyline points="325.1,1452.5 317,1471.3 317,1590.5" fill="none" stroke="#333" stroke-width="1.15"/>
<line x1="320.1" y1="1613" x2="320.1" y2="1628" stroke="#111" stroke-width="1.8"/>
<polyline points="329.3,1590.5 326.5,1600 325.3,1613" fill="none" stroke="#111" stroke-width="1.15"/>
<line x1="332.1" y1="1500.9" x2="332.1" y2="1532.8" stroke="#111" stroke-width="1.8"/>
<line x1="347.6" y1="1539.8" x2="347.6" y2="1579.2" stroke="#111" stroke-width="1.8"/>
<line x1="367.7" y1="1615.5" x2="367.7" y2="1629.3" stroke="#111" stroke-width="1.8"/>
<line x1="376.5" y1="1590" x2="376.5" y2="1626.8" stroke="#111" stroke-width="1.15"/>
<line x1="387" y1="1556.6" x2="387" y2="1624.3" stroke="#111" stroke-width="1.8"/>
<line x1="395.8" y1="1525.3" x2="395.8" y2="1554.1" stroke="#111" stroke-width="1.15"/>
<line x1="401.1" y1="1557.9" x2="401.1" y2="1624.3" stroke="#111" stroke-width="1.2"/>
<line x1="409.1" y1="1590" x2="404.8" y2="1601.7" stroke="#111" stroke-width="1.25"/>
<line x1="417.9" y1="1608.5" x2="410.3" y2="1612.5" stroke="#111" stroke-width="1.25"/>
<line x1="444.9" y1="1580.4" x2="444.9" y2="1622.5" stroke="#111" stroke-width="1.15"/>
<line x1="453.5" y1="1595.5" x2="453.5" y2="1611.8" stroke="#111" stroke-width="1.8"/>
<line x1="502" y1="1570.8" x2="502" y2="1613.8" stroke="#111" stroke-width="1.15"/>
<line x1="517.1" y1="1610.4" x2="509.4" y2="1627.2" stroke="#111" stroke-width="1.25"/>
<line x1="305.2" y1="1261.3" x2="325.3" y2="1243.8" stroke="#111" stroke-width="1.7"/>
<line x1="305.2" y1="1270.1" x2="325.3" y2="1252.6" stroke="#111" stroke-width="1.7"/>
<text x="4.5" y="1293.8" font-size="44" text-anchor="start" font-weight="normal" font-style="normal" fill="#111" stroke="#111" stroke-width="0.25">D</text>
<text x="15" y="1442.5" font-size="13.4" text-anchor="start" font-weight="normal" font-style="normal" fill="#111" stroke="#111" stroke-width="0.25">x3<tspan font-size="8" dy="-4">2+</tspan></text>
<text x="57.2" y="1457" font-size="13.4" text-anchor="start" font-weight="normal" font-style="normal" fill="#111" stroke="#111" stroke-width="0.25">x1</text>
<text x="8.8" y="1473.9" font-size="13.4" text-anchor="start" font-weight="normal" font-style="normal" fill="#111" stroke="#111" stroke-width="0.25">y1</text>
<text x="56.4" y="1473.9" font-size="13.4" text-anchor="start" font-weight="normal" font-style="normal" fill="#111" stroke="#111" stroke-width="0.25">a2</text>
<text x="79" y="1475.1" font-size="13.4" text-anchor="start" font-weight="normal" font-style="normal" fill="#111" stroke="#111" stroke-width="0.25">y2</text>
<text x="10.5" y="1517.2" font-size="13.4" text-anchor="start" font-weight="normal" font-style="normal" fill="#111" stroke="#111" stroke-width="0.25">z1</text>
<text x="0.8" y="1531.5" font-size="13.4" text-anchor="start" font-weight="normal" font-style="normal" fill="#111" stroke="#111" stroke-width="0.25">y1'</text>
<text x="3.8" y="1548.3" font-size="13.4" text-anchor="start" font-weight="normal" font-style="normal" fill="#111" stroke="#111" stroke-width="0.25">c1</text>
<text x="0" y="1566.6" font-size="13.4" text-anchor="start" font-weight="normal" font-style="normal" fill="#111" stroke="#111" stroke-width="0.25">b1</text>
<text x="10.5" y="1595.5" font-size="13.4" text-anchor="start" font-weight="normal" font-style="normal" fill="#111" stroke="#111" stroke-width="0.25" transform="rotate(-90 10.5 1595.5)">a1</text>
<text x="52.2" y="1546.6" font-size="13.4" text-anchor="start" font-weight="normal" font-style="normal" fill="#111" stroke="#111" stroke-width="0.25">b2'</text>
<text x="64.7" y="1561.6" font-size="13.4" text-anchor="start" font-weight="normal" font-style="normal" fill="#111" stroke="#111" stroke-width="0.25">c2</text>
<text x="55.7" y="1582.4" font-size="13.4" text-anchor="start" font-weight="normal" font-style="normal" fill="#111" stroke="#111" stroke-width="0.25">b2</text>
<text x="122.4" y="1462.6" font-size="13.4" text-anchor="start" font-weight="normal" font-style="normal" fill="#111" stroke="#111" stroke-width="0.25">z3</text>
<text x="124.6" y="1490.2" font-size="13.4" text-anchor="start" font-weight="normal" font-style="normal" fill="#111" stroke="#111" stroke-width="0.25">b3</text>
<text x="127.9" y="1507.7" font-size="13.4" text-anchor="start" font-weight="normal" font-style="normal" fill="#111" stroke="#111" stroke-width="0.25">y3</text>
<text x="139.2" y="1569.1" font-size="13.4" text-anchor="start" font-weight="normal" font-style="normal" fill="#111" stroke="#111" stroke-width="0.25" transform="rotate(-90 139.2 1569.1)">b4'-CO</text>
<text x="147.9" y="1588" font-size="13.4" text-anchor="start" font-weight="normal" font-style="normal" fill="#111" stroke="#111" stroke-width="0.25" transform="rotate(-90 147.9 1588)">x3</text>
<text x="150.5" y="1614.3" font-size="8.5" text-anchor="start" font-weight="normal" font-style="normal" fill="#111" stroke="#111" stroke-width="0.25" transform="rotate(-90 150.5 1614.3)">a4</text>
<text x="95.2" y="1433.8" font-size="13.4" text-anchor="start" font-weight="normal" font-style="normal" fill="#111" stroke="#111" stroke-width="0.25">a3</text>
<text x="119.3" y="1438" font-size="13.4" text-anchor="start" font-weight="normal" font-style="normal" fill="#111" stroke="#111" stroke-width="0.25">y3'</text>
<text x="109.5" y="1297" font-size="13.4" text-anchor="start" font-weight="normal" font-style="normal" fill="#111" stroke="#111" stroke-width="0.25">b3'</text>
<text x="143.5" y="1356" font-size="13.4" text-anchor="start" font-weight="normal" font-style="normal" fill="#111" stroke="#111" stroke-width="0.25">b4'</text>
<text x="143.5" y="1373.5" font-size="13.4" text-anchor="start" font-weight="normal" font-style="normal" fill="#111" stroke="#111" stroke-width="0.25">y4''</text>
<text x="183.9" y="1471.3" font-size="13.4" text-anchor="start" font-weight="normal" font-style="normal" fill="#111" stroke="#111" stroke-width="0.25">a5</text>
<text x="206.4" y="1462.6" font-size="13.4" text-anchor="start" font-weight="normal" font-style="normal" fill="#111" stroke="#111" stroke-width="0.25">b5'</text>
<text x="173.1" y="1485.1" font-size="13.4" text-anchor="start" font-weight="normal" font-style="normal" fill="#111" stroke="#111" stroke-width="0.25">py4</text>
<text x="173.3" y="1499.7" font-size="13.4" text-anchor="start" font-weight="normal" font-style="normal" fill="#111" stroke="#111" stroke-width="0.25">b5''</text>
<text x="175.1" y="1514" font-size="13.4" text-anchor="start" font-weight="normal" font-style="normal" fill="#111" stroke="#111" stroke-width="0.25">y5'</text>
<text x="178.3" y="1536.5" font-size="13.4" text-anchor="start" font-weight="normal" font-style="normal" fill="#111" stroke="#111" stroke-width="0.25">y5''</text>
<text x="218.2" y="1496.4" font-size="13.4" text-anchor="start" font-weight="normal" font-style="normal" fill="#111" stroke="#111" stroke-width="0.25">b5</text>
<text x="227.2" y="1519" font-size="13.4" text-anchor="start" font-weight="normal" font-style="normal" fill="#111" stroke="#111" stroke-width="0.25">c5</text>
<text x="239" y="1534.8" font-size="13.4" text-anchor="start" font-weight="normal" font-style="normal" fill="#111" stroke="#111" stroke-width="0.25">y6'</text>
<text x="256.6" y="1519" font-size="13.4" text-anchor="start" font-weight="normal" font-style="normal" fill="#111" stroke="#111" stroke-width="0.25">pz6</text>
<text x="262.1" y="1499.7" font-size="13.4" text-anchor="start" font-weight="normal" font-style="normal" fill="#111" stroke="#111" stroke-width="0.25">b6</text>
<text x="261.6" y="1537.8" font-size="13.4" text-anchor="start" font-weight="normal" font-style="normal" fill="#111" stroke="#111" stroke-width="0.25">y7''</text>
<text x="262.8" y="1569.1" font-size="13.4" text-anchor="start" font-weight="normal" font-style="normal" fill="#111" stroke="#111" stroke-width="0.25">b6'</text>
<text x="163.8" y="1580.4" font-size="13.4" text-anchor="start" font-weight="normal" font-style="normal" fill="#111" stroke="#111" stroke-width="0.25">z4.</text>
<text x="244.5" y="1609.3" font-size="13.4" text-anchor="start" font-weight="normal" font-style="normal" fill="#111" stroke="#111" stroke-width="0.25" transform="rotate(-90 244.5 1609.3)">a12<tspan font-size="8" dy="-4">2−</tspan></text>
<text x="257.8" y="1565.4" font-size="13.4" text-anchor="start" font-weight="normal" font-style="normal" fill="#111" stroke="#111" stroke-width="0.25" transform="rotate(-90 257.8 1565.4)">py5</text>
<text x="265.8" y="1619.3" font-size="13.4" text-anchor="start" font-weight="normal" font-style="normal" fill="#111" stroke="#111" stroke-width="0.25" transform="rotate(-90 265.8 1619.3)">py11<tspan font-size="8" dy="-4">2+</tspan></text>
<text x="274.6" y="1447.6" font-size="13.4" text-anchor="start" font-weight="normal" font-style="normal" fill="#111" stroke="#111" stroke-width="0.25">py6</text>
<text x="283.4" y="1434.3" font-size="13.4" text-anchor="start" font-weight="normal" font-style="normal" fill="#111" stroke="#111" stroke-width="0.25">px6</text>
<text x="294.2" y="1480.1" font-size="13.4" text-anchor="start" font-weight="normal" font-style="normal" fill="#111" stroke="#111" stroke-width="0.25" transform="rotate(-90 294.2 1480.1)">y7'</text>
<text x="320.3" y="1276.4" font-size="13.4" text-anchor="start" font-weight="normal" font-style="normal" fill="#111" stroke="#111" stroke-width="0.25">x15</text>
<text x="330.3" y="1409.3" font-size="13.4" text-anchor="start" font-weight="normal" font-style="normal" fill="#111" stroke="#111" stroke-width="0.25">py7</text>
<text x="321.3" y="1450.5" font-size="13.4" text-anchor="start" font-weight="normal" font-style="normal" fill="#111" stroke="#111" stroke-width="0.25">x7</text>
<text x="128.2" y="1254.6" font-size="12.6" text-anchor="start" font-weight="normal" font-style="normal" fill="#111" stroke="#111" stroke-width="0.25" textLength="179" lengthAdjust="spacingAndGlyphs">[EVQAEQPSSpSSPR+2H]<tspan font-size="8.5" dy="-5">2</tspan></text>
<text x="265" y="1461.3" font-size="12.3" text-anchor="start" font-weight="normal" font-style="normal" fill="#111" stroke="#111" stroke-width="0.25" transform="rotate(-90 265 1461.3)" textLength="194" lengthAdjust="spacingAndGlyphs">[EVQAEQPSSpSSPR+2H-H<tspan font-size="10" dy="1.8">3</tspan><tspan dy="-1.8">PO</tspan><tspan font-size="10" dy="1.8">4</tspan><tspan dy="-1.8">]</tspan><tspan font-size="8" dy="-7">2+'</tspan></text>
<text x="309.2" y="1423" font-size="12.3" text-anchor="start" font-weight="normal" font-style="normal" fill="#111" stroke="#111" stroke-width="0.25" transform="rotate(-90 309.2 1423)" textLength="151" lengthAdjust="spacingAndGlyphs">[EVQAEQPSSpSSPR+2H]<tspan font-size="8" dy="-7">2+''</tspan></text>
<text x="329.6" y="1586.7" font-size="13.4" text-anchor="start" font-weight="normal" font-style="normal" fill="#111" stroke="#111" stroke-width="0.25" transform="rotate(-90 329.6 1586.7)">py7''</text>
<text x="337.6" y="1498.9" font-size="13.4" text-anchor="start" font-weight="normal" font-style="normal" fill="#111" stroke="#111" stroke-width="0.25" transform="rotate(-90 337.6 1498.9)">py7'</text>
<text x="325.1" y="1611.8" font-size="13.4" text-anchor="start" font-weight="normal" font-style="normal" fill="#111" stroke="#111" stroke-width="0.25" transform="rotate(-90 325.1 1611.8)">a7</text>
<text x="344.6" y="1531.5" font-size="13.4" text-anchor="start" font-weight="normal" font-style="normal" fill="#111" stroke="#111" stroke-width="0.25">y8''</text>
<text x="385.3" y="1520.7" font-size="13.4" text-anchor="start" font-weight="normal" font-style="normal" fill="#111" stroke="#111" stroke-width="0.25">pz8</text>
<text x="366.4" y="1552.8" font-size="13.4" text-anchor="start" font-weight="normal" font-style="normal" fill="#111" stroke="#111" stroke-width="0.25">pz8'</text>
<text x="399" y="1551.6" font-size="13.4" text-anchor="start" font-weight="normal" font-style="normal" fill="#111" stroke="#111" stroke-width="0.25">y9'''</text>
<text x="368.2" y="1587.2" font-size="13.4" text-anchor="start" font-weight="normal" font-style="normal" fill="#111" stroke="#111" stroke-width="0.25">b8</text>
<text x="354.5" y="1612.5" font-size="13.4" text-anchor="start" font-weight="normal" font-style="normal" fill="#111" stroke="#111" stroke-width="0.25">b8'</text>
<text x="403.3" y="1586.7" font-size="13.4" text-anchor="start" font-weight="normal" font-style="normal" fill="#111" stroke="#111" stroke-width="0.25">py8</text>
<text x="417.9" y="1604.2" font-size="13.4" text-anchor="start" font-weight="normal" font-style="normal" fill="#111" stroke="#111" stroke-width="0.25">y9''</text>
<text x="432.9" y="1574.9" font-size="13.4" text-anchor="start" font-weight="normal" font-style="normal" fill="#111" stroke="#111" stroke-width="0.25">y10''</text>
<text x="450" y="1593" font-size="13.4" text-anchor="start" font-weight="normal" font-style="normal" fill="#111" stroke="#111" stroke-width="0.25">y10'</text>
<text x="488.6" y="1562.5" font-size="13.4" text-anchor="start" font-weight="normal" font-style="normal" fill="#111" stroke="#111" stroke-width="0.25">py10</text>
<text x="507.1" y="1603.7" font-size="13.4" text-anchor="start" font-weight="normal" font-style="normal" fill="#111" stroke="#111" stroke-width="0.25">pc10</text>
<text transform="translate(374.9,1268.7) scale(1.08,1)" font-size="21" fill="#111" stroke="#111" stroke-width="0.3">E</text>
<text transform="translate(392.3,1268.7) scale(1.08,1)" font-size="21" fill="#111" stroke="#111" stroke-width="0.3">V</text>
<text transform="translate(414.0,1268.7) scale(1.08,1)" font-size="21" fill="#111" stroke="#111" stroke-width="0.3">Q</text>
<text transform="translate(435.8,1268.7) scale(1.08,1)" font-size="21" fill="#111" stroke="#111" stroke-width="0.3">A</text>
<text transform="translate(457.5,1268.7) scale(1.08,1)" font-size="21" fill="#111" stroke="#111" stroke-width="0.3">E</text>
<text transform="translate(475.7,1268.7) scale(1.08,1)" font-size="21" fill="#111" stroke="#111" stroke-width="0.3">Q</text>
<text transform="translate(498.6,1268.7) scale(1.08,1)" font-size="21" fill="#111" stroke="#111" stroke-width="0.3">P</text>
<text transform="translate(516.5,1268.7) scale(1.08,1)" font-size="21" fill="#111" stroke="#111" stroke-width="0.3">S</text>
<text transform="translate(536.4,1268.7) scale(1.08,1)" font-size="21" fill="#111" stroke="#111" stroke-width="0.3">S</text>
<text transform="translate(556.2,1268.7) scale(1.08,1)" font-size="21" fill="#111" stroke="#111" stroke-width="0.3">p</text>
<text transform="translate(570.2,1268.7) scale(1.08,1)" font-size="21" fill="#111" stroke="#111" stroke-width="0.3">S</text>
<text transform="translate(591.5,1268.7) scale(1.08,1)" font-size="21" fill="#111" stroke="#111" stroke-width="0.3">S</text>
<text transform="translate(611.8,1268.7) scale(1.08,1)" font-size="21" fill="#111" stroke="#111" stroke-width="0.3">P</text>
<text transform="translate(629.4,1268.7) scale(1.08,1)" font-size="21" fill="#111" stroke="#111" stroke-width="0.3">R</text>
<line x1="391.3" y1="1247.5" x2="391.3" y2="1281.3999999999999" stroke="#111" stroke-width="1.25"/>
<line x1="391.90000000000003" y1="1274.7" x2="386.1" y2="1274.7" stroke="#111" stroke-width="1.35"/>
<line x1="391.90000000000003" y1="1277.9" x2="386.1" y2="1277.9" stroke="#111" stroke-width="1.35"/>
<line x1="391.90000000000003" y1="1280.8" x2="386.1" y2="1280.8" stroke="#111" stroke-width="1.35"/>
<line x1="411.6" y1="1244.4" x2="411.6" y2="1281.3999999999999" stroke="#111" stroke-width="1.25"/>
<line x1="411.0" y1="1245" x2="416.40000000000003" y2="1245" stroke="#111" stroke-width="1.35"/>
<line x1="412.20000000000005" y1="1274.7" x2="406.40000000000003" y2="1274.7" stroke="#111" stroke-width="1.35"/>
<line x1="412.20000000000005" y1="1277.9" x2="406.40000000000003" y2="1277.9" stroke="#111" stroke-width="1.35"/>
<line x1="412.20000000000005" y1="1280.8" x2="406.40000000000003" y2="1280.8" stroke="#111" stroke-width="1.35"/>
<line x1="435.3" y1="1244.4" x2="435.3" y2="1278.5" stroke="#111" stroke-width="1.25"/>
<line x1="434.7" y1="1245" x2="440.1" y2="1245" stroke="#111" stroke-width="1.35"/>
<line x1="435.90000000000003" y1="1274.7" x2="430.1" y2="1274.7" stroke="#111" stroke-width="1.35"/>
<line x1="435.90000000000003" y1="1277.9" x2="430.1" y2="1277.9" stroke="#111" stroke-width="1.35"/>
<line x1="455.8" y1="1247.5" x2="455.8" y2="1278.5" stroke="#111" stroke-width="1.25"/>
<line x1="456.40000000000003" y1="1274.7" x2="450.6" y2="1274.7" stroke="#111" stroke-width="1.35"/>
<line x1="456.40000000000003" y1="1277.9" x2="450.6" y2="1277.9" stroke="#111" stroke-width="1.35"/>
<line x1="473.9" y1="1244.4" x2="473.9" y2="1281.3999999999999" stroke="#111" stroke-width="1.25"/>
<line x1="473.29999999999995" y1="1245" x2="478.7" y2="1245" stroke="#111" stroke-width="1.35"/>
<line x1="473.29999999999995" y1="1248.1" x2="478.09999999999997" y2="1248.1" stroke="#111" stroke-width="1.35"/>
<line x1="474.5" y1="1274.7" x2="468.7" y2="1274.7" stroke="#111" stroke-width="1.35"/>
<line x1="474.5" y1="1277.9" x2="468.7" y2="1277.9" stroke="#111" stroke-width="1.35"/>
<line x1="474.5" y1="1280.8" x2="468.7" y2="1280.8" stroke="#111" stroke-width="1.35"/>
<line x1="497.6" y1="1244.4" x2="497.6" y2="1278.5" stroke="#111" stroke-width="1.25"/>
<line x1="497.0" y1="1245" x2="502.40000000000003" y2="1245" stroke="#111" stroke-width="1.35"/>
<line x1="498.20000000000005" y1="1274.7" x2="492.40000000000003" y2="1274.7" stroke="#111" stroke-width="1.35"/>
<line x1="498.20000000000005" y1="1277.9" x2="492.40000000000003" y2="1277.9" stroke="#111" stroke-width="1.35"/>
<line x1="515.6" y1="1241.5" x2="515.6" y2="1275.3" stroke="#111" stroke-width="1.25"/>
<line x1="515.0" y1="1242.1" x2="520.0" y2="1242.1" stroke="#111" stroke-width="1.35"/>
<line x1="515.0" y1="1245" x2="520.0" y2="1245" stroke="#111" stroke-width="1.35"/>
<line x1="515.0" y1="1248.1" x2="520.0" y2="1248.1" stroke="#111" stroke-width="1.35"/>
<line x1="516.2" y1="1274.7" x2="510.40000000000003" y2="1274.7" stroke="#111" stroke-width="1.35"/>
<line x1="533.9" y1="1244.4" x2="533.9" y2="1277.6999999999998" stroke="#111" stroke-width="1.25"/>
<line x1="533.3" y1="1245" x2="538.6999999999999" y2="1245" stroke="#111" stroke-width="1.35"/>
<line x1="534.5" y1="1277.1" x2="528.6999999999999" y2="1277.1" stroke="#111" stroke-width="1.35"/>
<line x1="554" y1="1244.4" x2="554" y2="1275.3" stroke="#111" stroke-width="1.25"/>
<line x1="553.4" y1="1245" x2="558.8" y2="1245" stroke="#111" stroke-width="1.35"/>
<line x1="588.5" y1="1241.5" x2="588.5" y2="1277.6999999999998" stroke="#111" stroke-width="1.25"/>
<line x1="587.9" y1="1242.1" x2="592.9" y2="1242.1" stroke="#111" stroke-width="1.35"/>
<line x1="587.9" y1="1245" x2="592.9" y2="1245" stroke="#111" stroke-width="1.35"/>
<line x1="587.9" y1="1248.1" x2="592.9" y2="1248.1" stroke="#111" stroke-width="1.35"/>
<line x1="589.1" y1="1277.1" x2="583.3" y2="1277.1" stroke="#111" stroke-width="1.35"/>
<line x1="609.6" y1="1244.4" x2="609.6" y2="1275.3" stroke="#111" stroke-width="1.25"/>
<line x1="609.0" y1="1245" x2="614.4" y2="1245" stroke="#111" stroke-width="1.35"/>
<line x1="627.7" y1="1241.5" x2="627.7" y2="1270.6" stroke="#111" stroke-width="1.7"/>
<line x1="627.1" y1="1242.1" x2="632.1" y2="1242.1" stroke="#111" stroke-width="1.35"/>
<line x1="627.1" y1="1245" x2="632.1" y2="1245" stroke="#111" stroke-width="1.35"/>
<line x1="627.1" y1="1248.1" x2="632.1" y2="1248.1" stroke="#111" stroke-width="1.35"/>
<text x="449.4" y="1296.5" font-size="12.5" text-anchor="start" font-weight="normal" font-style="normal" fill="#111" stroke="#111" stroke-width="0.4" textLength="128.5" lengthAdjust="spacingAndGlyphs">UVPD 5 shots 5mJ</text>
<rect x="385.2" y="1303.8" width="261.3" height="120.5" fill="#fff" stroke="#adadad" stroke-width="1.2"/>
<rect x="385.3" y="1422.1" width="18.3" height="2.2" fill="#000" stroke="#000" stroke-width="0.8"/>
<rect x="407.4" y="1402.3" width="18.3" height="22" fill="#999" stroke="#1a1a1a" stroke-width="1.0"/>
<rect x="407.4" y="1404.0" width="18.3" height="20.3" fill="#000" stroke="#000" stroke-width="0.8"/>
<rect x="429.4" y="1322.4" width="18.3" height="101.9" fill="#999" stroke="#1a1a1a" stroke-width="1.0"/>
<rect x="429.4" y="1332.5" width="18.3" height="91.8" fill="#000" stroke="#000" stroke-width="0.8"/>
<rect x="451.5" y="1369.2" width="18.3" height="55.1" fill="#999" stroke="#1a1a1a" stroke-width="1.0"/>
<rect x="451.5" y="1374.5" width="18.3" height="49.8" fill="#000" stroke="#000" stroke-width="0.8"/>
<rect x="473.5" y="1343.6" width="18.3" height="80.7" fill="#999" stroke="#1a1a1a" stroke-width="1.0"/>
<rect x="473.5" y="1381.1" width="18.3" height="43.2" fill="#000" stroke="#000" stroke-width="0.8"/>
<rect x="495.6" y="1311.8" width="18.3" height="112.5" fill="#999" stroke="#1a1a1a" stroke-width="1.0"/>
<rect x="495.6" y="1413.3" width="18.3" height="11" fill="#000" stroke="#000" stroke-width="0.8"/>
<rect x="517.7" y="1418.1" width="18.3" height="6.2" fill="#999" stroke="#1a1a1a" stroke-width="1.0"/>
<rect x="539.7" y="1407.1" width="18.3" height="17.2" fill="#999" stroke="#1a1a1a" stroke-width="1.0"/>
<rect x="561.8" y="1411.1" width="18.3" height="13.2" fill="#999" stroke="#1a1a1a" stroke-width="1.0"/>
<rect x="583.8" y="1407.1" width="18.3" height="17.2" fill="#999" stroke="#1a1a1a" stroke-width="1.0"/>
<rect x="605.9" y="1400.9" width="18.3" height="23.4" fill="#999" stroke="#1a1a1a" stroke-width="1.0"/>
<rect x="628.0" y="1411.9" width="18.3" height="12.4" fill="#999" stroke="#1a1a1a" stroke-width="1.0"/>
<rect x="628.0" y="1422.5" width="18.3" height="1.8" fill="#000" stroke="#000" stroke-width="0.8"/>
<text x="394.4" y="1436.3999999999999" font-size="12.2" text-anchor="middle" font-weight="normal" font-style="normal" fill="#111" stroke="#111" stroke-width="0.25">EV</text>
<text x="416.5" y="1436.3999999999999" font-size="12.2" text-anchor="middle" font-weight="normal" font-style="normal" fill="#111" stroke="#111" stroke-width="0.25">VQ</text>
<text x="438.6" y="1436.3999999999999" font-size="12.2" text-anchor="middle" font-weight="normal" font-style="normal" fill="#111" stroke="#111" stroke-width="0.25">QA</text>
<text x="460.6" y="1436.3999999999999" font-size="12.2" text-anchor="middle" font-weight="normal" font-style="normal" fill="#111" stroke="#111" stroke-width="0.25">AE</text>
<text x="482.7" y="1436.3999999999999" font-size="12.2" text-anchor="middle" font-weight="normal" font-style="normal" fill="#111" stroke="#111" stroke-width="0.25">EQ</text>
<text x="504.8" y="1436.3999999999999" font-size="12.2" text-anchor="middle" font-weight="normal" font-style="normal" fill="#111" stroke="#111" stroke-width="0.25">QP</text>
<text x="526.8" y="1436.3999999999999" font-size="12.2" text-anchor="middle" font-weight="normal" font-style="normal" fill="#111" stroke="#111" stroke-width="0.25">PS</text>
<text x="548.9" y="1436.3999999999999" font-size="12.2" text-anchor="middle" font-weight="normal" font-style="normal" fill="#111" stroke="#111" stroke-width="0.25">SS</text>
<text x="570.9" y="1436.3999999999999" font-size="12.2" text-anchor="middle" font-weight="normal" font-style="normal" fill="#111" stroke="#111" stroke-width="0.25" textLength="20.3" lengthAdjust="spacingAndGlyphs">SpS</text>
<text x="593.0" y="1436.3999999999999" font-size="12.2" text-anchor="middle" font-weight="normal" font-style="normal" fill="#111" stroke="#111" stroke-width="0.25" textLength="20.3" lengthAdjust="spacingAndGlyphs">pSS</text>
<text x="615.0" y="1436.3999999999999" font-size="12.2" text-anchor="middle" font-weight="normal" font-style="normal" fill="#111" stroke="#111" stroke-width="0.25">SP</text>
<text x="637.1" y="1436.3999999999999" font-size="12.2" text-anchor="middle" font-weight="normal" font-style="normal" fill="#111" stroke="#111" stroke-width="0.25">PR</text>
<text x="649.5" y="1323" font-size="13" text-anchor="start" font-weight="normal" font-style="normal" fill="#111" stroke="#111" stroke-width="0.25" transform="rotate(90 649.5 1323)">20%</text>
<text x="649.5" y="1404" font-size="13" text-anchor="start" font-weight="normal" font-style="normal" fill="#111" stroke="#111" stroke-width="0.25" transform="rotate(90 649.5 1404)">0%</text>
<rect x="558" y="1443.4" width="99.3" height="184.5" fill="#fff" stroke="#b020b4" stroke-width="1.1"/>
<polyline points="562.4,1621.1 563.0,1621.6 563.6,1620.2 564.2,1618.2 564.8,1617.7 565.4,1619.1 566.0,1621.0 566.6,1621.4 567.2,1620.3 567.8,1619.3 568.4,1619.8 569.0,1621.4 569.6,1622.1 570.2,1620.7 570.8,1618.6 571.4,1617.6 572.0,1618.6 572.6,1620.2 573.2,1620.5 573.8,1619.3 574.4,1618.4 575.0,1619.1 575.6,1621.0 576.2,1622.0 576.8,1620.9 577.4,1618.7 578.0,1617.6 578.6,1618.3 579.2,1619.5 579.8,1619.4 580.4,1617.9 581.0,1616.6 581.6,1617.1 582.2,1619.0 582.8,1620.1 583.4,1619.2 584.0,1617.0 584.6,1615.5 585.2,1615.6 585.8,1615.9 586.4,1614.6 587.0,1611.3 587.6,1607.7 588.2,1605.0 588.8,1602.5 589.4,1597.1 590.0,1586.5 590.6,1571.0 591.2,1557.0 591.8,1555.4 592.4,1567.8 593.0,1582.2 593.6,1591.9 594.2,1598.0 594.8,1603.2 595.4,1608.4 596.0,1612.2 596.6,1613.6 597.2,1613.5 597.8,1614.1 598.4,1616.1 599.0,1618.3 599.6,1618.8 600.2,1617.3 600.8,1615.6 601.4,1615.6 602.0,1617.1 602.6,1618.3 603.2,1617.8 603.8,1616.4 604.4,1616.1 605.0,1617.5 605.6,1619.5 606.2,1619.8 606.8,1618.2 607.4,1616.3 608.0,1615.9 608.6,1616.8 609.2,1617.3 609.8,1616.2 610.4,1614.0 611.0,1612.9 611.6,1613.7 612.2,1615.1 612.8,1614.9 613.4,1612.6 614.0,1609.6 614.6,1607.6 615.2,1606.3 615.8,1603.5 616.4,1597.7 617.0,1588.7 617.6,1577.7 618.2,1564.0 618.8,1544.4 619.4,1517.1 620.0,1490.4 620.6,1484.5 621.2,1505.6 621.8,1536.2 622.4,1561.3 623.0,1577.2 623.6,1586.5 624.2,1593.1 624.8,1599.2 625.4,1604.8 626.0,1608.3 626.6,1609.5 627.2,1610.1 627.8,1611.9 628.4,1614.8 629.0,1617.1 629.6,1617.2 630.2,1615.7 630.8,1614.9 631.4,1615.8 632.0,1617.5 632.6,1618.1 633.2,1617.1 633.8,1616.0 634.4,1616.6 635.0,1618.8 635.6,1620.7 636.2,1620.6 636.8,1619.0 637.4,1618.0 638.0,1618.6 638.6,1620.0 639.2,1620.2 639.8,1618.7 640.4,1617.1 641.0,1617.2 641.6,1619.1 642.2,1621.0 642.8,1621.0 643.4,1619.7 644.0,1618.9 644.6,1619.8 645.2,1621.3 645.8,1621.5 646.4,1619.8 647.0,1617.9 647.6,1617.6 648.2,1619.1 648.8,1620.7 649.4,1620.7 650.0,1619.5 650.6,1618.9 651.2,1620.0 651.8,1621.8 652.4,1622.3" fill="none" stroke="#b020b4" stroke-width="1.5"/>
<text x="559" y="1459.5" font-size="11.5" text-anchor="start" font-weight="normal" font-style="normal" fill="#111" stroke="#111" stroke-width="0.25" textLength="97" lengthAdjust="spacingAndGlyphs">m/<tspan font-size="11">△</tspan> m=295000</text>
<text x="611" y="1477" font-size="13.4" text-anchor="start" font-weight="normal" font-style="normal" fill="#111" stroke="#111" stroke-width="0.25">y4'</text>
<text x="581.5" y="1521.2" font-size="13.4" text-anchor="start" font-weight="normal" font-style="normal" fill="#111" stroke="#111" stroke-width="0.7">b4</text>
<line x1="590.9" y1="1528.9" x2="590.9" y2="1552.4" stroke="#111" stroke-width="1.8"/>
<text x="583.5" y="1609.4" font-size="10" text-anchor="start" font-weight="normal" font-style="normal" fill="#111" stroke="#111" stroke-width="0.25" transform="rotate(-90 583.5 1609.4)" textLength="67" lengthAdjust="spacingAndGlyphs">428.210401</text>
<text x="634.5" y="1548" font-size="10" text-anchor="start" font-weight="normal" font-style="normal" fill="#111" stroke="#111" stroke-width="0.25" transform="rotate(-90 634.5 1548)" textLength="59.5" lengthAdjust="spacingAndGlyphs">428.22522</text>
<text x="610.4" y="1602.7" font-size="10" text-anchor="start" font-weight="normal" font-style="normal" fill="#111" stroke="#111" stroke-width="0.25" transform="rotate(-90 610.4 1602.7)" textLength="53.5" lengthAdjust="spacingAndGlyphs">11.2 mDa</text>
<line x1="597.6" y1="1608.4" x2="616.1" y2="1608.4" stroke="#111" stroke-width="1.25"/>
<line x1="597.6" y1="1605" x2="597.6" y2="1612" stroke="#111" stroke-width="1.25"/>
<line x1="616.1" y1="1605" x2="616.1" y2="1612" stroke="#111" stroke-width="1.25"/>
<polyline points="600.5,1606 597.8,1608.4 600.5,1610.8" fill="none" stroke="#111" stroke-width="1.15"/>
<polyline points="613.2,1606 615.9,1608.4 613.2,1610.8" fill="none" stroke="#111" stroke-width="1.15"/>
</svg>
</body></html>
